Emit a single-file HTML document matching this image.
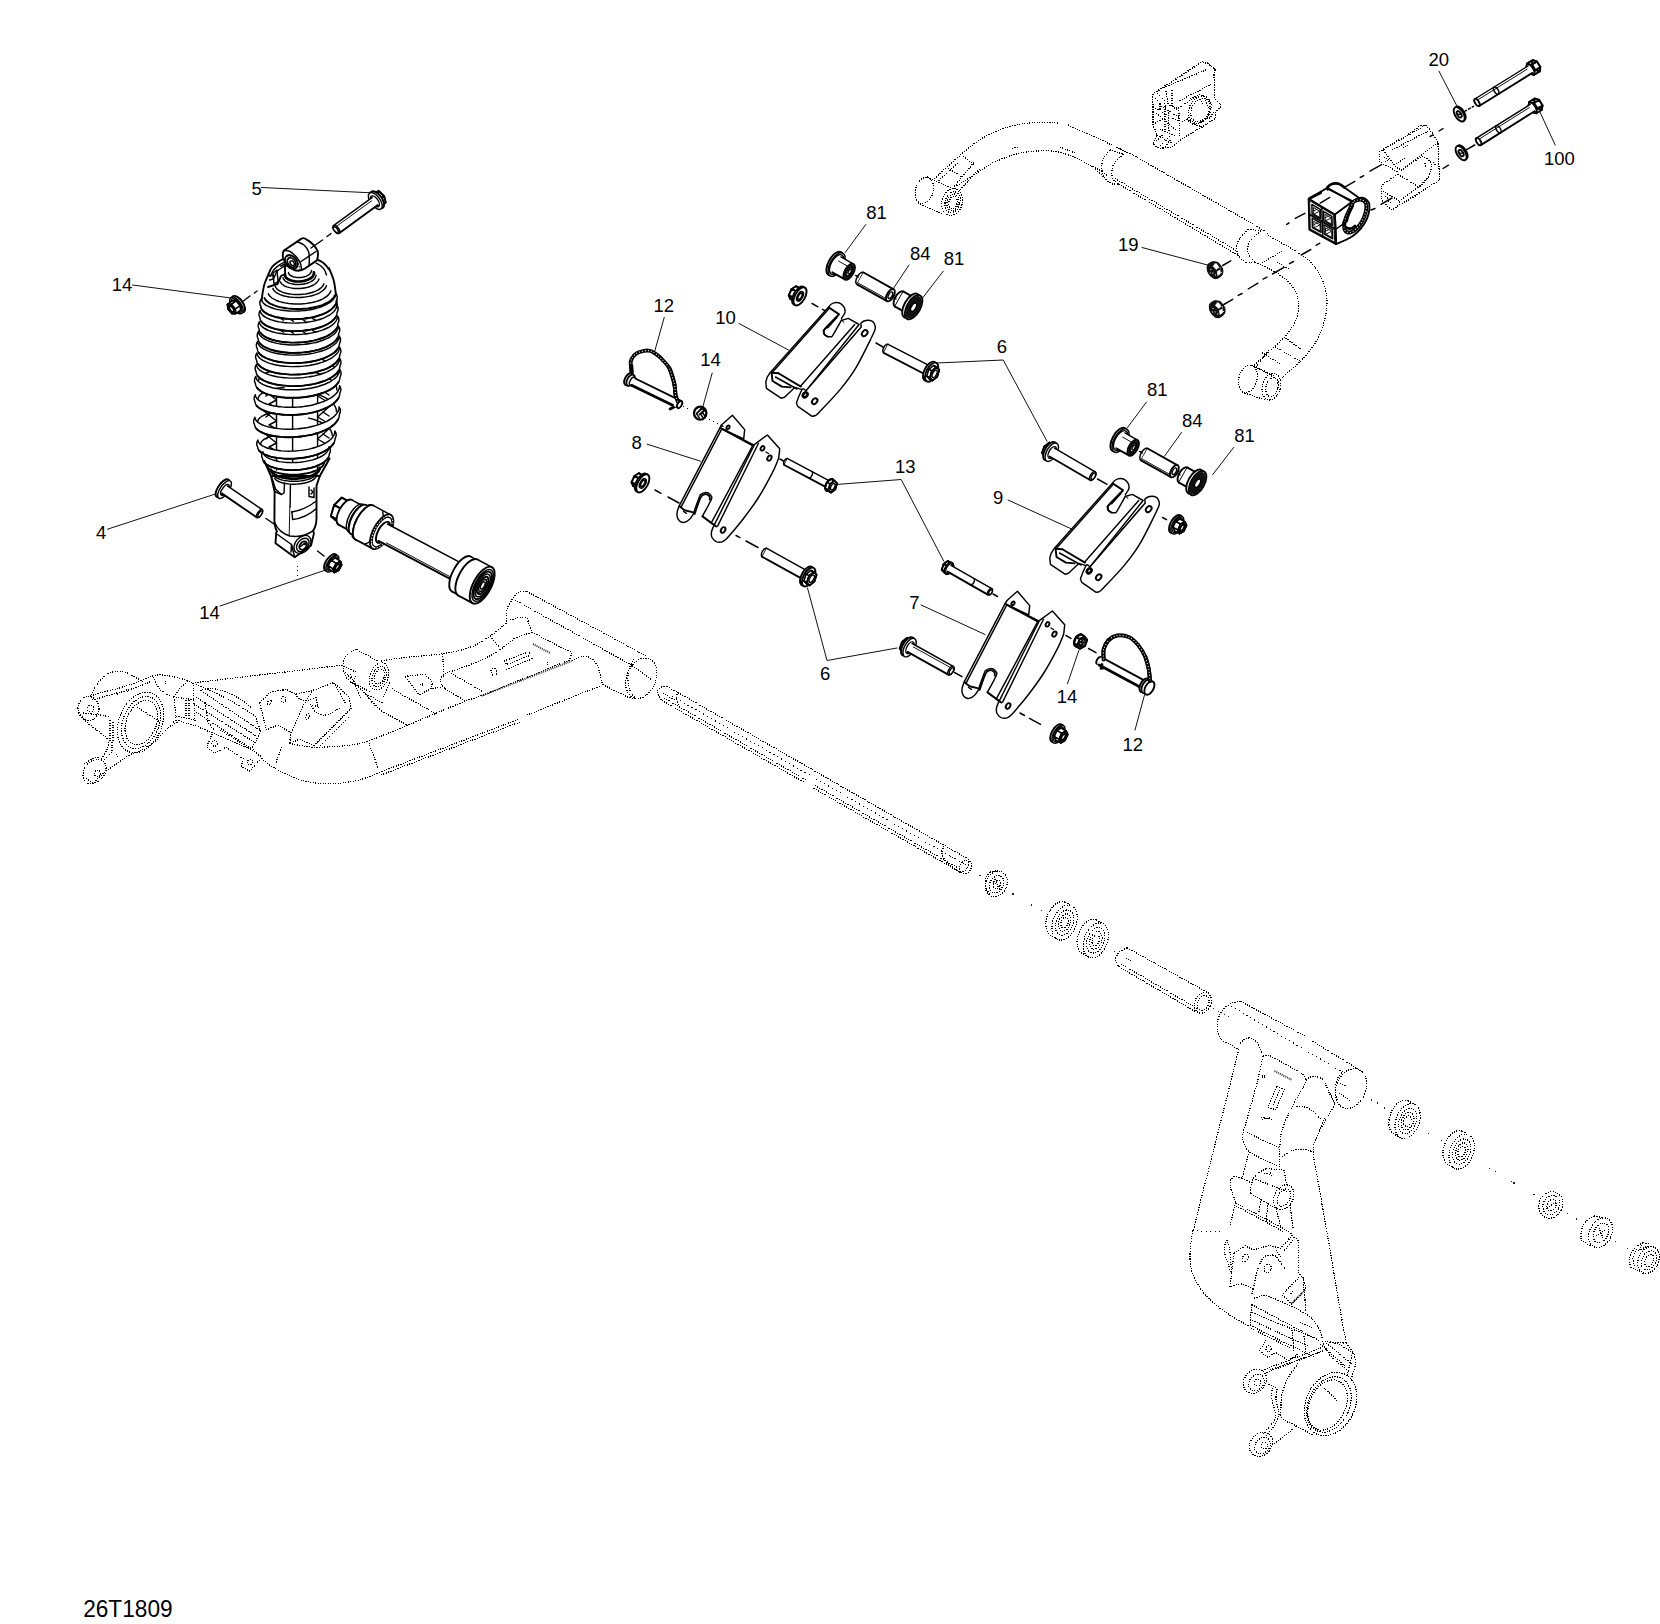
<!DOCTYPE html>
<html><head><meta charset="utf-8"><title>26T1809</title>
<style>
html,body{margin:0;padding:0;background:#fff;}
body{width:1660px;height:1624px;overflow:hidden;font-family:"Liberation Sans",sans-serif;}
svg{display:block}
svg text{font-family:"Liberation Sans",sans-serif;fill:#000;}
.k{fill:none;stroke:#000;stroke-width:1.45;stroke-linecap:round;stroke-linejoin:round}
.o{fill:none;stroke:#000;stroke-width:1.9;stroke-linecap:round;stroke-linejoin:round}
.h{fill:none;stroke:#000;stroke-width:2.7;stroke-linecap:round;stroke-linejoin:round}
.t{fill:none;stroke:#111;stroke-width:1.0;stroke-linecap:round}
.w{fill:#fff;stroke:#000;stroke-width:1.45;stroke-linejoin:round}
.wo{fill:#fff;stroke:#000;stroke-width:1.9;stroke-linejoin:round}
.wf{fill:#fff;stroke:none}
.wh{fill:#fff;stroke:#000;stroke-width:2.3}
.b{fill:#111;stroke:#111;stroke-width:1}
.d{shape-rendering:crispEdges;fill:none;stroke:#000;stroke-width:1.18;stroke-dasharray:1.2 1.3;stroke-linecap:butt}
.dw{fill:#fff;stroke:#000;stroke-width:1.05;stroke-dasharray:1.05 1.3;stroke-linecap:butt}
.d1{shape-rendering:crispEdges;fill:none;stroke:#222;stroke-width:1.2}
.d2{fill:none;stroke:#333;stroke-width:2;stroke-dasharray:1 1;stroke-linecap:butt}
.c{fill:none;stroke:#111;stroke-width:1;stroke-dasharray:11 5 2 5;stroke-linecap:butt}
.c2{fill:none;stroke:#111;stroke-width:1.6;stroke-dasharray:1.2 1.6;stroke-linecap:butt}
.ring{fill:none;stroke:#000;stroke-width:3.9;stroke-linecap:round}
.ringd{fill:none;stroke:#fff;stroke-width:1.1;stroke-dasharray:1 2;stroke-linecap:butt}
.cd{shape-rendering:crispEdges;fill:none;stroke:#000;stroke-width:1.1;stroke-dasharray:1.1 3.4;stroke-linecap:butt}
</style></head>
<body>
<svg width="1660" height="1624" viewBox="0 0 1660 1624">
<g id="p00_labels">
<text x="251.4" y="194.5" font-size="18.5" text-anchor="start">5</text>
<text x="111.7" y="290.5" font-size="18.5" text-anchor="start">14</text>
<text x="96" y="539" font-size="18.5" text-anchor="start">4</text>
<text x="199.2" y="618.5" font-size="18.5" text-anchor="start">14</text>
<text x="653.5" y="312.2" font-size="18.5" text-anchor="start">12</text>
<text x="715.2" y="323.5" font-size="18.5" text-anchor="start">10</text>
<text x="700.2" y="365.5" font-size="18.5" text-anchor="start">14</text>
<text x="631.5" y="449.2" font-size="18.5" text-anchor="start">8</text>
<text x="866.3" y="218.8" font-size="18.5" text-anchor="start">81</text>
<text x="910" y="260" font-size="18.5" text-anchor="start">84</text>
<text x="943.8" y="265" font-size="18.5" text-anchor="start">81</text>
<text x="996.8" y="353" font-size="18.5" text-anchor="start">6</text>
<text x="1118" y="250.5" font-size="18.5" text-anchor="start">19</text>
<text x="1147" y="396" font-size="18.5" text-anchor="start">81</text>
<text x="1182" y="427" font-size="18.5" text-anchor="start">84</text>
<text x="1234.3" y="442" font-size="18.5" text-anchor="start">81</text>
<text x="895" y="472.8" font-size="18.5" text-anchor="start">13</text>
<text x="992.9" y="504.4" font-size="18.5" text-anchor="start">9</text>
<text x="909.2" y="609.2" font-size="18.5" text-anchor="start">7</text>
<text x="820" y="680" font-size="18.5" text-anchor="start">6</text>
<text x="1056.7" y="703.2" font-size="18.5" text-anchor="start">14</text>
<text x="1122.5" y="750.5" font-size="18.5" text-anchor="start">12</text>
<text x="1428.4" y="65.5" font-size="18.5" text-anchor="start">20</text>
<text x="1544" y="164.5" font-size="18.5" text-anchor="start">100</text>
<text x="83.2" y="1616.8" font-size="23.5" text-anchor="start" textLength="89.4" lengthAdjust="spacingAndGlyphs">26T1809</text>
<path class="t" d="M261.5 187.5 L375 193"/>
<path class="t" d="M132.5 285 L231 298"/>
<path class="t" d="M107.5 529.2 L217 493.5"/>
<path class="t" d="M220 606 L326.2 569.8"/>
<path class="t" d="M664.2 317.5 L654.8 351"/>
<path class="t" d="M739 323.5 L788.5 350"/>
<path class="t" d="M712.2 373 L701.8 410.5"/>
<path class="t" d="M647.2 444.2 L700.5 461.2"/>
<path class="t" d="M865.8 224.5 L845.2 252.5"/>
<path class="t" d="M909 265 L893.2 288.8"/>
<path class="t" d="M943.2 271.2 L922 298.8"/>
<path class="t" d="M937 363 L1003.2 360 L1047 441.2"/>
<path class="t" d="M1142 247.5 L1212 266.2"/>
<path class="t" d="M1146.5 402 L1127.5 427.5"/>
<path class="t" d="M1181.5 432.5 L1164.5 456.2"/>
<path class="t" d="M1233.7 447.4 L1212.8 474.5"/>
<path class="t" d="M836.2 484.5 L901.2 479.5 L943.8 561.2"/>
<path class="t" d="M1008 500 L1071.2 528.8"/>
<path class="t" d="M921.2 605 L985 634.5"/>
<path class="t" d="M807.5 588 L827 660.5 L897 648"/>
<path class="t" d="M1067.5 683.8 L1078.8 650.5"/>
<path class="t" d="M1135 730 L1144.5 695"/>
<path class="t" d="M1439 71.2 L1459 110"/>
<path class="t" d="M1555.2 145 L1539 110"/>
</g>
<g id="p05_phantom_top">
<path class="d" d="M932.5 180.4 C937.3 176 953.3 161.1 961.4 154.2 C969.5 147.3 974.1 143.3 981.3 138.9 C988.5 134.5 996.7 130.7 1004.8 128 C1012.9 125.3 1021.1 123.8 1030.1 123 C1039.1 122.2 1054.2 123 1059 123"/>
<path class="d" d="M1068.1 124.9 C1073.2 127.2 1090.7 135.2 1098.8 138.9 C1106.9 142.7 1111.2 144.7 1116.9 147.4 C1122.6 150.1 1130.4 153.8 1133.1 155.1"/>
<path class="d" d="M1133.1 155.1 L1257.1 226.3"/>
<path class="d" d="M952.4 188.6 C956.9 185.7 972.6 175.8 979.5 171.4 C986.4 167 988 165.3 994 162.4 C1000 159.5 1008.5 156.1 1015.7 154.2 C1022.9 152.3 1030.8 151.4 1037.4 151 C1044 150.6 1049.4 150.5 1055.4 151.5 C1061.4 152.5 1067.5 154.5 1073.5 156.9 C1079.5 159.3 1086.8 163.6 1091.6 166 C1096.4 168.4 1100.6 170.5 1102.4 171.4"/>
<path class="d" d="M957.8 163.2 L937.9 181.3"/>
<path class="d" d="M974 162.4 L952.4 188.6"/>
<path class="d" d="M979.5 168.7 L957.8 192.2"/>
<path class="d" d="M963 156 L975 166"/>
<path class="d" d="M948 168 L962 177"/>
<path class="d" d="M1012 148.5 L1018 147"/>
<path class="d" d="M1060 147 L1075 153"/>
<ellipse class="d" cx="924.4" cy="190.4" rx="8.8" ry="13.4" transform="rotate(15 924.4 190.4)"/>
<path class="d" d="M927.1 176.8 L952.4 188.6"/>
<path class="d" d="M918.1 203 L943.4 214.5"/>
<ellipse class="d" cx="952.2" cy="202" rx="10.2" ry="13.8" transform="rotate(15 952.2 202)"/>
<ellipse class="d" cx="952.6" cy="202.2" rx="7.4" ry="10.6" transform="rotate(15 952.6 202.2)"/>
<ellipse class="d" cx="952.8" cy="202.4" rx="5.6" ry="8.6" transform="rotate(15 952.8 202.4)"/>
<ellipse class="d" cx="953" cy="202.4" rx="4" ry="6.4" transform="rotate(15 953 202.4)"/>
<path class="d" d="M1109.6 149.7 C1108.4 151.7 1103.5 157.1 1102.4 161.5 C1101.4 165.9 1101.8 172.2 1103.3 175.9 C1104.8 179.7 1110.1 182.7 1111.5 184"/>
<path class="d" d="M1123.2 154.2 C1121.5 156 1115.1 161.2 1113.3 165.1 C1111.5 169 1111.5 174.5 1112.4 177.7 C1113.3 180.8 1117.7 182.9 1118.7 184"/>
<path class="d" d="M1109.6 149.7 L1123.2 154.2"/>
<path class="d" d="M1111.5 184 L1118.7 184"/>
<path class="d" d="M1116.9 147.4 L1128 153"/>
<path class="d" d="M1118.7 184 L1240.5 256.8"/>
<path class="d" d="M1115 178.5 L1238 251.5"/>
<path class="d" d="M1102.4 171.4 L1108 176"/>
<path class="d" d="M1091.6 166 L1105 178"/>
<path class="d" d="M1247.9 229.1 C1246.2 231.2 1239.4 237.7 1237.7 242 C1236 246.3 1236.3 251.5 1237.7 254.9 C1239.1 258.3 1244.6 261.1 1246 262.3"/>
<path class="d" d="M1260.8 230.9 C1259 232.8 1251.8 238.3 1249.7 242 C1247.6 245.7 1247 249.7 1247.9 253.1 C1248.8 256.5 1254.1 260.8 1255.3 262.3"/>
<path class="d" d="M1247.9 229.1 L1260.8 230.9"/>
<path class="d" d="M1246 262.3 L1255.3 262.3"/>
<path class="d" d="M1257.1 226.3 L1268.2 233.5"/>
<path class="d" d="M1268.2 235.5 C1273.8 238.7 1293.2 248.9 1301.5 254.9 C1309.8 260.9 1313.9 265.1 1318.1 271.6 C1322.2 278.1 1325.2 286.4 1326.4 293.8 C1327.6 301.2 1326.9 308.5 1325.5 315.9 C1324.1 323.3 1321.8 331 1318.1 338.1 C1314.4 345.2 1308.8 352.3 1303.3 358.5 C1297.8 364.7 1289.2 370.9 1284.8 375.1 C1280.4 379.4 1278.3 382.5 1277 384"/>
<path class="d" d="M1255.3 262.3 C1259 264.1 1271.2 269.4 1277.4 273.4 C1283.6 277.4 1288.7 281.5 1292.2 286.4 C1295.8 291.3 1298.1 297.5 1298.7 303 C1299.3 308.5 1297.9 314.4 1295.9 319.6 C1293.9 324.8 1290.4 329.8 1286.7 334.4 C1283 339 1279.3 342.2 1273.8 347.4 C1268.2 352.6 1256.8 362.7 1253.4 365.8"/>
<path class="d" d="M1282 251 L1262 263"/>
<path class="d" d="M1277 262 L1290 270"/>
<path class="d" d="M1275 347 L1300 361"/>
<path class="d" d="M1285.5 338 L1302 350"/>
<path class="d" d="M1262 352.5 L1280 364"/>
<path class="d" d="M1254 365.8 L1275 378"/>
<path class="d" d="M1268.5 350.5 L1255.5 367.5"/>
<ellipse class="d" cx="1247.9" cy="378.8" rx="9" ry="14" transform="rotate(15 1247.9 378.8)"/>
<path class="d" d="M1250.5 365 L1273.8 375.1"/>
<path class="d" d="M1242.3 392.2 L1266.4 400.5"/>
<ellipse class="d" cx="1271.4" cy="386.6" rx="9" ry="13.6" transform="rotate(15 1271.4 386.6)"/>
<ellipse class="d" cx="1272" cy="387" rx="6" ry="9.6" transform="rotate(15 1272 387)"/>
<path class="d" d="M1152.4 94.7 L1201.8 62.2 L1207.9 63.6 L1215.4 69.6 L1214 74.4 L1214.7 98.8 L1221.5 105.6 L1215.7 112.3 L1215.7 118.4 L1180.1 140.1 L1171.3 147.6 L1159.1 148.2 L1153 144.2 L1157.1 135.4 L1153 124.5 L1153 106.2Z"/>
<path class="d" d="M1154 93 L1203 61"/>
<path class="d" d="M1207 62.5 L1216 70.5"/>
<path class="d" d="M1163.9 87.9 L1206.6 69.6"/>
<path class="d" d="M1179.5 100.8 L1210.6 84.6"/>
<path class="d" d="M1172 90 L1172 106.2 L1178.8 107.6 L1197.8 95.4"/>
<path class="d" d="M1178.8 107.6 L1179.5 138.1"/>
<path class="d" d="M1166 91 L1168 104 L1178 110"/>
<path class="d" d="M1157 93 L1164 100 L1166 108"/>
<path class="d" d="M1155 98 L1160 103 L1160 110"/>
<path class="d" d="M1153 107 L1178 121"/>
<path class="d" d="M1156 113 L1176 130"/>
<path class="d" d="M1161 106 L1180 118"/>
<path class="d" d="M1153 124.5 L1165 118"/>
<path class="d" d="M1165 106 L1165 130"/>
<path class="d" d="M1168.5 110 L1169 132"/>
<path class="d" d="M1157.1 135.4 L1172 143"/>
<path class="d" d="M1160 129 L1176 136"/>
<path class="d" d="M1156 141 L1165 133"/>
<path class="d" d="M1160 146 L1170 136"/>
<path class="d" d="M1165 147 L1171 139"/>
<path class="d" d="M1182 122 L1188 119"/>
<ellipse class="d" cx="1199.8" cy="109.6" rx="10.5" ry="14.4" transform="rotate(28 1199.8 109.6)"/>
<ellipse class="d" cx="1200.4" cy="110" rx="8.6" ry="12.4" transform="rotate(28 1200.4 110)"/>
<path class="d" d="M1190 99 L1200 94.5 L1207 98 L1211 104"/>
<path class="d" d="M1187 118 L1192 124 L1200 126"/>
<path class="d" d="M1197 95 L1201 101 L1203 104"/>
<path class="d" d="M1204 98 L1209 108 L1212 110"/>
<path class="d" d="M1188 121 L1204 128"/>
<path class="d" d="M1198 124 L1212 116"/>
<path class="d" d="M1209 119 L1214 112"/>
<path class="d" d="M1408.2 134.4 L1421.1 125.3 L1425.6 125.3 L1430.2 129.9 L1437.9 142.2 L1438.9 164.2 L1439.5 179.7 L1437.3 181.6 L1400.4 204.3"/>
<path class="d" d="M1399.1 139.3 L1379.4 152.2 L1379.4 161.6 L1397.8 171.9 L1399 173"/>
<path class="d" d="M1397.8 174.2 L1381.6 185.2 L1381.6 199.7 L1390.7 209.4 L1394.6 208.8 L1399.8 204.3 L1399.1 199.7"/>
<path class="d" d="M1397.8 174.2 L1418.5 186.8"/>
<path class="d" d="M1401 200 L1418.5 186.8 L1428.2 177.1"/>
<path class="d" d="M1401 170.6 C1404 168.6 1415.4 160.6 1419.2 158.3 C1423 156 1421.9 156.4 1423.7 157 C1425.5 157.6 1428.9 160 1430.2 161.6 C1431.5 163.2 1431.7 164.1 1431.4 166.7 C1431.1 169.3 1430.4 173.5 1428.2 177.1 C1426 180.7 1420.1 186.3 1418.5 188.1"/>
<path class="d" d="M1401 170.6 L1437.9 142.2"/>
<path class="d" d="M1382.9 191.3 L1399.8 201"/>
<path class="d" d="M1385 196 L1389 199"/>
<path class="d" d="M1388 201 L1391 203"/>
<path class="d" d="M1383.3 149.3 L1425.6 125.3"/>
<path class="d" d="M1392 150 L1430.2 129.9"/>
<path class="d" d="M1383 150 L1396 167 L1401 170"/>
<path class="d" d="M1384 157 L1389 160"/>
<path class="d" d="M1385 161.5 L1388 160.5"/>
<path class="d" d="M1396 164 L1405 158"/>
<path class="d" d="M1403 148 L1408 145"/>
<path class="d" d="M1404 203 L1420 193"/>
<path class="d" d="M1425 163 L1426 168"/>
<path class="d" d="M1433 162 L1436 166"/>
</g>
<g id="p06_phantom_left">
<ellipse class="d" cx="140.5" cy="722.5" rx="21.5" ry="31.5" transform="rotate(22 140.5 722.5)"/>
<ellipse class="d" cx="141" cy="722.5" rx="18" ry="27" transform="rotate(22 141 722.5)"/>
<ellipse class="d" cx="141.4" cy="722.5" rx="15" ry="23" transform="rotate(22 141.4 722.5)"/>
<path class="d" d="M137 707 L160 722"/>
<path class="d" d="M90.8 695.2 C91.7 693.7 94.1 688.9 96 686 C97.9 683.1 100.1 680 102.4 677.8 C104.7 675.6 107.4 674.1 110 673 C112.6 671.9 114.9 671.1 117.8 671.1 C120.7 671.1 124.6 672 127.5 673 C130.4 674 132.4 675.5 135 677 C137.6 678.5 141.6 680.9 142.9 681.7"/>
<ellipse class="d" cx="88.5" cy="708.5" rx="10.5" ry="12" transform="rotate(0 88.5 708.5)"/>
<ellipse class="d" cx="90.5" cy="708.5" rx="3.2" ry="3.2" transform="rotate(0 90.5 708.5)"/>
<path class="d" d="M79.3 712.5 C80.1 713.6 82.4 717.1 84 719 C85.6 720.9 86.6 722.1 88.9 724.1 C91.2 726.1 94.8 728.4 98 731 C101.2 733.6 106.5 738.1 108.2 739.5"/>
<path class="d" d="M83 713 L101 715 L110 717"/>
<path class="d" d="M88 697 C90 696.3 95 694.4 100 693 C105 691.6 112 690.1 117.8 688.4 C123.6 686.7 129.2 685.1 135 683 C140.8 680.9 147.8 677.2 152.5 675.9 C157.2 674.6 159.5 674.8 163 675 C166.5 675.2 170.2 676.1 173.7 676.9 C177.2 677.6 180.8 678.5 184 679.5 C187.2 680.5 191.5 682.2 193 682.7"/>
<path class="d" d="M92 700 C95 699.2 104.5 696.5 110 695 C115.5 693.5 120 692.5 125 691 C130 689.5 135.5 687.7 140 686 C144.5 684.3 150 681.8 152 681"/>
<path class="d" d="M116 692 L118 695"/>
<path class="d" d="M126 689 L128 692"/>
<path class="d" d="M173.7 697.1 C173.9 698.8 174.7 703.5 175 707 C175.3 710.5 176.2 715.5 175.7 718.3 C175.2 721.1 173.3 722.4 172 724 C170.7 725.6 168.7 727.3 168 728"/>
<path class="d" d="M173.7 697.1 L180 688 L188 681"/>
<path class="d" d="M153 677 L160 690 L170 696"/>
<path class="d" d="M165 681 L166 684"/>
<path class="d" d="M168 728 C166.7 729.3 162.6 733.4 160 736 C157.4 738.6 155.7 741.1 152.5 743.4 C149.3 745.7 144.8 748.1 141 750 C137.2 751.9 131.3 754.1 129.4 754.9"/>
<path class="d" d="M129.4 754.9 L104.3 772.3"/>
<path class="d" d="M108.2 739.5 C108.2 740.4 108.9 742.9 108.5 745 C108.1 747.1 107.2 749.7 106 752 C104.8 754.3 102.2 757.7 101.4 758.8"/>
<path class="d" d="M112 742 L112 752 L104 760"/>
<path class="d" d="M110 720 L110 741"/>
<path class="d" d="M113 722 L113 742"/>
<path class="d" d="M116 754 L118 757"/>
<path class="d" d="M104 754 L107 750"/>
<ellipse class="d" cx="94.5" cy="771.5" rx="10" ry="13.5" transform="rotate(40 94.5 771.5)"/>
<ellipse class="d" cx="97.5" cy="773.5" rx="3.4" ry="3.4" transform="rotate(0 97.5 773.5)"/>
<path class="d" d="M84 764 C85.3 763.2 89.3 760.2 92 759 C94.7 757.8 98.7 757.3 100 757"/>
<path class="d" d="M86 778 L93 783.5 L104.3 772.3"/>
<path class="d" d="M194.9 682.7 L341.4 665.3"/>
<path class="d" d="M193 682.7 L195 722"/>
<path class="d" d="M175.7 697 L194 700"/>
<path class="d" d="M176 716 L194 720"/>
<path class="d" d="M200.7 690.4 L260.5 730.8"/>
<path class="d" d="M196 684 L205 688 L230 700 L255 716 L260.5 730.8"/>
<path class="d" d="M200 690.5 C202 690.2 207.7 688.2 212 688.5 C216.3 688.8 221.3 690.2 226 692 C230.7 693.8 235.7 696.3 240 699 C244.3 701.7 250 706.5 252 708"/>
<path class="d" d="M196 697 L256 736"/>
<path class="d" d="M194 704 L254 742"/>
<path class="d" d="M196 712 L252 749"/>
<path class="d" d="M176 720 L196 726 L250.8 749.2"/>
<path class="d" d="M260.5 730.8 L256 741 L250.8 749.2"/>
<path class="d" d="M186 700 L186 718"/>
<path class="d" d="M189 700 L189 720"/>
<path class="d" d="M205 703 L208 722 L214 730"/>
<path class="d" d="M168 728 L178 722"/>
<path class="d" d="M212.3 733.7 L206.5 747.2 L214.2 753 L225.8 747.2 L243.1 758.8 L241.2 766.5 L249.9 771.3 L260.5 758.8"/>
<ellipse class="d" cx="214.5" cy="743.3" rx="2.8" ry="2.8" transform="rotate(0 214.5 743.3)"/>
<ellipse class="d" cx="250" cy="762.3" rx="2.8" ry="2.8" transform="rotate(0 250 762.3)"/>
<path class="d" d="M220 730 L250.8 749.2 L262 757"/>
<path class="d" d="M259.5 702.9 L270.1 692.3 L286.5 689.4 L295.2 694.2 L312.5 690.4 L333.7 682.7"/>
<path class="d" d="M259.5 702.9 L266.3 729.9 L277.8 725.1 L291.3 732.8 L289.4 743.4 L299 739.5 L314.5 745.3 L351.1 708.7 L349.2 697.1 L333.7 682.7"/>
<path class="d" d="M291.3 732.8 L301 710.6 L307 699 L312.5 690.4"/>
<ellipse class="d" cx="269.5" cy="702.5" rx="2.4" ry="1.6" transform="rotate(-30 269.5 702.5)"/>
<ellipse class="d" cx="283.5" cy="699.5" rx="2.2" ry="3" transform="rotate(20 283.5 699.5)"/>
<ellipse class="d" cx="307.5" cy="716.5" rx="1.6" ry="3" transform="rotate(30 307.5 716.5)"/>
<path class="d" d="M295.2 694.2 C296 695 297.9 698 300 699 C302.1 700 305.3 700.8 308 700.5 C310.7 700.2 314.7 697.6 316 697"/>
<path class="d" d="M310 704 C311 705.3 313.3 710.2 316 712 C318.7 713.8 322 715.7 326 715 C330 714.3 337.7 709.2 340 708"/>
<path class="d" d="M316 697 L318 707 L310 704"/>
<path class="d" d="M333.7 682.7 L346 704"/>
<path class="d" d="M316 744 L348 712"/>
<path class="d" d="M320 746 L350 716"/>
<path class="d" d="M252.8 749.2 C256 752.1 264 761.4 272 766.5 C280 771.6 291.4 777.1 301 780 C310.6 782.9 320.3 783.9 329.9 783.9 C339.5 783.9 350.6 781.9 358.8 780 C367 778.1 375.8 773.8 379.2 772.5"/>
<path class="d" d="M289.4 743.4 C293.6 744 304.5 746.9 314.5 747.2 C324.5 747.5 340.5 746.2 349.2 745.3 C357.9 744.4 363.9 742.4 366.9 741.8"/>
<path class="d" d="M281.7 747.2 L275.9 762.7"/>
<path class="d" d="M368.9 742.8 L378.1 768.4"/>
<path class="d" d="M379.2 772.5 L518.4 719.3"/>
<path class="d" d="M381 775 L520 722"/>
<path class="d" d="M526.6 715.2 L600 686"/>
<path class="d" d="M366.9 741.8 L407.8 725.4 L436.5 713.1 L465.2 700.9 L481.6 695.7"/>
<path class="d" d="M356.6 649.6 C355.2 650.2 350.6 651.8 348.5 653.5 C346.4 655.2 345.2 657.1 344.3 659.9 C343.4 662.7 343 667.2 343.3 670.1 C343.6 673 344.8 675 346 677 C347.2 679 349.8 681.5 350.5 682.4"/>
<path class="d" d="M356.6 649.6 L379.2 661.9"/>
<path class="d" d="M350.5 682.4 L371 692"/>
<ellipse class="d" cx="379" cy="676.3" rx="9" ry="14" transform="rotate(20 379 676.3)"/>
<ellipse class="d" cx="379.2" cy="676.5" rx="6.6" ry="10.6" transform="rotate(20 379.2 676.5)"/>
<ellipse class="d" cx="379.4" cy="676.6" rx="4.6" ry="7.6" transform="rotate(20 379.4 676.6)"/>
<path class="d" d="M343.3 670.1 L381.2 711"/>
<path class="d" d="M350.5 674 L360.7 698.8"/>
<path class="d" d="M389.4 682.4 L383.2 698.8"/>
<path class="d" d="M352 682 L362 690 L375 706"/>
<path class="d" d="M356 676 L352 684"/>
<path class="d" d="M366 694 L384 704"/>
<path class="d" d="M341.4 665.3 L356 672"/>
<path class="d" d="M506.2 623 C503.5 625.2 495.9 632.2 489.8 636.3 C483.7 640.4 477.2 644.7 469.3 647.6 C461.4 650.5 452.3 652.2 442.7 653.7 C433.1 655.2 421.1 655.8 411.9 656.8 C402.7 657.8 392.7 659.1 387.4 659.9 C382.1 660.7 381.2 661.2 380 661.5"/>
<path class="d" d="M514.4 638.4 C511 641 501.4 649.3 493.9 653.7 C486.4 658.1 477.5 661.6 469.3 665 C461.1 668.4 449.5 671.3 444.7 674.2 C439.9 677.1 440.6 680 440.6 682.4 C440.6 684.8 444 687.6 444.7 688.6"/>
<path class="d" d="M510 620 C511.5 619.6 516.2 617.9 519 617.5 C521.8 617.1 525 616.8 526.6 617.9 C528.2 619 527.8 621.6 528.7 624 C529.6 626.4 531.3 630.8 531.8 632.2"/>
<path class="d" d="M531.8 632.2 L514.4 638.4"/>
<path class="d" d="M442.7 653.7 L443.7 678.3"/>
<path class="d" d="M489.8 636.3 L500 647.6"/>
<path class="d" d="M450.8 673.2 L482.6 691.6"/>
<path class="d" d="M444.7 688.6 L465.2 700.9"/>
<path class="d" d="M391.5 688.6 L436.5 714.2"/>
<path class="d" d="M381.2 711 L407.8 725.4"/>
<path class="d" d="M404.8 676.3 L425.2 674.2 L432.4 682.4 L431.4 688.6 L419.1 694.7Z"/>
<path class="d" d="M420 684 L423 686"/>
<path class="d" d="M423 683.5 L420.5 686.5"/>
<path class="d" d="M432.4 688.6 L442 687"/>
<path class="d" d="M531.8 632.2 L571.7 652.7 L569.7 659.9 L481.6 695.7"/>
<path class="d2" d="M481.6 695.7 L571.7 660.9"/>
<path class="d" d="M504 661 L529 651.6 L531 655 L506.5 664.5Z"/>
<path class="d" d="M506 669.5 L533 658.5"/>
<ellipse class="d" cx="494" cy="672" rx="2.8" ry="4" transform="rotate(-20 494 672)"/>
<path class="d2" d="M533 644 L550 653"/>
<path class="d" d="M547 662 L548 664.5"/>
<path class="d" d="M571.7 660.9 C573.4 660.1 578.6 656.5 582 656.2 C585.4 655.9 589.5 656.9 592.2 658.9 C594.9 660.9 596.6 663.8 598.3 668.1 C600 672.4 601.7 681.8 602.4 684.5"/>
<path class="d" d="M526.6 591.3 L649.5 657.8"/>
<path class="d" d="M602.4 684.5 L627 696.8"/>
<path class="d" d="M526.6 591.3 C525.3 591.4 521 591.1 519 592 C517 592.9 516.4 593.6 514.4 596.4 C512.4 599.2 508.6 604.3 507.2 608.7 C505.8 613.1 506.4 620.6 506.2 623"/>
<ellipse class="d" cx="641.3" cy="678.3" rx="14.5" ry="21" transform="rotate(22 641.3 678.3)"/>
<path class="d" d="M630 664 L652 680"/>
<path class="d" d="M634 659 C633.2 660.7 630 665.2 629 669 C628 672.8 627.7 678 628 682 C628.3 686 629.7 690.3 631 693 C632.3 695.7 635.2 697.2 636 698"/>
<path class="d" d="M515 600 L633 666"/>
<path class="d" d="M627 696.8 L637 699.5"/>
</g>
<g id="p07_phantom_right">
<path class="d" d="M667.1 686.3 L952.3 850"/>
<path class="d" d="M661.7 700.4 L804.8 782.8"/>
<path class="d" d="M813.5 788.2 L961 872.8"/>
<path class="d" d="M664 698 L806 780"/>
<path class="d" d="M815 785.5 L958 868"/>
<path class="d" d="M667.1 686.3 C666 686.5 662.1 686.4 660.5 687.5 C658.9 688.6 657.1 690.6 657.3 692.8 C657.5 694.9 661 699.1 661.7 700.4"/>
<path class="d" d="M678 692 C677.8 693 676.2 695.3 676.5 698 C676.8 700.7 679.4 706.3 680 708"/>
<path class="d" d="M663 693 L676 701"/>
<path class="cd" d="M672 696 L950 856"/>
<path class="d" d="M944 846 C943.7 847.2 941.7 850.2 942 853 C942.3 855.8 945.3 860.9 946 862.5"/>
<path class="d" d="M952.3 850 L968 859"/>
<path class="d" d="M946 862.5 L961 872.8"/>
<path class="d" d="M968 859 C968.6 859.8 971.1 862.2 971.5 864 C971.9 865.8 971.4 868.4 970.5 870 C969.6 871.6 967.6 873 966 873.5 C964.4 874 961.8 872.9 961 872.8"/>
<ellipse class="d" cx="964" cy="866" rx="3.6" ry="6.4" transform="rotate(30 964 866)"/>
<path class="d" d="M950 856 L966 865"/>
<ellipse class="d" cx="996.3" cy="883.9" rx="10.5" ry="13.2" transform="rotate(25 996.3 883.9)"/>
<ellipse class="d" cx="996.6" cy="884.2" rx="6.8" ry="9" transform="rotate(25 996.6 884.2)"/>
<ellipse class="d" cx="997" cy="884.4" rx="3.2" ry="4.4" transform="rotate(25 997 884.4)"/>
<path class="d" d="M990 872 C989.2 873.2 986.2 876.2 985.5 879 C984.8 881.8 985.9 887.3 986 889"/>
<path class="d" d="M990 872 L998 870.6"/>
<path class="d" d="M986 889 L991 895"/>
<path class="d" d="M991 880 L1002 888"/>
<path class="d" d="M994 877 L1000 891"/>
<path class="d" d="M1053 936.4 C1052.6 936.2 1051.3 935.9 1050.6 935.4 C1049.9 934.9 1049.2 934.3 1048.6 933.6 C1048.1 932.9 1047.5 932 1047.1 931.1 C1046.7 930.2 1046.4 929.1 1046.2 928 C1046 926.9 1045.9 925.7 1045.9 924.5 C1045.8 923.3 1045.9 922 1046.1 920.7 C1046.3 919.4 1046.6 918.1 1047 916.8 C1047.4 915.6 1047.9 914.3 1048.4 913.1 C1049 911.9 1049.7 910.7 1050.4 909.6 C1051.1 908.6 1051.9 907.5 1052.7 906.6 C1053.5 905.7 1054.4 904.9 1055.3 904.3 C1056.2 903.6 1057.2 903 1058.1 902.6 C1059 902.2 1060 901.9 1060.9 901.7 C1061.8 901.6 1062.7 901.6 1063.5 901.7 C1064.4 901.9 1065.6 902.4 1066 902.6"/>
<path class="d" d="M1052 936.1 L1058.1 939.6"/>
<path class="d" d="M1065.1 902.1 L1071.1 905.6"/>
<ellipse class="d" cx="1064.6" cy="922.6" rx="18.2" ry="11.6" transform="rotate(111 1064.6 922.6)"/>
<ellipse class="d" cx="1064.6" cy="922.6" rx="13.1" ry="8.4" transform="rotate(111 1064.6 922.6)"/>
<ellipse class="d" cx="1064.6" cy="922.6" rx="9.1" ry="5.8" transform="rotate(111 1064.6 922.6)"/>
<ellipse class="d" cx="1064.6" cy="922.6" rx="5.5" ry="3.5" transform="rotate(111 1064.6 922.6)"/>
<path class="d" d="M1084.2 954.2 C1083.8 954 1082.5 953.7 1081.8 953.2 C1081.1 952.7 1080.4 952.1 1079.8 951.4 C1079.3 950.7 1078.7 949.8 1078.3 948.9 C1077.9 948 1077.6 946.9 1077.4 945.8 C1077.2 944.7 1077.1 943.5 1077.1 942.3 C1077 941.1 1077.1 939.8 1077.3 938.5 C1077.5 937.2 1077.8 935.9 1078.2 934.6 C1078.6 933.4 1079.1 932.1 1079.6 930.9 C1080.2 929.7 1080.9 928.5 1081.6 927.4 C1082.3 926.4 1083.1 925.3 1083.9 924.4 C1084.7 923.5 1085.6 922.7 1086.5 922.1 C1087.4 921.4 1088.4 920.8 1089.3 920.4 C1090.2 920 1091.2 919.7 1092.1 919.5 C1093 919.4 1093.9 919.4 1094.7 919.5 C1095.6 919.7 1096.8 920.2 1097.2 920.4"/>
<path class="d" d="M1083.2 953.9 L1089.3 957.4"/>
<path class="d" d="M1096.3 919.9 L1102.3 923.4"/>
<ellipse class="d" cx="1095.8" cy="940.4" rx="18.2" ry="11.6" transform="rotate(111 1095.8 940.4)"/>
<ellipse class="d" cx="1095.8" cy="940.4" rx="13.1" ry="8.4" transform="rotate(111 1095.8 940.4)"/>
<ellipse class="d" cx="1095.8" cy="940.4" rx="9.1" ry="5.8" transform="rotate(111 1095.8 940.4)"/>
<ellipse class="d" cx="1095.8" cy="940.4" rx="5.5" ry="3.5" transform="rotate(111 1095.8 940.4)"/>
<path class="d" d="M1127 947.9 L1209.6 993.5"/>
<path class="d" d="M1118.5 966.5 L1196.1 1012"/>
<path class="d" d="M1121 964 L1198 1009"/>
<path class="d" d="M1127 947.9 C1125.8 948.5 1121.8 950 1120 951.5 C1118.2 953 1117 955.4 1116.3 957 C1115.6 958.6 1115.6 959.8 1116 961.4 C1116.4 963 1118.1 965.6 1118.5 966.5"/>
<ellipse class="d" cx="1202.9" cy="1002.8" rx="8" ry="10.8" transform="rotate(25 1202.9 1002.8)"/>
<ellipse class="d" cx="1203.2" cy="1003" rx="5.4" ry="7.6" transform="rotate(25 1203.2 1003)"/>
<path class="d" d="M1126 958 L1132 961.5"/>
<path class="d1" d="M979.4 875.4 h1.2"/>
<path class="d1" d="M1012.3 894 h1.2"/>
<path class="d1" d="M1030.8 905 h1.2"/>
<path class="d1" d="M1041 910.8 h1.2"/>
<path class="d1" d="M1113.5 951.3 h1.2"/>
<path class="d1" d="M1213 1008.6 h1.2"/>
<path class="d1" d="M1218 1011.5 h1.2"/>
<path class="d" d="M1240.4 1001.2 C1238.5 1001.7 1232.7 1002.1 1229.2 1004.4 C1225.7 1006.7 1221.6 1010.7 1219.6 1014.8 C1217.6 1018.9 1216.9 1025.1 1217.2 1029.2 C1217.5 1033.3 1220.5 1037.9 1221.2 1039.6"/>
<path class="d" d="M1240.4 1001.2 L1304.5 1035.6"/>
<path class="d" d="M1312.5 1041.2 L1363.7 1072.5"/>
<ellipse class="d" cx="1350.9" cy="1088.5" rx="14.8" ry="20.6" transform="rotate(22 1350.9 1088.5)"/>
<path class="d" d="M1343 1071 C1342 1072.5 1338.2 1076.5 1337 1080 C1335.8 1083.5 1335.2 1088.2 1335.5 1092 C1335.8 1095.8 1337.2 1100.3 1338.5 1103 C1339.8 1105.7 1342.2 1107.2 1343 1108"/>
<path class="d" d="M1221.2 1039.6 L1238.8 1049.3"/>
<path class="d" d="M1330.1 1093.3 L1336.5 1106"/>
<path class="cd" d="M1231 1006 L1343 1072.5"/>
<path class="d" d="M1340 1083 L1347 1087"/>
<path class="d" d="M1339 1093 L1351 1101"/>
<path class="d" d="M1238.8 1049.3 L1194 1227.8 L1192.4 1230.8"/>
<path class="d" d="M1240.4 1043.6 C1241 1042.9 1242.7 1040.4 1244 1039.5 C1245.3 1038.6 1247.1 1038.1 1248.5 1038 C1249.9 1037.9 1251.2 1038.3 1252.5 1039 C1253.8 1039.7 1254.8 1039.5 1256.5 1042 C1258.2 1044.5 1261.8 1052 1262.9 1054"/>
<path class="d" d="M1262.9 1056.5 C1262 1060.8 1259.7 1072.4 1257.3 1082 C1254.9 1091.6 1250.9 1105.3 1248.5 1114.1 C1246.1 1122.9 1243.3 1129.6 1242.8 1134.9 C1242.2 1140.2 1244.1 1143.2 1245.2 1146.1 C1246.3 1149 1248.6 1151.4 1249.3 1152.5"/>
<path class="d" d="M1262.9 1056 L1269.3 1055.2 L1302.9 1074.1 L1306.1 1080.5"/>
<path class="d2" d="M1274.5 1071 L1292 1080"/>
<path class="d" d="M1262 1075.5 L1265 1077.5"/>
<path class="d" d="M1265 1075.5 L1262.5 1077.5"/>
<path class="d" d="M1277 1086 L1284.5 1089.5 L1276 1110 L1268 1107Z"/>
<path class="d" d="M1280 1090 L1273 1106"/>
<path class="d" d="M1261 1117 L1272 1119.5"/>
<path class="d" d="M1262 1119.5 L1272 1117"/>
<path class="d" d="M1306.1 1080.5 C1306.7 1080 1308.2 1078.2 1309.5 1077.5 C1310.8 1076.8 1312.5 1076.5 1314.1 1076.5 C1315.7 1076.5 1317.4 1076.8 1319 1077.5 C1320.6 1078.2 1321.9 1077.6 1323.7 1080.5 C1325.5 1083.4 1328.2 1090.9 1330.1 1094.9 C1332 1098.9 1334.1 1102.9 1334.9 1104.5"/>
<path class="d" d="M1334.9 1104.5 C1333 1107.7 1326.9 1117.8 1323.7 1123.7 C1320.5 1129.6 1317.4 1134.6 1315.7 1139.7 C1314 1144.8 1312.8 1146.4 1313.3 1154.1 C1313.8 1161.8 1316.8 1173.8 1318.9 1186.1 C1321 1198.4 1324.2 1217.1 1326.1 1227.8 C1328 1238.5 1328.1 1238.3 1330.1 1250 C1332.1 1261.7 1335.4 1282.6 1338.1 1298.1 C1340.8 1313.6 1344.8 1335.4 1346.1 1342.9"/>
<path class="d" d="M1306.1 1082 C1303.7 1086.3 1295.7 1099.7 1291.7 1107.7 C1287.7 1115.7 1284.1 1123.2 1282.1 1130.1 C1280.1 1137 1280.1 1143.2 1279.7 1149.3 C1279.3 1155.4 1279.7 1164 1279.7 1166.9"/>
<path class="d" d="M1296.5 1106.1 C1298.1 1106.3 1303.1 1106.5 1306 1107.5 C1308.9 1108.5 1311.6 1110.1 1314 1112 C1316.4 1113.9 1319.4 1117.8 1320.5 1118.9"/>
<path class="d" d="M1282.1 1156.5 C1283.4 1155.7 1287.3 1152.7 1290 1151.5 C1292.7 1150.3 1295.4 1149.6 1298.1 1149.3 C1300.8 1149 1303.6 1149.4 1306 1149.8 C1308.4 1150.2 1311.4 1151.4 1312.5 1151.7"/>
<path class="d" d="M1246.8 1132.5 L1278.9 1147.7"/>
<path class="d" d="M1249.3 1152.5 L1278.9 1166.9"/>
<path class="d" d="M1248.5 1154 L1242 1178.1"/>
<path class="d" d="M1325 1118 L1318.5 1132"/>
<ellipse class="d" cx="1283.7" cy="1197.3" rx="9.4" ry="13" transform="rotate(25 1283.7 1197.3)"/>
<ellipse class="d" cx="1284" cy="1197.6" rx="6" ry="9" transform="rotate(25 1284 1197.6)"/>
<path class="d" d="M1266.1 1168.5 C1264.4 1169.6 1258.4 1172.4 1256 1175 C1253.6 1177.6 1252.4 1180.9 1251.5 1184 C1250.6 1187.1 1250.7 1191.9 1250.5 1193.5"/>
<path class="d" d="M1266.1 1168.5 L1284 1170 L1287 1185"/>
<path class="d" d="M1253.3 1178.1 L1287 1192"/>
<path class="d" d="M1250.5 1193.5 L1276 1208.5"/>
<path class="d" d="M1264 1173 L1273.5 1176"/>
<path class="d" d="M1270 1172.5 L1272 1174.5"/>
<path class="d" d="M1261 1199 L1259 1212"/>
<path class="d" d="M1268 1203 L1266 1222"/>
<path class="d" d="M1276 1208.5 L1281 1228"/>
<path class="d" d="M1290 1205 L1293 1228"/>
<path class="d" d="M1242 1178.1 C1240.8 1177.8 1236.9 1176.2 1235 1176.5 C1233.1 1176.8 1231.6 1178.4 1230.8 1180 C1230 1181.6 1230.3 1184.2 1230.4 1186 C1230.5 1187.8 1230.7 1188.2 1231.6 1190.9 C1232.5 1193.6 1234.9 1200.3 1235.6 1202.2"/>
<path class="d" d="M1242 1178.1 L1251.5 1183"/>
<path class="d" d="M1235.6 1203 L1282.1 1227.8 L1292 1234"/>
<path class="d" d="M1236 1206 L1262 1220 L1284 1232"/>
<path class="d" d="M1235.6 1202.2 L1230 1226.2"/>
<path class="d" d="M1192.4 1230.8 C1192 1235.3 1189.7 1250.3 1190 1258 C1190.3 1265.7 1191.2 1270.8 1194 1277.2 C1196.8 1283.6 1201.5 1290.6 1206.8 1296.5 C1212.1 1302.4 1218.8 1307.4 1226 1312.5 C1233.2 1317.6 1246.1 1324.5 1250.1 1326.9"/>
<path class="cd" d="M1192.4 1230.8 L1219.6 1231.6"/>
<path class="d" d="M1251.7 1304.5 L1320.5 1341.3"/>
<path class="d" d="M1250.1 1325.3 L1314 1357"/>
<path class="d" d="M1251.7 1304.5 L1250.1 1325.3"/>
<path class="d" d="M1252 1312.5 L1314 1338"/>
<path class="d" d="M1252 1320.5 L1308 1346"/>
<path class="d" d="M1251 1328.5 L1290 1347.5"/>
<path class="d" d="M1251.7 1299 C1253 1298.6 1256.8 1296.9 1259.7 1296.5 C1262.6 1296.1 1261.6 1293.6 1269.3 1296.5 C1277 1299.4 1297.8 1308.8 1306.1 1314.1 C1314.4 1319.4 1316.2 1324.5 1318.9 1328.5 C1321.6 1332.5 1321.6 1336.5 1322.1 1338.1"/>
<path class="d" d="M1292 1330 L1294 1352"/>
<path class="d" d="M1304 1336 L1306 1354"/>
<path class="d" d="M1300 1322 L1316 1330"/>
<path class="d" d="M1234 1253.2 L1245.2 1246 L1253.3 1250 L1269.3 1245.2 L1280.5 1248.4 L1291.7 1235.6 L1298.1 1240.4 L1298.1 1272.4 L1302.9 1277.2 L1306.1 1288.5 L1291.7 1304.5 L1282.1 1294.9 L1299.7 1276.4"/>
<path class="d" d="M1234 1253.2 L1230 1286.8 L1240.4 1283.6 L1253.3 1288.5"/>
<path class="d" d="M1226.8 1239.6 C1226.4 1241.6 1223.6 1245.9 1224.4 1251.6 C1225.2 1257.3 1230.4 1270.3 1231.6 1274"/>
<path class="d" d="M1226.8 1239.6 C1227.3 1241.7 1229.2 1246.3 1230 1252 C1230.8 1257.7 1231.3 1270.3 1231.6 1274"/>
<path class="d" d="M1253.3 1288.5 L1251.5 1296"/>
<path class="d" d="M1253.3 1288.5 C1254 1285.5 1255.7 1275.9 1257.3 1270.8 C1258.9 1265.7 1261 1260.5 1262.9 1258 C1264.9 1255.5 1266.9 1255.8 1269 1255.5 C1271.1 1255.2 1273 1254.1 1275.7 1256.4 C1278.4 1258.7 1283.7 1267.1 1285.3 1269.2"/>
<ellipse class="d" cx="1245.2" cy="1258" rx="2.6" ry="4" transform="rotate(30 1245.2 1258)"/>
<ellipse class="d" cx="1267.7" cy="1268.4" rx="3.4" ry="4.4" transform="rotate(20 1267.7 1268.4)"/>
<path class="d" d="M1276 1250 L1281 1258"/>
<path class="d" d="M1281.5 1247 L1292 1236.5"/>
<path class="d" d="M1284 1250.5 L1294 1239.5"/>
<path class="d" d="M1290.5 1293 L1293.5 1294.5"/>
<path class="d" d="M1293 1291 L1291 1295.5"/>
<path class="d2" d="M1292 1303 L1305 1290"/>
<path class="d" d="M1303 1277 L1306 1312"/>
<path class="d" d="M1266.1 1339.7 L1259.7 1350.9 L1267.7 1357.3 L1275.7 1352.5 L1288.5 1360.5 L1298.1 1354.1"/>
<ellipse class="d" cx="1268.5" cy="1348.5" rx="2.6" ry="3.2" transform="rotate(0 1268.5 1348.5)"/>
<ellipse class="d" cx="1330.5" cy="1404" rx="24.5" ry="33" transform="rotate(25 1330.5 1404)"/>
<ellipse class="d" cx="1329" cy="1404.5" rx="20.5" ry="29" transform="rotate(25 1329 1404.5)"/>
<ellipse class="d" cx="1327.5" cy="1405" rx="18" ry="26.5" transform="rotate(25 1327.5 1405)"/>
<path class="d" d="M1323.7 1387.7 L1338.1 1401.3"/>
<ellipse class="d" cx="1254.9" cy="1381.3" rx="10.5" ry="13" transform="rotate(40 1254.9 1381.3)"/>
<ellipse class="d" cx="1256.5" cy="1382.5" rx="7" ry="9" transform="rotate(40 1256.5 1382.5)"/>
<ellipse class="d" cx="1257.5" cy="1382.5" rx="3" ry="3.4" transform="rotate(0 1257.5 1382.5)"/>
<ellipse class="d" cx="1261" cy="1444.5" rx="10.5" ry="13" transform="rotate(40 1261 1444.5)"/>
<ellipse class="d" cx="1262.5" cy="1445.5" rx="7" ry="9" transform="rotate(40 1262.5 1445.5)"/>
<ellipse class="d" cx="1264.3" cy="1445.5" rx="3" ry="3.4" transform="rotate(0 1264.3 1445.5)"/>
<path class="d" d="M1262 1370.5 L1322.1 1347.5"/>
<path class="d" d="M1264 1373.5 L1324 1350.5"/>
<path class="d" d="M1270 1370 L1320 1352"/>
<path class="d" d="M1322.1 1341.3 C1324.8 1341.8 1332.7 1341.9 1338 1344 C1343.3 1346.1 1351.4 1352.4 1354.1 1354.1"/>
<path class="d" d="M1354.1 1354.1 C1354.3 1355.4 1355.5 1359.3 1355.5 1362 C1355.5 1364.7 1354.8 1367.1 1354.1 1370.1 C1353.3 1373 1351.5 1378.1 1351 1379.7"/>
<path class="d" d="M1322 1341.3 L1330 1356 L1350 1372"/>
<path class="d" d="M1346.1 1342.9 L1354.1 1354.1"/>
<path class="d" d="M1330 1342 L1344.5 1343"/>
<path class="d" d="M1320 1344 L1345 1366"/>
<path class="d" d="M1326 1343 L1352 1364"/>
<path class="d" d="M1352 1355 L1347 1376"/>
<path class="d" d="M1298.1 1363.7 C1296.4 1366.1 1290.7 1372.9 1288 1378 C1285.3 1383.1 1283.3 1389.4 1282.1 1394.1 C1280.9 1398.8 1281 1402 1281 1406 C1281 1410 1279.5 1414.8 1282.1 1418.1 C1284.7 1421.4 1291.2 1423.2 1296.5 1426.1 C1301.8 1429 1311.2 1434.1 1314.1 1435.7"/>
<path class="d" d="M1296.5 1426.1 L1272.5 1445.3"/>
<path class="d" d="M1268.5 1384.5 L1276 1387.7"/>
<path class="d" d="M1272.5 1387.7 C1272.3 1388.9 1271.5 1392.6 1271.5 1395 C1271.5 1397.4 1271.8 1398.5 1272.5 1402.1 C1273.2 1405.7 1276.1 1412.5 1275.7 1416.5 C1275.3 1420.5 1272.1 1423.1 1270 1426 C1267.9 1428.9 1264.1 1432.8 1262.9 1434.1"/>
<path class="d" d="M1277 1389 C1276.8 1390.8 1275.7 1395.8 1276 1400 C1276.3 1404.2 1279.3 1409.7 1279 1414 C1278.7 1418.3 1276.2 1422.3 1274 1426 C1271.8 1429.7 1267.3 1434.3 1266 1436"/>
<path class="d" d="M1396 1134.9 C1395.6 1134.7 1394.3 1134.4 1393.6 1133.9 C1392.9 1133.4 1392.2 1132.8 1391.6 1132.1 C1391.1 1131.4 1390.5 1130.5 1390.1 1129.6 C1389.7 1128.7 1389.4 1127.6 1389.2 1126.5 C1389 1125.4 1388.9 1124.2 1388.9 1123 C1388.8 1121.8 1388.9 1120.5 1389.1 1119.2 C1389.3 1117.9 1389.6 1116.6 1390 1115.3 C1390.4 1114.1 1390.9 1112.8 1391.4 1111.6 C1392 1110.4 1392.7 1109.2 1393.4 1108.1 C1394.1 1107.1 1394.9 1106 1395.7 1105.1 C1396.5 1104.2 1397.4 1103.4 1398.3 1102.8 C1399.2 1102.1 1400.2 1101.5 1401.1 1101.1 C1402 1100.7 1403 1100.4 1403.9 1100.2 C1404.8 1100.1 1405.7 1100.1 1406.5 1100.2 C1407.4 1100.4 1408.6 1100.9 1409 1101.1"/>
<path class="d" d="M1395 1134.6 L1401.1 1138.1"/>
<path class="d" d="M1408.1 1100.6 L1414.1 1104.1"/>
<ellipse class="d" cx="1407.6" cy="1121.1" rx="18.2" ry="11.6" transform="rotate(111 1407.6 1121.1)"/>
<ellipse class="d" cx="1407.6" cy="1121.1" rx="13.1" ry="8.4" transform="rotate(111 1407.6 1121.1)"/>
<ellipse class="d" cx="1407.6" cy="1121.1" rx="9.1" ry="5.8" transform="rotate(111 1407.6 1121.1)"/>
<ellipse class="d" cx="1407.6" cy="1121.1" rx="5.5" ry="3.5" transform="rotate(111 1407.6 1121.1)"/>
<path class="d" d="M1450.1 1165.4 C1449.7 1165.2 1448.4 1164.9 1447.7 1164.4 C1447 1163.9 1446.3 1163.3 1445.7 1162.6 C1445.2 1161.9 1444.6 1161 1444.2 1160.1 C1443.8 1159.2 1443.5 1158.1 1443.3 1157 C1443.1 1155.9 1443 1154.7 1443 1153.5 C1442.9 1152.3 1443 1151 1443.2 1149.7 C1443.4 1148.4 1443.7 1147.1 1444.1 1145.8 C1444.5 1144.6 1445 1143.3 1445.5 1142.1 C1446.1 1140.9 1446.8 1139.7 1447.5 1138.6 C1448.2 1137.6 1449 1136.5 1449.8 1135.6 C1450.6 1134.7 1451.5 1133.9 1452.4 1133.3 C1453.3 1132.6 1454.3 1132 1455.2 1131.6 C1456.1 1131.2 1457.1 1130.9 1458 1130.7 C1458.9 1130.6 1459.8 1130.6 1460.6 1130.7 C1461.5 1130.9 1462.7 1131.4 1463.1 1131.6"/>
<path class="d" d="M1449.1 1165.1 L1455.2 1168.6"/>
<path class="d" d="M1462.2 1131.1 L1468.2 1134.6"/>
<ellipse class="d" cx="1461.7" cy="1151.6" rx="18.2" ry="11.6" transform="rotate(111 1461.7 1151.6)"/>
<ellipse class="d" cx="1461.7" cy="1151.6" rx="13.1" ry="8.4" transform="rotate(111 1461.7 1151.6)"/>
<ellipse class="d" cx="1461.7" cy="1151.6" rx="9.1" ry="5.8" transform="rotate(111 1461.7 1151.6)"/>
<ellipse class="d" cx="1461.7" cy="1151.6" rx="5.5" ry="3.5" transform="rotate(111 1461.7 1151.6)"/>
<ellipse class="d" cx="1550.8" cy="1204.9" rx="11.6" ry="13.6" transform="rotate(25 1550.8 1204.9)"/>
<ellipse class="d" cx="1551.2" cy="1205.1" rx="8" ry="10" transform="rotate(25 1551.2 1205.1)"/>
<ellipse class="d" cx="1551.4" cy="1205.3" rx="4.4" ry="6" transform="rotate(25 1551.4 1205.3)"/>
<path class="d" d="M1547 1208 L1556 1202"/>
<ellipse class="d" cx="1600.6" cy="1232.8" rx="11" ry="15.6" transform="rotate(25 1600.6 1232.8)"/>
<ellipse class="d" cx="1601" cy="1233" rx="7" ry="10.4" transform="rotate(25 1601 1233)"/>
<path class="d" d="M1596 1236 L1605 1230"/>
<path class="d" d="M1599 1228 L1603 1238"/>
<path class="d" d="M1594 1216 C1592.7 1216.9 1588.1 1219.2 1586 1221.5 C1583.9 1223.8 1582.3 1226.9 1581.5 1230 C1580.7 1233.1 1581.1 1238.3 1581 1240"/>
<path class="d" d="M1594 1216 L1603 1217.5"/>
<path class="d" d="M1581 1240 L1592 1246.5"/>
<ellipse class="d" cx="1648.5" cy="1260" rx="10" ry="14" transform="rotate(25 1648.5 1260)"/>
<ellipse class="d" cx="1649" cy="1260.3" rx="7" ry="10" transform="rotate(25 1649 1260.3)"/>
<ellipse class="d" cx="1649.3" cy="1260.6" rx="4" ry="6.4" transform="rotate(25 1649.3 1260.6)"/>
<path class="d" d="M1643 1242.5 C1641.5 1243.6 1636.2 1246.4 1634 1249 C1631.8 1251.6 1630.1 1255 1629.5 1258 C1628.9 1261 1630.3 1265.5 1630.5 1267"/>
<path class="d" d="M1643 1242.5 L1649 1244"/>
<path class="d" d="M1630.5 1267 L1643 1273.5"/>
<path class="d" d="M1637 1249 C1636.3 1250.3 1633.5 1254.2 1633 1257 C1632.5 1259.8 1633.8 1264.5 1634 1266"/>
<path class="d" d="M1643 1242.5 L1639 1250 L1648 1246"/>
<path class="d1" d="M1370.5 1100 h1.2"/>
<path class="d1" d="M1376.5 1103 h1.2"/>
<path class="d1" d="M1384 1108 h1.2"/>
<path class="d1" d="M1427.5 1133.3 h1.2"/>
<path class="d1" d="M1440.8 1140.3 h1.2"/>
<path class="d1" d="M1488.8 1168.2 h1.2"/>
<path class="d1" d="M1495 1171.7 h1.2"/>
<path class="d1" d="M1510.6 1181.3 h1.2"/>
<path class="d1" d="M1513.3 1183 h1.2"/>
<path class="d1" d="M1533.4 1194.4 h1.2"/>
<path class="d1" d="M1566.5 1213.6 h1.2"/>
<path class="d1" d="M1576.2 1218.9 h1.2"/>
<path class="d1" d="M1614.6 1241.6 h1.2"/>
<path class="d1" d="M1626.8 1248.6 h1.2"/>
<path class="d1" d="M1224 1014.5 h1.2"/>
<path class="d1" d="M1228 1016.5 h1.2"/>
</g>
<g id="p10_shock">
<path class="k" d="M276.5 392 L276.5 470"/>
<path class="k" d="M317.6 388 L317.6 470"/>
<path class="k" d="M292.6 396 L292.6 470"/>
<path class="k" d="M264 390 L276.5 400 L269 404 L276.5 408"/>
<path class="k" d="M331 384 L317.6 396 L326 401 L317.6 405"/>
<path class="k" d="M266 396 L271 392"/>
<path class="k" d="M323 391 L329 395"/>
<path class="k" d="M264 411 L276.5 421 L269 425 L276.5 429"/>
<path class="k" d="M331 405 L317.6 417 L326 422 L317.6 426"/>
<path class="k" d="M266 417 L271 413"/>
<path class="k" d="M323 412 L329 416"/>
<path class="k" d="M264 433 L276.5 443 L269 447 L276.5 451"/>
<path class="k" d="M331 427 L317.6 439 L326 444 L317.6 448"/>
<path class="k" d="M266 439 L271 435"/>
<path class="k" d="M323 434 L329 438"/>
<path class="k" d="M337.1 374.1 C337 374 337 373.5 337 373.2 C337 372.9 336.9 372.6 336.9 372.2 C336.8 371.9 336.7 371.6 336.6 371.3 C336.5 371 336.4 370.7 336.2 370.4 C336.1 370.1 336 369.8 335.8 369.5 C335.6 369.2 335.4 368.9 335.2 368.6 C335 368.3 334.8 368 334.6 367.7 C334.4 367.4 334.1 367.1 333.8 366.8 C333.6 366.5 333.3 366.3 333 366 C332.7 365.7 332.4 365.4 332.1 365.1 C331.8 364.9 331.4 364.6 331.1 364.3 C330.7 364 330.3 363.8 330 363.5 C329.6 363.3 329.2 363 328.8 362.7 C328.4 362.5 327.9 362.2 327.5 362 C327.1 361.8 326.6 361.5 326.2 361.3 C325.7 361 325.2 360.8 324.7 360.6 C324.3 360.4 323.8 360.1 323.3 359.9 C322.7 359.7 322.2 359.5 321.7 359.3 C321.2 359.1 320.6 358.9 320.1 358.7 C319.5 358.5 319 358.3 318.4 358.1 C317.8 358 317.3 357.8 316.7 357.6 C316.1 357.4 315.5 357.3 314.9 357.1 C314.3 357 313.7 356.8 313.1 356.7 C312.5 356.5 311.5 356.3 311.2 356.3"/>
<path class="k" d="M284.4 368.7 C284.1 368.7 283.1 368.8 282.5 368.9 C281.9 369 281.3 369 280.7 369.1 C280.1 369.2 279.5 369.3 278.9 369.4 C278.3 369.5 277.8 369.6 277.2 369.7 C276.6 369.8 276.1 369.9 275.5 370 C275 370.1 274.4 370.3 273.9 370.4 C273.4 370.5 272.9 370.6 272.4 370.8 C271.8 370.9 271.3 371.1 270.9 371.2 C270.4 371.4 269.9 371.5 269.4 371.7 C269 371.8 268.5 372 268.1 372.2 C267.7 372.3 267.2 372.5 266.8 372.7 C266.4 372.9 266 373.1 265.6 373.2 C265.3 373.4 264.9 373.6 264.5 373.8 C264.2 374 263.9 374.2 263.5 374.4 C263.2 374.6 262.9 374.8 262.6 375 C262.3 375.2 262 375.4 261.8 375.6 C261.5 375.9 261.2 376.1 261 376.3 C260.8 376.5 260.6 376.7 260.4 376.9 C260.2 377.2 260 377.4 259.8 377.6 C259.6 377.8 259.5 378.1 259.4 378.3 C259.2 378.5 259.1 378.8 259 379 C258.9 379.2 258.8 379.5 258.8 379.7 C258.7 379.9 258.6 380.2 258.6 380.4 C258.6 380.6 258.6 381 258.5 381.1"/>
<path class="k" d="M336.9 390 C336.9 389.9 336.9 389.4 336.8 389.1 C336.8 388.8 336.7 388.4 336.7 388.1 C336.6 387.8 336.5 387.5 336.4 387.2 C336.3 386.8 336.2 386.5 336.1 386.2 C335.9 385.9 335.8 385.6 335.6 385.2 C335.4 384.9 335.2 384.6 335 384.3 C334.8 384 334.6 383.7 334.4 383.4 C334.2 383.1 333.9 382.8 333.6 382.5 C333.4 382.2 333.1 381.9 332.8 381.6 C332.5 381.3 332.2 381 331.9 380.7 C331.5 380.4 331.2 380.1 330.9 379.9 C330.5 379.6 330.1 379.3 329.7 379 C329.4 378.8 329 378.5 328.6 378.2 C328.1 378 327.7 377.7 327.3 377.4 C326.8 377.2 326.4 376.9 325.9 376.7 C325.5 376.4 325 376.2 324.5 376 C324 375.7 323.5 375.5 323 375.3 C322.5 375 322 374.8 321.5 374.6 C320.9 374.4 320.4 374.2 319.8 374 C319.3 373.8 318.7 373.6 318.2 373.4 C317.6 373.2 317 373 316.4 372.8 C315.8 372.6 315.2 372.5 314.6 372.3 C314 372.1 313.4 372 312.8 371.8 C312.2 371.7 311.3 371.4 310.9 371.4"/>
<path class="k" d="M284 387.4 C283.7 387.4 282.7 387.5 282.1 387.5 C281.5 387.6 280.9 387.6 280.3 387.7 C279.7 387.8 279.1 387.9 278.5 387.9 C277.9 388 277.4 388.1 276.8 388.2 C276.2 388.3 275.7 388.4 275.1 388.5 C274.6 388.6 274 388.7 273.5 388.9 C273 389 272.4 389.1 271.9 389.2 C271.4 389.4 270.9 389.5 270.4 389.6 C269.9 389.8 269.5 389.9 269 390.1 C268.5 390.2 268.1 390.4 267.7 390.5 C267.2 390.7 266.8 390.8 266.4 391 C266 391.2 265.6 391.4 265.2 391.5 C264.8 391.7 264.4 391.9 264.1 392.1 C263.7 392.3 263.4 392.4 263.1 392.6 C262.7 392.8 262.4 393 262.1 393.2 C261.8 393.4 261.6 393.6 261.3 393.8 C261 394 260.8 394.2 260.5 394.4 C260.3 394.6 260.1 394.9 259.9 395.1 C259.7 395.3 259.5 395.5 259.3 395.7 C259.2 395.9 259 396.1 258.9 396.4 C258.7 396.6 258.6 396.8 258.5 397 C258.4 397.2 258.3 397.5 258.3 397.7 C258.2 397.9 258.2 398.1 258.1 398.4 C258.1 398.6 258.1 398.9 258.1 399"/>
<path class="k" d="M336.4 411.5 C336.4 411.3 336.4 410.8 336.4 410.5 C336.4 410.2 336.3 409.8 336.2 409.5 C336.2 409.2 336.1 408.9 336 408.5 C335.9 408.2 335.8 407.9 335.6 407.5 C335.5 407.2 335.3 406.9 335.2 406.6 C335 406.3 334.8 405.9 334.6 405.6 C334.4 405.3 334.2 405 334 404.7 C333.7 404.4 333.5 404 333.2 403.7 C333 403.4 332.7 403.1 332.4 402.8 C332.1 402.5 331.8 402.2 331.4 401.9 C331.1 401.6 330.8 401.3 330.4 401 C330.1 400.8 329.7 400.5 329.3 400.2 C328.9 399.9 328.5 399.6 328.1 399.4 C327.7 399.1 327.3 398.8 326.8 398.6 C326.4 398.3 326 398 325.5 397.8 C325 397.5 324.6 397.3 324.1 397 C323.6 396.8 323.1 396.5 322.6 396.3 C322.1 396.1 321.6 395.8 321 395.6 C320.5 395.4 320 395.2 319.4 395 C318.9 394.8 318.3 394.5 317.7 394.3 C317.2 394.1 316.6 393.9 316 393.8 C315.4 393.6 314.8 393.4 314.2 393.2 C313.6 393 313 392.9 312.4 392.7 C311.8 392.5 310.8 392.3 310.5 392.2"/>
<path class="k" d="M283.6 410.9 C283.3 410.9 282.3 411 281.7 411 C281.1 411.1 280.5 411.1 279.9 411.2 C279.3 411.3 278.7 411.3 278.1 411.4 C277.5 411.5 276.9 411.6 276.4 411.6 C275.8 411.7 275.2 411.8 274.7 411.9 C274.1 412 273.6 412.1 273.1 412.2 C272.5 412.4 272 412.5 271.5 412.6 C271 412.7 270.5 412.8 270 413 C269.5 413.1 269 413.2 268.6 413.4 C268.1 413.5 267.7 413.7 267.2 413.8 C266.8 414 266.4 414.1 266 414.3 C265.5 414.4 265.1 414.6 264.8 414.8 C264.4 414.9 264 415.1 263.7 415.3 C263.3 415.5 263 415.6 262.6 415.8 C262.3 416 262 416.2 261.7 416.4 C261.4 416.6 261.1 416.8 260.9 417 C260.6 417.2 260.3 417.4 260.1 417.6 C259.9 417.8 259.7 418 259.5 418.2 C259.3 418.4 259.1 418.6 258.9 418.8 C258.7 419 258.6 419.2 258.5 419.4 C258.3 419.6 258.2 419.8 258.1 420 C258 420.3 257.9 420.5 257.8 420.7 C257.8 420.9 257.7 421.1 257.7 421.3 C257.7 421.6 257.6 421.9 257.6 422"/>
<path class="k" d="M332.2 435.3 C332.2 435.2 332.2 434.7 332.1 434.4 C332.1 434.1 332.1 433.9 332 433.6 C331.9 433.3 331.9 433 331.8 432.7 C331.7 432.4 331.6 432.1 331.4 431.8 C331.3 431.5 331.2 431.2 331 430.9 C330.9 430.6 330.7 430.3 330.5 430.1 C330.3 429.8 330.1 429.5 329.9 429.2 C329.7 428.9 329.5 428.6 329.3 428.4 C329 428.1 328.8 427.8 328.5 427.5 C328.2 427.3 327.9 427 327.6 426.7 C327.4 426.5 327 426.2 326.7 425.9 C326.4 425.7 326.1 425.4 325.7 425.2 C325.4 424.9 325 424.7 324.6 424.4 C324.3 424.2 323.9 423.9 323.5 423.7 C323.1 423.5 322.7 423.2 322.3 423 C321.8 422.8 321.4 422.6 321 422.3 C320.5 422.1 320.1 421.9 319.6 421.7 C319.1 421.5 318.7 421.3 318.2 421.1 C317.7 420.9 317.2 420.7 316.7 420.5 C316.2 420.3 315.7 420.1 315.2 419.9 C314.7 419.8 314.2 419.6 313.6 419.4 C313.1 419.3 312.5 419.1 312 418.9 C311.5 418.8 310.9 418.6 310.3 418.5 C309.8 418.3 308.9 418.1 308.6 418.1"/>
<path class="k" d="M284.2 434.1 C283.9 434.1 283 434.1 282.5 434.2 C281.9 434.2 281.4 434.3 280.8 434.3 C280.3 434.4 279.7 434.5 279.2 434.5 C278.7 434.6 278.2 434.7 277.6 434.8 C277.1 434.9 276.6 434.9 276.1 435 C275.6 435.1 275.1 435.2 274.6 435.3 C274.2 435.4 273.7 435.5 273.2 435.7 C272.8 435.8 272.3 435.9 271.9 436 C271.4 436.1 271 436.3 270.6 436.4 C270.2 436.5 269.8 436.7 269.4 436.8 C269 436.9 268.6 437.1 268.2 437.2 C267.8 437.4 267.5 437.5 267.1 437.7 C266.8 437.8 266.4 438 266.1 438.2 C265.8 438.3 265.5 438.5 265.2 438.6 C264.9 438.8 264.6 439 264.3 439.2 C264.1 439.3 263.8 439.5 263.6 439.7 C263.3 439.9 263.1 440.1 262.9 440.2 C262.7 440.4 262.5 440.6 262.3 440.8 C262.1 441 262 441.2 261.8 441.4 C261.7 441.6 261.5 441.8 261.4 442 C261.3 442.2 261.2 442.3 261.1 442.5 C261 442.7 260.9 442.9 260.8 443.1 C260.8 443.3 260.7 443.5 260.7 443.7 C260.7 443.9 260.7 444.2 260.7 444.3"/>
<path class="o" d="M268.6 274 C267.9 275.7 265.6 280.5 264.5 284 C263.4 287.5 262.9 291 262.3 295 C261.7 299 261.2 305.8 261 308"/>
<path class="o" d="M329 268 C329.8 270 332.5 276 333.6 280 C334.7 284 335 287.8 335.6 292 C336.2 296.2 336.8 302.8 337 305"/>
<path class="k" d="M280.3 281.7 C280.4 281.9 280.6 282.4 280.7 282.7 C280.9 283 281.2 283.3 281.5 283.6 C281.8 284 282.1 284.3 282.5 284.6 C282.8 284.9 283.2 285.1 283.7 285.4 C284.1 285.7 284.6 285.9 285.1 286.2 C285.7 286.4 286.2 286.6 286.8 286.9 C287.4 287.1 288 287.3 288.6 287.4 C289.3 287.6 290 287.8 290.6 287.9 C291.3 288 292 288.1 292.8 288.2 C293.5 288.3 294.2 288.4 295 288.5 C295.7 288.5 296.5 288.5 297.3 288.5 C298 288.6 298.8 288.5 299.6 288.5 C300.4 288.5 301.2 288.4 301.9 288.3 C302.7 288.2 303.5 288.1 304.2 288 C305 287.9 305.7 287.7 306.4 287.6 C307.2 287.4 307.9 287.2 308.6 287 C309.2 286.8 309.9 286.5 310.6 286.3 C311.2 286 311.8 285.8 312.4 285.5 C313 285.2 313.5 284.9 314.1 284.6 C314.6 284.3 315.1 283.9 315.5 283.6 C316 283.2 316.4 282.9 316.7 282.5 C317.1 282.1 317.4 281.8 317.7 281.4 C318 281 318.3 280.6 318.5 280.2 C318.6 279.8 318.8 279.2 318.9 279"/>
<path class="k" d="M275.3 286.4 C275.4 286.6 275.7 287.2 275.9 287.6 C276.2 288 276.5 288.3 276.8 288.7 C277.2 289.1 277.6 289.4 278.1 289.8 C278.5 290.1 279.1 290.5 279.6 290.8 C280.2 291.1 280.8 291.4 281.4 291.7 C282.1 292 282.8 292.2 283.5 292.5 C284.3 292.7 285 293 285.8 293.2 C286.6 293.4 287.5 293.6 288.4 293.7 C289.2 293.9 290.1 294 291 294.1 C291.9 294.3 292.9 294.4 293.8 294.4 C294.8 294.5 295.7 294.5 296.7 294.5 C297.6 294.5 298.6 294.5 299.6 294.5 C300.6 294.5 301.6 294.4 302.5 294.3 C303.5 294.2 304.4 294.1 305.4 294 C306.3 293.8 307.3 293.7 308.2 293.5 C309.1 293.3 310 293.1 310.8 292.8 C311.7 292.6 312.6 292.3 313.4 292 C314.2 291.7 314.9 291.4 315.7 291.1 C316.4 290.8 317.1 290.4 317.8 290.1 C318.4 289.7 319 289.3 319.6 289 C320.1 288.6 320.7 288.1 321.1 287.7 C321.6 287.3 322 286.9 322.4 286.4 C322.7 286 323 285.5 323.3 285.1 C323.5 284.6 323.8 283.9 323.9 283.7"/>
<path class="k" d="M272.9 288.5 C273 288.8 273.2 289.4 273.5 289.8 C273.8 290.2 274.1 290.7 274.5 291.1 C274.9 291.5 275.4 291.9 275.9 292.3 C276.4 292.6 277 293 277.6 293.4 C278.2 293.7 278.9 294 279.6 294.4 C280.3 294.7 281.1 295 281.9 295.2 C282.7 295.5 283.6 295.8 284.4 296 C285.3 296.2 286.3 296.4 287.2 296.6 C288.2 296.8 289.1 297 290.1 297.1 C291.1 297.2 292.2 297.3 293.2 297.4 C294.3 297.5 295.3 297.5 296.4 297.5 C297.5 297.5 298.5 297.5 299.6 297.5 C300.7 297.5 301.7 297.4 302.8 297.3 C303.9 297.2 304.9 297.1 306 296.9 C307 296.8 308.1 296.6 309.1 296.4 C310.1 296.2 311 296 312 295.7 C312.9 295.4 313.9 295.2 314.8 294.9 C315.6 294.6 316.5 294.2 317.3 293.9 C318.1 293.5 318.9 293.1 319.6 292.8 C320.3 292.4 321 292 321.6 291.5 C322.2 291.1 322.8 290.7 323.3 290.2 C323.8 289.7 324.3 289.3 324.7 288.8 C325.1 288.3 325.4 287.8 325.7 287.3 C326 286.8 326.2 286.1 326.3 285.8"/>
<path class="k" d="M268.4 293.7 C268.5 294 268.8 294.7 269.1 295.2 C269.5 295.7 269.9 296.2 270.3 296.6 C270.8 297.1 271.3 297.5 271.9 298 C272.5 298.4 273.2 298.8 273.9 299.2 C274.6 299.6 275.4 300 276.3 300.4 C277.1 300.7 278 301.1 278.9 301.4 C279.9 301.7 280.9 302 281.9 302.2 C282.9 302.5 284 302.7 285.1 302.9 C286.2 303.2 287.4 303.3 288.6 303.5 C289.7 303.6 290.9 303.8 292.2 303.8 C293.4 303.9 294.6 304 295.9 304 C297.1 304 298.4 304 299.6 304 C300.8 304 302.1 303.9 303.3 303.8 C304.6 303.7 305.8 303.6 307 303.4 C308.3 303.2 309.5 303 310.6 302.8 C311.8 302.6 313 302.3 314.1 302 C315.2 301.8 316.3 301.4 317.3 301.1 C318.3 300.8 319.3 300.4 320.3 300 C321.2 299.6 322.1 299.2 322.9 298.8 C323.8 298.3 324.6 297.9 325.3 297.4 C326 296.9 326.7 296.4 327.3 295.9 C327.9 295.4 328.4 294.9 328.9 294.3 C329.3 293.8 329.7 293.3 330.1 292.7 C330.4 292.1 330.7 291.3 330.8 291"/>
<path class="o" d="M264.4 297.9 C264.6 298.1 264.9 298.9 265.3 299.5 C265.6 300 266.1 300.5 266.6 301 C267.1 301.5 267.7 302 268.4 302.4 C269.1 302.9 269.8 303.4 270.6 303.8 C271.5 304.2 272.3 304.6 273.3 305 C274.2 305.4 275.2 305.8 276.3 306.1 C277.4 306.5 278.5 306.8 279.7 307.1 C280.8 307.4 282 307.6 283.3 307.8 C284.6 308.1 285.8 308.3 287.2 308.4 C288.5 308.6 289.8 308.7 291.2 308.8 C292.6 308.9 294 309 295.4 309 C296.8 309 298.2 309 299.6 309 C301 309 302.4 308.9 303.8 308.8 C305.2 308.7 306.6 308.5 308 308.4 C309.4 308.2 310.7 308 312 307.7 C313.4 307.5 314.6 307.2 315.9 306.9 C317.2 306.6 318.4 306.3 319.5 305.9 C320.7 305.6 321.8 305.2 322.9 304.8 C324 304.3 325 303.9 325.9 303.4 C326.9 303 327.7 302.5 328.6 302 C329.4 301.5 330.1 300.9 330.8 300.4 C331.5 299.9 332.1 299.3 332.6 298.7 C333.1 298.1 333.6 297.6 333.9 297 C334.3 296.4 334.6 295.5 334.8 295.2"/>
<path class="o" d="M268.6 274 C269.2 272.8 270.4 269 272 267 C273.6 265 276 263.4 278 262 C280 260.6 283 259.1 284 258.5"/>
<path class="k" d="M270.5 276 C271.1 274.9 272.4 271.4 274 269.5 C275.6 267.6 278.2 265.8 280 264.5 C281.8 263.2 284.2 262.4 285 262"/>
<path class="o" d="M317 259.5 C317.8 259.9 320.5 261 322 262 C323.5 263 324.8 264.2 326 265.5 C327.2 266.8 328.5 268.8 329 269.5"/>
<path class="k" d="M316 263 C316.8 263.5 319.6 264.8 321 266 C322.4 267.2 323.6 268.5 324.5 270 C325.4 271.5 326.2 274.2 326.5 275"/>
<path class="k" d="M274 278 C274.5 276.9 275.5 273.3 277 271.5 C278.5 269.7 281.3 268 283 267 C284.7 266 286.3 265.8 287 265.5"/>
<path class="h" d="M285.1 274.4 C285 274.6 285 275 285 275.3 C285.1 275.7 285.1 276 285.3 276.3 C285.4 276.6 285.6 276.9 285.8 277.2 C286 277.5 286.2 277.8 286.5 278.1 C286.8 278.3 287.2 278.6 287.6 278.9 C287.9 279.1 288.4 279.4 288.8 279.6 C289.3 279.8 289.7 280 290.3 280.2 C290.8 280.4 291.3 280.6 291.9 280.7 C292.5 280.9 293.1 281 293.7 281.1 C294.3 281.2 294.9 281.3 295.5 281.4 C296.2 281.5 296.8 281.5 297.5 281.5 C298.2 281.5 298.8 281.5 299.5 281.5 C300.2 281.5 300.8 281.4 301.5 281.3 C302.2 281.3 302.8 281.2 303.5 281 C304.1 280.9 304.7 280.8 305.3 280.6 C305.9 280.4 306.5 280.2 307.1 280 C307.7 279.8 308.2 279.6 308.7 279.3 C309.3 279.1 309.7 278.8 310.2 278.5 C310.6 278.3 311.1 278 311.4 277.6 C311.8 277.3 312.2 277 312.5 276.7 C312.8 276.3 313 276 313.2 275.6 C313.4 275.3 313.6 274.9 313.7 274.5 C313.9 274.2 313.9 273.8 314 273.4 C314 273 314 272.5 313.9 272.3"/>
<path class="k" d="M288.5 272.5 C288.5 272.6 288.5 273 288.6 273.2 C288.7 273.4 288.8 273.7 288.9 273.9 C289 274.1 289.2 274.3 289.4 274.5 C289.6 274.8 289.8 275 290 275.2 C290.3 275.4 290.6 275.6 290.9 275.7 C291.2 275.9 291.5 276.1 291.9 276.2 C292.2 276.4 292.6 276.5 293 276.7 C293.4 276.8 293.8 276.9 294.2 277 C294.7 277.1 295.1 277.2 295.6 277.3 C296.1 277.4 296.5 277.4 297 277.5 C297.5 277.5 298 277.5 298.5 277.5 C299 277.5 299.5 277.5 300 277.5 C300.5 277.5 301 277.4 301.5 277.4 C302 277.3 302.5 277.2 303 277.1 C303.5 277 303.9 276.9 304.4 276.8 C304.9 276.7 305.3 276.5 305.8 276.4 C306.2 276.2 306.6 276 307 275.8 C307.4 275.7 307.8 275.5 308.1 275.2 C308.5 275 308.8 274.8 309.1 274.6 C309.4 274.3 309.7 274.1 310 273.8 C310.2 273.6 310.4 273.3 310.6 273 C310.8 272.8 311 272.5 311.1 272.2 C311.2 271.9 311.3 271.7 311.4 271.4 C311.5 271.1 311.5 270.6 311.5 270.5"/>
<path class="k" d="M283.1 277.7 C283.1 277.8 283.2 278.3 283.4 278.7 C283.5 279 283.7 279.3 283.9 279.6 C284.2 279.9 284.4 280.2 284.7 280.5 C285.1 280.8 285.4 281.1 285.8 281.4 C286.2 281.6 286.6 281.9 287.1 282.1 C287.5 282.4 288 282.6 288.5 282.8 C289 283 289.6 283.2 290.1 283.4 C290.7 283.6 291.3 283.7 291.9 283.9 C292.5 284 293.2 284.1 293.8 284.2 C294.5 284.3 295.1 284.4 295.8 284.4 C296.5 284.5 297.2 284.5 297.9 284.5 C298.5 284.5 299.2 284.5 299.9 284.5 C300.6 284.4 301.3 284.4 302 284.3 C302.7 284.2 303.4 284.1 304 284 C304.7 283.9 305.3 283.7 306 283.6 C306.6 283.4 307.2 283.2 307.8 283 C308.4 282.8 309 282.6 309.6 282.3 C310.1 282.1 310.6 281.8 311.1 281.5 C311.6 281.3 312.1 281 312.5 280.7 C312.9 280.4 313.3 280 313.7 279.7 C314 279.4 314.3 279 314.6 278.7 C314.9 278.3 315.1 278 315.3 277.6 C315.5 277.2 315.7 276.8 315.8 276.5 C315.9 276.1 316 275.5 316 275.3"/>
<path class="k" d="M277 270 L273 273 L274 284 L278 281.5 L277 270"/>
<path class="k" d="M269 276 L273 275 L273.5 279 L269.5 280"/>
<path class="o" d="M281 266 L285 264 L285 274 L281 276 L277.5 284 L268 287"/>
<path class="w" d="M260.9 306.3 C261 306.6 261 307.5 261.3 308.1 C261.5 308.7 261.8 309.3 262.2 309.9 C262.6 310.4 263.2 311 263.8 311.5 C264.4 312.1 265.2 312.6 266 313.1 C266.8 313.6 267.7 314.1 268.7 314.6 C269.7 315 270.8 315.5 272 315.9 C273.1 316.3 274.4 316.6 275.7 317 C277 317.3 278.3 317.6 279.8 317.8 C281.2 318.1 282.7 318.3 284.2 318.5 C285.7 318.7 287.2 318.8 288.8 318.9 C290.4 319 292 319.1 293.7 319.1 C295.3 319.1 296.9 319.1 298.6 319 C300.2 318.9 301.9 318.8 303.5 318.6 C305.1 318.5 306.7 318.3 308.3 318 C309.9 317.8 311.5 317.5 313 317.1 C314.5 316.8 316 316.4 317.4 316 C318.8 315.6 320.2 315.2 321.5 314.7 C322.8 314.2 324 313.7 325.2 313.1 C326.3 312.6 327.4 312 328.4 311.4 C329.4 310.8 330.3 310.1 331.2 309.5 C332 308.8 332.7 308.1 333.3 307.4 C334 306.7 334.5 306 334.9 305.3 C335.3 304.5 335.7 303.8 335.9 303.1 C336.1 302.3 336.2 301.2 336.2 300.8 Q338.4 297.1 335.9 293.3 L335.9 293.3 C335.9 293.6 335.8 294.7 335.6 295.5 C335.4 296.2 335.1 296.9 334.6 297.6 C334.2 298.3 333.7 299 333.1 299.7 C332.4 300.4 331.7 301 330.9 301.7 C330.1 302.3 329.2 302.9 328.2 303.5 C327.2 304.1 326.1 304.7 325 305.2 C323.8 305.8 322.6 306.3 321.3 306.8 C320 307.2 318.6 307.7 317.2 308.1 C315.8 308.5 314.4 308.8 312.9 309.2 C311.4 309.5 309.8 309.8 308.2 310 C306.7 310.3 305.1 310.5 303.4 310.6 C301.8 310.8 300.2 310.9 298.6 311 C296.9 311.1 295.3 311.1 293.7 311.1 C292.1 311.1 290.5 311 288.9 310.9 C287.3 310.9 285.8 310.7 284.3 310.5 C282.8 310.4 281.3 310.2 279.9 309.9 C278.5 309.7 277.1 309.4 275.8 309.1 C274.6 308.7 273.3 308.4 272.2 308 C271 307.6 269.9 307.2 269 306.7 C268 306.3 267.1 305.8 266.2 305.4 C265.4 304.9 264.7 304.3 264.1 303.8 C263.5 303.3 262.9 302.8 262.5 302.2 C262.1 301.6 261.8 301.1 261.6 300.5 C261.3 299.9 261.3 299.1 261.2 298.8 Q258.7 302.6 260.9 306.3Z"/>
<path class="o" d="M262.2 309.9 C262.5 310.1 263.2 311 263.8 311.5 C264.4 312.1 265.2 312.6 266 313.1 C266.8 313.6 267.7 314.1 268.7 314.6 C269.7 315 270.8 315.5 272 315.9 C273.1 316.3 274.4 316.6 275.7 317 C277 317.3 278.3 317.6 279.8 317.8 C281.2 318.1 282.7 318.3 284.2 318.5 C285.7 318.7 287.2 318.8 288.8 318.9 C290.4 319 292 319.1 293.7 319.1 C295.3 319.1 296.9 319.1 298.6 319 C300.2 318.9 301.9 318.8 303.5 318.6 C305.1 318.5 306.7 318.3 308.3 318 C309.9 317.8 311.5 317.5 313 317.1 C314.5 316.8 316 316.4 317.4 316 C318.8 315.6 320.2 315.2 321.5 314.7 C322.8 314.2 324 313.7 325.2 313.1 C326.3 312.6 327.4 312 328.4 311.4 C329.4 310.8 330.3 310.1 331.2 309.5 C332 308.8 332.7 308.1 333.3 307.4 C334 306.7 334.7 305.6 334.9 305.3"/>
<path class="w" d="M260 317.9 C260 318.3 260.1 319.2 260.3 319.8 C260.5 320.4 260.9 321 261.3 321.6 C261.7 322.2 262.3 322.7 262.9 323.3 C263.6 323.9 264.3 324.4 265.2 324.9 C266 325.5 266.9 326 268 326.4 C269 326.9 270.1 327.3 271.3 327.7 C272.5 328.2 273.7 328.5 275.1 328.9 C276.4 329.2 277.8 329.5 279.3 329.8 C280.7 330.1 282.2 330.3 283.8 330.5 C285.3 330.7 286.9 330.8 288.6 330.9 C290.2 331 291.8 331.1 293.5 331.1 C295.2 331.1 296.9 331.1 298.5 331 C300.2 330.9 301.9 330.8 303.6 330.6 C305.2 330.5 306.9 330.3 308.5 330 C310.1 329.7 311.7 329.4 313.3 329.1 C314.8 328.8 316.3 328.4 317.8 328 C319.3 327.5 320.7 327.1 322 326.6 C323.3 326.1 324.6 325.6 325.8 325 C327 324.4 328.1 323.8 329.1 323.2 C330.1 322.6 331.1 321.9 331.9 321.3 C332.7 320.6 333.5 319.9 334.1 319.2 C334.8 318.5 335.3 317.7 335.8 317 C336.2 316.3 336.5 315.5 336.7 314.7 C337 314 337 312.8 337.1 312.4 Q339.3 308.7 336.8 304.9 L336.8 304.9 C336.7 305.3 336.7 306.4 336.4 307.2 C336.2 307.9 335.9 308.6 335.5 309.3 C335 310.1 334.5 310.8 333.9 311.5 C333.2 312.2 332.5 312.8 331.6 313.5 C330.8 314.2 329.9 314.8 328.9 315.4 C327.9 316 326.7 316.6 325.6 317.1 C324.4 317.7 323.1 318.2 321.8 318.7 C320.5 319.2 319.1 319.6 317.6 320 C316.2 320.4 314.7 320.8 313.2 321.1 C311.6 321.5 310 321.8 308.4 322 C306.8 322.3 305.2 322.5 303.5 322.6 C301.9 322.8 300.2 322.9 298.5 323 C296.9 323.1 295.2 323.1 293.5 323.1 C291.9 323.1 290.2 323 288.6 322.9 C287 322.8 285.4 322.7 283.9 322.5 C282.4 322.3 280.8 322.1 279.4 321.9 C278 321.6 276.6 321.3 275.2 321 C273.9 320.6 272.7 320.3 271.5 319.9 C270.3 319.5 269.2 319.1 268.2 318.6 C267.2 318.2 266.2 317.7 265.4 317.2 C264.6 316.7 263.8 316.1 263.2 315.6 C262.6 315.1 262 314.5 261.6 313.9 C261.2 313.4 260.8 312.8 260.6 312.2 C260.4 311.6 260.3 310.7 260.3 310.4 Q257.8 314.2 260 317.9Z"/>
<path class="o" d="M261.3 321.6 C261.6 321.9 262.3 322.7 262.9 323.3 C263.6 323.9 264.3 324.4 265.2 324.9 C266 325.5 266.9 326 268 326.4 C269 326.9 270.1 327.3 271.3 327.7 C272.5 328.2 273.7 328.5 275.1 328.9 C276.4 329.2 277.8 329.5 279.3 329.8 C280.7 330.1 282.2 330.3 283.8 330.5 C285.3 330.7 286.9 330.8 288.6 330.9 C290.2 331 291.8 331.1 293.5 331.1 C295.2 331.1 296.9 331.1 298.5 331 C300.2 330.9 301.9 330.8 303.6 330.6 C305.2 330.5 306.9 330.3 308.5 330 C310.1 329.7 311.7 329.4 313.3 329.1 C314.8 328.8 316.3 328.4 317.8 328 C319.3 327.5 320.7 327.1 322 326.6 C323.3 326.1 324.6 325.6 325.8 325 C327 324.4 328.1 323.8 329.1 323.2 C330.1 322.6 331.1 321.9 331.9 321.3 C332.7 320.6 333.5 319.9 334.1 319.2 C334.8 318.5 335.5 317.4 335.8 317"/>
<path class="w" d="M259.1 329.1 C259.1 329.4 259.2 330.4 259.4 331 C259.6 331.6 260 332.2 260.4 332.8 C260.9 333.4 261.4 334 262.1 334.6 C262.7 335.2 263.5 335.7 264.4 336.3 C265.2 336.8 266.2 337.3 267.2 337.8 C268.3 338.3 269.4 338.7 270.6 339.1 C271.8 339.6 273.1 340 274.5 340.3 C275.9 340.7 277.3 341 278.8 341.3 C280.3 341.5 281.8 341.8 283.4 342 C285 342.2 286.6 342.3 288.3 342.4 C289.9 342.5 291.6 342.6 293.3 342.6 C295 342.6 296.8 342.6 298.5 342.5 C300.2 342.4 301.9 342.3 303.6 342.1 C305.3 342 307 341.7 308.7 341.5 C310.3 341.2 312 340.9 313.6 340.6 C315.2 340.2 316.7 339.8 318.2 339.4 C319.7 339 321.1 338.5 322.5 338 C323.8 337.5 325.1 337 326.4 336.4 C327.6 335.8 328.7 335.2 329.8 334.6 C330.8 333.9 331.8 333.3 332.6 332.6 C333.5 331.9 334.2 331.2 334.9 330.5 C335.6 329.7 336.1 329 336.6 328.2 C337 327.5 337.3 326.7 337.6 325.9 C337.8 325.2 337.8 324 337.9 323.6 Q340.1 319.8 337.6 316.1 L337.6 316.1 C337.5 316.5 337.5 317.6 337.3 318.4 C337 319.1 336.7 319.9 336.3 320.6 C335.8 321.3 335.3 322.1 334.6 322.8 C334 323.5 333.2 324.2 332.4 324.8 C331.5 325.5 330.6 326.1 329.5 326.8 C328.5 327.4 327.3 328 326.1 328.5 C324.9 329.1 323.6 329.6 322.3 330.1 C320.9 330.6 319.5 331.1 318 331.5 C316.6 331.9 315 332.3 313.5 332.6 C311.9 333 310.3 333.3 308.6 333.5 C307 333.8 305.3 334 303.6 334.1 C301.9 334.3 300.2 334.4 298.5 334.5 C296.8 334.6 295.1 334.6 293.4 334.6 C291.7 334.6 290 334.5 288.4 334.4 C286.7 334.3 285.1 334.2 283.5 334 C281.9 333.8 280.4 333.6 278.9 333.3 C277.5 333.1 276 332.7 274.7 332.4 C273.3 332.1 272 331.7 270.8 331.3 C269.6 330.9 268.5 330.4 267.5 330 C266.4 329.5 265.5 329 264.6 328.5 C263.8 328 263 327.4 262.4 326.9 C261.7 326.3 261.1 325.8 260.7 325.2 C260.3 324.6 259.9 324 259.7 323.4 C259.5 322.8 259.4 321.9 259.4 321.6 Q256.9 325.3 259.1 329.1Z"/>
<path class="o" d="M260.4 332.8 C260.7 333.1 261.4 334 262.1 334.6 C262.7 335.2 263.5 335.7 264.4 336.3 C265.2 336.8 266.2 337.3 267.2 337.8 C268.3 338.3 269.4 338.7 270.6 339.1 C271.8 339.6 273.1 340 274.5 340.3 C275.9 340.7 277.3 341 278.8 341.3 C280.3 341.5 281.8 341.8 283.4 342 C285 342.2 286.6 342.3 288.3 342.4 C289.9 342.5 291.6 342.6 293.3 342.6 C295 342.6 296.8 342.6 298.5 342.5 C300.2 342.4 301.9 342.3 303.6 342.1 C305.3 342 307 341.7 308.7 341.5 C310.3 341.2 312 340.9 313.6 340.6 C315.2 340.2 316.7 339.8 318.2 339.4 C319.7 339 321.1 338.5 322.5 338 C323.8 337.5 325.1 337 326.4 336.4 C327.6 335.8 328.7 335.2 329.8 334.6 C330.8 333.9 331.8 333.3 332.6 332.6 C333.5 331.9 334.2 331.2 334.9 330.5 C335.6 329.7 336.3 328.6 336.6 328.2"/>
<path class="w" d="M258.2 339.1 C258.3 339.4 258.3 340.3 258.6 341 C258.8 341.6 259.1 342.2 259.6 342.9 C260 343.5 260.6 344.1 261.3 344.7 C261.9 345.3 262.7 345.8 263.6 346.4 C264.5 346.9 265.5 347.5 266.5 347.9 C267.6 348.4 268.8 348.9 270 349.3 C271.2 349.8 272.6 350.2 274 350.5 C275.3 350.9 276.8 351.2 278.3 351.5 C279.8 351.8 281.4 352 283.1 352.2 C284.7 352.4 286.3 352.6 288 352.7 C289.7 352.8 291.5 352.9 293.2 352.9 C294.9 352.9 296.7 352.9 298.5 352.8 C300.2 352.7 302 352.6 303.7 352.4 C305.4 352.3 307.2 352 308.9 351.8 C310.6 351.5 312.2 351.2 313.8 350.9 C315.5 350.5 317.1 350.1 318.6 349.7 C320.1 349.2 321.6 348.8 322.9 348.2 C324.3 347.7 325.7 347.2 326.9 346.6 C328.1 346 329.3 345.4 330.4 344.7 C331.4 344.1 332.4 343.4 333.3 342.7 C334.2 342 335 341.3 335.6 340.6 C336.3 339.8 336.9 339.1 337.3 338.3 C337.8 337.5 338.1 336.7 338.3 335.9 C338.6 335.1 338.6 333.9 338.7 333.6 Q340.9 329.8 338.4 326 L338.4 326 C338.3 326.4 338.3 327.6 338 328.4 C337.8 329.1 337.5 329.9 337 330.6 C336.6 331.4 336 332.1 335.3 332.9 C334.7 333.6 333.9 334.3 333 335 C332.2 335.6 331.2 336.3 330.1 336.9 C329.1 337.6 327.9 338.2 326.7 338.7 C325.5 339.3 324.1 339.8 322.8 340.3 C321.4 340.8 319.9 341.3 318.4 341.7 C316.9 342.2 315.3 342.6 313.7 342.9 C312.1 343.2 310.5 343.5 308.8 343.8 C307.1 344.1 305.4 344.3 303.7 344.4 C301.9 344.6 300.2 344.7 298.5 344.8 C296.7 344.9 295 344.9 293.2 344.9 C291.5 344.9 289.8 344.8 288.1 344.7 C286.4 344.6 284.8 344.5 283.2 344.3 C281.6 344.1 280 343.8 278.5 343.6 C277 343.3 275.5 343 274.1 342.6 C272.8 342.3 271.4 341.9 270.2 341.5 C269 341.1 267.8 340.6 266.8 340.1 C265.7 339.7 264.7 339.2 263.9 338.6 C263 338.1 262.2 337.6 261.6 337 C260.9 336.4 260.3 335.8 259.9 335.2 C259.4 334.6 259.1 334 258.9 333.4 C258.6 332.8 258.6 331.9 258.5 331.5 Q256 335.3 258.2 339.1Z"/>
<path class="o" d="M259.6 342.9 C259.9 343.2 260.6 344.1 261.3 344.7 C261.9 345.3 262.7 345.8 263.6 346.4 C264.5 346.9 265.5 347.5 266.5 347.9 C267.6 348.4 268.8 348.9 270 349.3 C271.2 349.8 272.6 350.2 274 350.5 C275.3 350.9 276.8 351.2 278.3 351.5 C279.8 351.8 281.4 352 283.1 352.2 C284.7 352.4 286.3 352.6 288 352.7 C289.7 352.8 291.5 352.9 293.2 352.9 C294.9 352.9 296.7 352.9 298.5 352.8 C300.2 352.7 302 352.6 303.7 352.4 C305.4 352.3 307.2 352 308.9 351.8 C310.6 351.5 312.2 351.2 313.8 350.9 C315.5 350.5 317.1 350.1 318.6 349.7 C320.1 349.2 321.6 348.8 322.9 348.2 C324.3 347.7 325.7 347.2 326.9 346.6 C328.1 346 329.3 345.4 330.4 344.7 C331.4 344.1 332.4 343.4 333.3 342.7 C334.2 342 335 341.3 335.6 340.6 C336.3 339.8 337 338.7 337.3 338.3"/>
<path class="w" d="M257.3 348.9 C257.4 349.2 257.5 350.2 257.7 350.9 C257.9 351.5 258.3 352.2 258.7 352.8 C259.2 353.4 259.8 354.1 260.5 354.7 C261.2 355.3 262 355.9 262.8 356.4 C263.7 357 264.7 357.5 265.8 358 C266.9 358.5 268.1 359 269.4 359.4 C270.6 359.9 272 360.3 273.4 360.7 C274.8 361 276.3 361.4 277.9 361.7 C279.4 362 281 362.2 282.7 362.4 C284.3 362.6 286.1 362.8 287.8 362.9 C289.5 363 291.3 363.1 293.1 363.1 C294.8 363.1 296.6 363.1 298.4 363 C300.2 362.9 302 362.8 303.8 362.6 C305.5 362.5 307.3 362.2 309 362 C310.8 361.7 312.5 361.4 314.1 361 C315.8 360.7 317.4 360.3 319 359.8 C320.5 359.4 322 358.9 323.4 358.4 C324.8 357.9 326.2 357.3 327.5 356.7 C328.7 356.1 329.9 355.5 331 354.8 C332.1 354.1 333.1 353.5 334 352.7 C334.9 352 335.7 351.3 336.4 350.5 C337 349.8 337.6 349 338.1 348.2 C338.6 347.4 338.9 346.6 339.1 345.8 C339.4 345 339.4 343.8 339.5 343.4 Q341.7 339.7 339.2 335.9 L339.2 335.9 C339.1 336.3 339.1 337.5 338.8 338.3 C338.6 339.1 338.3 339.8 337.8 340.6 C337.3 341.4 336.8 342.1 336.1 342.9 C335.4 343.6 334.6 344.3 333.7 345 C332.8 345.7 331.8 346.4 330.8 347 C329.7 347.6 328.5 348.3 327.2 348.8 C326 349.4 324.6 350 323.2 350.5 C321.8 351 320.3 351.5 318.8 351.9 C317.3 352.3 315.7 352.7 314 353.1 C312.4 353.4 310.7 353.7 309 354 C307.3 354.2 305.5 354.5 303.7 354.6 C302 354.8 300.2 354.9 298.4 355 C296.6 355.1 294.9 355.1 293.1 355.1 C291.3 355.1 289.6 355 287.9 354.9 C286.1 354.8 284.5 354.6 282.8 354.4 C281.2 354.2 279.6 354 278 353.7 C276.5 353.4 275 353.1 273.6 352.8 C272.2 352.4 270.8 352 269.6 351.6 C268.3 351.2 267.1 350.7 266.1 350.2 C265 349.7 264 349.2 263.1 348.7 C262.2 348.1 261.4 347.6 260.7 347 C260.1 346.4 259.5 345.8 259 345.2 C258.6 344.6 258.2 343.9 258 343.3 C257.8 342.7 257.7 341.7 257.6 341.4 Q255.1 345.2 257.3 348.9Z"/>
<path class="o" d="M258.7 352.8 C259 353.1 259.8 354.1 260.5 354.7 C261.2 355.3 262 355.9 262.8 356.4 C263.7 357 264.7 357.5 265.8 358 C266.9 358.5 268.1 359 269.4 359.4 C270.6 359.9 272 360.3 273.4 360.7 C274.8 361 276.3 361.4 277.9 361.7 C279.4 362 281 362.2 282.7 362.4 C284.3 362.6 286.1 362.8 287.8 362.9 C289.5 363 291.3 363.1 293.1 363.1 C294.8 363.1 296.6 363.1 298.4 363 C300.2 362.9 302 362.8 303.8 362.6 C305.5 362.5 307.3 362.2 309 362 C310.8 361.7 312.5 361.4 314.1 361 C315.8 360.7 317.4 360.3 319 359.8 C320.5 359.4 322 358.9 323.4 358.4 C324.8 357.9 326.2 357.3 327.5 356.7 C328.7 356.1 329.9 355.5 331 354.8 C332.1 354.1 333.1 353.5 334 352.7 C334.9 352 335.7 351.3 336.4 350.5 C337 349.8 337.8 348.6 338.1 348.2"/>
<path class="w" d="M256.6 360.3 C256.7 360.7 256.8 361.7 257 362.3 C257.2 363 257.6 363.6 258.1 364.3 C258.5 364.9 259.1 365.5 259.8 366.1 C260.5 366.7 261.3 367.3 262.2 367.9 C263.1 368.5 264.1 369 265.2 369.5 C266.3 370 267.6 370.5 268.8 371 C270.1 371.4 271.5 371.8 272.9 372.2 C274.4 372.6 275.9 372.9 277.4 373.2 C279 373.5 280.7 373.7 282.3 373.9 C284 374.1 285.7 374.3 287.5 374.4 C289.2 374.5 291 374.6 292.8 374.6 C294.6 374.6 296.4 374.6 298.3 374.5 C300.1 374.4 301.9 374.3 303.7 374.1 C305.5 373.9 307.3 373.7 309 373.4 C310.8 373.2 312.5 372.8 314.2 372.5 C315.8 372.1 317.5 371.7 319.1 371.2 C320.6 370.8 322.1 370.3 323.6 369.8 C325 369.2 326.4 368.7 327.7 368.1 C329 367.4 330.2 366.8 331.3 366.1 C332.4 365.5 333.4 364.8 334.3 364 C335.2 363.3 336 362.6 336.7 361.8 C337.4 361 338 360.2 338.4 359.4 C338.9 358.6 339.3 357.8 339.5 357 C339.7 356.2 339.8 355 339.9 354.5 Q342.1 350.8 339.6 347.1 L339.6 347.1 C339.5 347.5 339.4 348.7 339.2 349.5 C339 350.2 338.6 351 338.2 351.8 C337.7 352.6 337.1 353.4 336.4 354.1 C335.7 354.9 334.9 355.6 334 356.3 C333.1 357 332.1 357.7 331 358.3 C329.9 359 328.7 359.6 327.5 360.2 C326.2 360.8 324.8 361.4 323.4 361.9 C322 362.4 320.5 362.9 318.9 363.3 C317.4 363.8 315.7 364.2 314.1 364.5 C312.4 364.9 310.7 365.2 308.9 365.5 C307.2 365.7 305.4 365.9 303.6 366.1 C301.9 366.3 300.1 366.4 298.3 366.5 C296.5 366.6 294.6 366.6 292.9 366.6 C291.1 366.6 289.3 366.5 287.6 366.4 C285.8 366.3 284.1 366.2 282.4 366 C280.8 365.8 279.2 365.5 277.6 365.2 C276 365 274.5 364.6 273.1 364.3 C271.7 363.9 270.3 363.5 269 363.1 C267.8 362.7 266.6 362.2 265.5 361.7 C264.4 361.2 263.4 360.7 262.5 360.2 C261.6 359.6 260.8 359 260.1 358.5 C259.4 357.9 258.8 357.3 258.4 356.7 C257.9 356 257.5 355.4 257.3 354.8 C257.1 354.1 257 353.2 256.9 352.9 Q254.4 356.6 256.6 360.3Z"/>
<path class="o" d="M258.1 364.3 C258.4 364.6 259.1 365.5 259.8 366.1 C260.5 366.7 261.3 367.3 262.2 367.9 C263.1 368.5 264.1 369 265.2 369.5 C266.3 370 267.6 370.5 268.8 371 C270.1 371.4 271.5 371.8 272.9 372.2 C274.4 372.6 275.9 372.9 277.4 373.2 C279 373.5 280.7 373.7 282.3 373.9 C284 374.1 285.7 374.3 287.5 374.4 C289.2 374.5 291 374.6 292.8 374.6 C294.6 374.6 296.4 374.6 298.3 374.5 C300.1 374.4 301.9 374.3 303.7 374.1 C305.5 373.9 307.3 373.7 309 373.4 C310.8 373.2 312.5 372.8 314.2 372.5 C315.8 372.1 317.5 371.7 319.1 371.2 C320.6 370.8 322.1 370.3 323.6 369.8 C325 369.2 326.4 368.7 327.7 368.1 C329 367.4 330.2 366.8 331.3 366.1 C332.4 365.5 333.4 364.8 334.3 364 C335.2 363.3 336 362.6 336.7 361.8 C337.4 361 338.2 359.8 338.4 359.4"/>
<path class="w" d="M256.1 371.8 C256.2 372.1 256.2 373.1 256.5 373.8 C256.7 374.5 257.1 375.1 257.5 375.8 C258 376.4 258.6 377 259.3 377.6 C260 378.2 260.8 378.8 261.7 379.4 C262.6 380 263.7 380.5 264.8 381 C265.9 381.5 267.1 382 268.4 382.5 C269.7 382.9 271.1 383.3 272.5 383.7 C274 384.1 275.5 384.4 277.1 384.7 C278.6 385 280.3 385.2 282 385.4 C283.7 385.6 285.4 385.8 287.2 385.9 C288.9 386 290.7 386.1 292.6 386.1 C294.4 386.1 296.2 386.1 298 386 C299.9 385.9 301.7 385.8 303.5 385.6 C305.3 385.4 307.1 385.2 308.9 384.9 C310.6 384.6 312.4 384.3 314.1 383.9 C315.8 383.6 317.4 383.2 319 382.7 C320.6 382.2 322.1 381.7 323.6 381.2 C325 380.7 326.4 380.1 327.7 379.5 C329 378.9 330.2 378.2 331.3 377.5 C332.4 376.8 333.4 376.1 334.3 375.4 C335.3 374.7 336.1 373.9 336.8 373.1 C337.5 372.4 338.1 371.6 338.5 370.8 C339 370 339.4 369.1 339.6 368.3 C339.8 367.5 339.9 366.2 340 365.8 Q342.2 362.1 339.7 358.3 L339.7 358.3 C339.6 358.7 339.5 359.9 339.3 360.8 C339.1 361.6 338.7 362.4 338.2 363.1 C337.8 363.9 337.2 364.7 336.5 365.5 C335.8 366.2 335 367 334.1 367.7 C333.2 368.4 332.2 369.1 331.1 369.7 C330 370.4 328.7 371 327.5 371.6 C326.2 372.2 324.8 372.8 323.4 373.3 C321.9 373.8 320.4 374.3 318.8 374.8 C317.3 375.2 315.6 375.6 314 376 C312.3 376.3 310.6 376.7 308.8 376.9 C307.1 377.2 305.3 377.4 303.5 377.6 C301.7 377.8 299.8 377.9 298 378 C296.2 378.1 294.4 378.1 292.6 378.1 C290.8 378.1 289 378 287.3 377.9 C285.5 377.8 283.8 377.7 282.1 377.5 C280.4 377.3 278.8 377 277.2 376.8 C275.6 376.5 274.1 376.2 272.7 375.8 C271.3 375.4 269.9 375 268.6 374.6 C267.3 374.2 266.1 373.7 265 373.2 C263.9 372.7 262.9 372.2 262 371.7 C261.1 371.1 260.3 370.5 259.6 370 C258.9 369.4 258.3 368.8 257.8 368.1 C257.4 367.5 257 366.9 256.8 366.3 C256.5 365.6 256.5 364.6 256.4 364.3 Q253.9 368.1 256.1 371.8Z"/>
<path class="o" d="M257.5 375.8 C257.8 376.1 258.6 377 259.3 377.6 C260 378.2 260.8 378.8 261.7 379.4 C262.6 380 263.7 380.5 264.8 381 C265.9 381.5 267.1 382 268.4 382.5 C269.7 382.9 271.1 383.3 272.5 383.7 C274 384.1 275.5 384.4 277.1 384.7 C278.6 385 280.3 385.2 282 385.4 C283.7 385.6 285.4 385.8 287.2 385.9 C288.9 386 290.7 386.1 292.6 386.1 C294.4 386.1 296.2 386.1 298 386 C299.9 385.9 301.7 385.8 303.5 385.6 C305.3 385.4 307.1 385.2 308.9 384.9 C310.6 384.6 312.4 384.3 314.1 383.9 C315.8 383.6 317.4 383.2 319 382.7 C320.6 382.2 322.1 381.7 323.6 381.2 C325 380.7 326.4 380.1 327.7 379.5 C329 378.9 330.2 378.2 331.3 377.5 C332.4 376.8 333.4 376.1 334.3 375.4 C335.3 374.7 336.1 373.9 336.8 373.1 C337.5 372.4 338.2 371.2 338.5 370.8"/>
<path class="w" d="M255.5 383.9 C255.6 384.2 255.7 385.2 255.9 385.8 C256.2 386.5 256.5 387.1 257 387.8 C257.5 388.4 258.1 389 258.8 389.6 C259.5 390.2 260.3 390.8 261.2 391.4 C262.1 391.9 263.2 392.5 264.3 393 C265.4 393.5 266.6 393.9 267.9 394.4 C269.2 394.8 270.6 395.2 272.1 395.6 C273.5 395.9 275.1 396.3 276.7 396.5 C278.3 396.8 279.9 397.1 281.6 397.3 C283.3 397.4 285.1 397.6 286.9 397.7 C288.6 397.8 290.5 397.8 292.3 397.8 C294.1 397.8 296 397.8 297.8 397.7 C299.6 397.6 301.5 397.5 303.3 397.3 C305.1 397.1 307 396.8 308.7 396.5 C310.5 396.2 312.3 395.9 314 395.5 C315.7 395.1 317.3 394.7 318.9 394.2 C320.5 393.7 322.1 393.2 323.5 392.7 C325 392.1 326.4 391.5 327.7 390.9 C329 390.2 330.2 389.6 331.3 388.9 C332.4 388.2 333.5 387.5 334.4 386.7 C335.3 386 336.1 385.2 336.8 384.4 C337.5 383.6 338.1 382.8 338.6 381.9 C339.1 381.1 339.5 380.3 339.7 379.4 C339.9 378.6 340 377.3 340.1 376.9 Q342.3 373.1 339.8 369.4 L339.8 369.4 C339.7 369.8 339.6 371.1 339.4 371.9 C339.2 372.7 338.8 373.5 338.3 374.3 C337.9 375.1 337.3 375.9 336.6 376.7 C335.9 377.5 335 378.2 334.1 379 C333.2 379.7 332.2 380.4 331.1 381.1 C330 381.8 328.8 382.4 327.5 383 C326.2 383.6 324.8 384.2 323.3 384.8 C321.9 385.3 320.4 385.8 318.8 386.3 C317.2 386.7 315.5 387.2 313.9 387.5 C312.2 387.9 310.4 388.3 308.7 388.5 C306.9 388.8 305.1 389.1 303.3 389.3 C301.5 389.5 299.6 389.6 297.8 389.7 C296 389.8 294.1 389.8 292.3 389.8 C290.5 389.8 288.7 389.8 286.9 389.7 C285.2 389.6 283.4 389.5 281.7 389.3 C280.1 389.1 278.4 388.9 276.8 388.6 C275.2 388.3 273.7 388 272.3 387.7 C270.8 387.3 269.4 386.9 268.1 386.5 C266.8 386.1 265.6 385.7 264.5 385.2 C263.4 384.7 262.4 384.2 261.5 383.6 C260.6 383.1 259.7 382.5 259 382 C258.3 381.4 257.8 380.8 257.3 380.2 C256.8 379.6 256.4 378.9 256.2 378.3 C256 377.7 255.9 376.7 255.8 376.4 Q253.3 380.1 255.5 383.9Z"/>
<path class="o" d="M257 387.8 C257.3 388.1 258.1 389 258.8 389.6 C259.5 390.2 260.3 390.8 261.2 391.4 C262.1 391.9 263.2 392.5 264.3 393 C265.4 393.5 266.6 393.9 267.9 394.4 C269.2 394.8 270.6 395.2 272.1 395.6 C273.5 395.9 275.1 396.3 276.7 396.5 C278.3 396.8 279.9 397.1 281.6 397.3 C283.3 397.4 285.1 397.6 286.9 397.7 C288.6 397.8 290.5 397.8 292.3 397.8 C294.1 397.8 296 397.8 297.8 397.7 C299.6 397.6 301.5 397.5 303.3 397.3 C305.1 397.1 307 396.8 308.7 396.5 C310.5 396.2 312.3 395.9 314 395.5 C315.7 395.1 317.3 394.7 318.9 394.2 C320.5 393.7 322.1 393.2 323.5 392.7 C325 392.1 326.4 391.5 327.7 390.9 C329 390.2 330.2 389.6 331.3 388.9 C332.4 388.2 333.5 387.5 334.4 386.7 C335.3 386 336.1 385.2 336.8 384.4 C337.5 383.6 338.3 382.3 338.6 381.9"/>
<path class="w" d="M255.1 401.8 C255.1 402.1 255.2 403.1 255.4 403.7 C255.7 404.3 256 405 256.5 405.6 C257 406.2 257.6 406.8 258.3 407.3 C259 407.9 259.8 408.5 260.8 409 C261.7 409.5 262.7 410 263.8 410.5 C265 411 266.2 411.4 267.5 411.9 C268.8 412.3 270.2 412.6 271.7 413 C273.1 413.3 274.7 413.6 276.3 413.9 C277.9 414.1 279.5 414.3 281.2 414.5 C282.9 414.7 284.7 414.8 286.5 414.9 C288.3 414.9 290.1 415 291.9 414.9 C293.8 414.9 295.6 414.8 297.5 414.7 C299.3 414.6 301.2 414.4 303 414.2 C304.8 414 306.7 413.7 308.4 413.4 C310.2 413 312 412.7 313.7 412.3 C315.4 411.8 317.1 411.4 318.7 410.9 C320.3 410.4 321.8 409.8 323.3 409.2 C324.7 408.6 326.1 408 327.5 407.4 C328.8 406.7 330 406 331.1 405.3 C332.2 404.5 333.3 403.8 334.2 403 C335.1 402.2 335.9 401.4 336.6 400.6 C337.3 399.8 337.9 398.9 338.4 398.1 C338.9 397.2 339.3 396.3 339.5 395.5 C339.7 394.6 339.8 393.3 339.9 392.8 Q342.1 389.3 339.6 385.7 L339.6 385.7 C339.5 386.2 339.4 387.5 339.2 388.3 C339 389.2 338.6 390 338.1 390.9 C337.7 391.7 337.1 392.5 336.4 393.3 C335.7 394.1 334.8 394.9 333.9 395.7 C333 396.4 332 397.2 330.9 397.9 C329.8 398.6 328.5 399.3 327.2 399.9 C325.9 400.6 324.6 401.2 323.1 401.7 C321.6 402.3 320.1 402.8 318.5 403.3 C316.9 403.8 315.3 404.3 313.6 404.7 C311.9 405.1 310.1 405.5 308.4 405.8 C306.6 406.1 304.8 406.4 303 406.6 C301.1 406.8 299.3 407 297.5 407.1 C295.6 407.2 293.8 407.3 292 407.3 C290.2 407.4 288.3 407.3 286.6 407.3 C284.8 407.2 283.1 407.1 281.4 406.9 C279.7 406.8 278 406.6 276.4 406.3 C274.8 406.1 273.3 405.8 271.8 405.5 C270.4 405.2 269 404.8 267.7 404.4 C266.4 404 265.2 403.6 264.1 403.1 C263 402.7 261.9 402.2 261 401.7 C260.1 401.2 259.3 400.6 258.6 400.1 C257.9 399.5 257.3 398.9 256.8 398.4 C256.3 397.8 256 397.2 255.7 396.6 C255.5 396 255.4 395 255.4 394.7 Q252.9 398.3 255.1 401.8Z"/>
<path class="o" d="M256.5 405.6 C256.8 405.9 257.6 406.8 258.3 407.3 C259 407.9 259.8 408.5 260.8 409 C261.7 409.5 262.7 410 263.8 410.5 C265 411 266.2 411.4 267.5 411.9 C268.8 412.3 270.2 412.6 271.7 413 C273.1 413.3 274.7 413.6 276.3 413.9 C277.9 414.1 279.5 414.3 281.2 414.5 C282.9 414.7 284.7 414.8 286.5 414.9 C288.3 414.9 290.1 415 291.9 414.9 C293.8 414.9 295.6 414.8 297.5 414.7 C299.3 414.6 301.2 414.4 303 414.2 C304.8 414 306.7 413.7 308.4 413.4 C310.2 413 312 412.7 313.7 412.3 C315.4 411.8 317.1 411.4 318.7 410.9 C320.3 410.4 321.8 409.8 323.3 409.2 C324.7 408.6 326.1 408 327.5 407.4 C328.8 406.7 330 406 331.1 405.3 C332.2 404.5 333.3 403.8 334.2 403 C335.1 402.2 335.9 401.4 336.6 400.6 C337.3 399.8 338.1 398.5 338.4 398.1"/>
<path class="w" d="M254.6 424.8 C254.7 425.1 254.8 426 255 426.6 C255.2 427.2 255.6 427.8 256.1 428.4 C256.6 429 257.2 429.6 257.9 430.1 C258.6 430.7 259.4 431.2 260.3 431.7 C261.2 432.2 262.3 432.7 263.4 433.2 C264.5 433.6 265.8 434 267.1 434.4 C268.4 434.8 269.8 435.2 271.2 435.5 C272.7 435.8 274.2 436.1 275.8 436.3 C277.4 436.6 279.1 436.7 280.8 436.9 C282.5 437 284.3 437.1 286.1 437.2 C287.8 437.2 289.7 437.2 291.5 437.2 C293.3 437.1 295.2 437 297 436.9 C298.9 436.8 300.7 436.6 302.6 436.3 C304.4 436.1 306.2 435.8 308 435.4 C309.8 435.1 311.6 434.7 313.3 434.3 C315 433.8 316.6 433.3 318.2 432.8 C319.8 432.3 321.4 431.7 322.8 431.1 C324.3 430.5 325.7 429.9 327 429.2 C328.3 428.5 329.6 427.8 330.7 427 C331.8 426.3 332.8 425.5 333.8 424.7 C334.7 423.9 335.5 423.1 336.2 422.2 C336.9 421.4 337.5 420.5 338 419.6 C338.5 418.8 338.8 417.9 339.1 417 C339.3 416.1 339.4 414.7 339.4 414.3 Q341.6 410.5 339.1 406.8 L339.1 406.8 C339.1 407.2 339 408.6 338.8 409.4 C338.5 410.3 338.2 411.2 337.7 412 C337.2 412.9 336.6 413.7 335.9 414.6 C335.2 415.4 334.4 416.2 333.5 417 C332.6 417.7 331.6 418.5 330.4 419.2 C329.3 420 328.1 420.7 326.8 421.3 C325.5 422 324.1 422.6 322.7 423.2 C321.2 423.8 319.7 424.4 318.1 424.9 C316.5 425.4 314.8 425.9 313.1 426.3 C311.5 426.7 309.7 427.1 307.9 427.5 C306.2 427.8 304.3 428.1 302.5 428.3 C300.7 428.6 298.9 428.8 297 428.9 C295.2 429 293.4 429.1 291.5 429.2 C289.7 429.2 287.9 429.2 286.1 429.2 C284.4 429.2 282.6 429.1 280.9 428.9 C279.2 428.8 277.6 428.6 276 428.4 C274.4 428.2 272.9 427.9 271.4 427.6 C270 427.3 268.6 427 267.3 426.6 C266 426.2 264.8 425.8 263.6 425.4 C262.5 424.9 261.5 424.5 260.6 424 C259.7 423.5 258.8 423 258.1 422.4 C257.4 421.9 256.8 421.3 256.4 420.8 C255.9 420.2 255.5 419.6 255.3 419.1 C255.1 418.5 255 417.6 254.9 417.3 Q252.4 421 254.6 424.8Z"/>
<path class="o" d="M256.1 428.4 C256.4 428.7 257.2 429.6 257.9 430.1 C258.6 430.7 259.4 431.2 260.3 431.7 C261.2 432.2 262.3 432.7 263.4 433.2 C264.5 433.6 265.8 434 267.1 434.4 C268.4 434.8 269.8 435.2 271.2 435.5 C272.7 435.8 274.2 436.1 275.8 436.3 C277.4 436.6 279.1 436.7 280.8 436.9 C282.5 437 284.3 437.1 286.1 437.2 C287.8 437.2 289.7 437.2 291.5 437.2 C293.3 437.1 295.2 437 297 436.9 C298.9 436.8 300.7 436.6 302.6 436.3 C304.4 436.1 306.2 435.8 308 435.4 C309.8 435.1 311.6 434.7 313.3 434.3 C315 433.8 316.6 433.3 318.2 432.8 C319.8 432.3 321.4 431.7 322.8 431.1 C324.3 430.5 325.7 429.9 327 429.2 C328.3 428.5 329.6 427.8 330.7 427 C331.8 426.3 332.8 425.5 333.8 424.7 C334.7 423.9 335.5 423.1 336.2 422.2 C336.9 421.4 337.7 420.1 338 419.6"/>
<path class="w" d="M257.7 447.1 C257.7 447.4 257.8 448.2 258 448.8 C258.2 449.4 258.5 449.9 259 450.5 C259.4 451 260 451.6 260.6 452.1 C261.2 452.6 262 453.1 262.8 453.6 C263.7 454 264.6 454.5 265.7 454.9 C266.7 455.3 267.8 455.7 269 456.1 C270.2 456.5 271.5 456.8 272.8 457.1 C274.2 457.4 275.6 457.6 277 457.9 C278.5 458.1 280 458.3 281.6 458.4 C283.1 458.6 284.8 458.7 286.4 458.7 C288 458.8 289.7 458.8 291.4 458.7 C293 458.7 294.7 458.6 296.4 458.5 C298.1 458.4 299.8 458.2 301.5 458 C303.1 457.8 304.8 457.5 306.4 457.2 C308.1 456.9 309.7 456.6 311.3 456.2 C312.8 455.8 314.3 455.3 315.8 454.9 C317.3 454.4 318.7 453.9 320 453.3 C321.4 452.8 322.6 452.2 323.8 451.6 C325 451 326.1 450.3 327.2 449.7 C328.2 449 329.1 448.3 330 447.6 C330.8 446.8 331.6 446.1 332.2 445.3 C332.9 444.6 333.4 443.8 333.9 443 C334.3 442.2 334.6 441.4 334.8 440.6 C335.1 439.7 335.1 438.5 335.2 438.1 Q337.4 434.5 334.9 431 L334.9 431 C334.8 431.4 334.8 432.6 334.6 433.4 C334.3 434.2 334 435 333.6 435.7 C333.1 436.5 332.6 437.3 332 438 C331.3 438.8 330.6 439.5 329.7 440.2 C328.9 440.9 328 441.6 326.9 442.2 C325.9 442.9 324.8 443.5 323.6 444.1 C322.4 444.7 321.2 445.3 319.8 445.8 C318.5 446.4 317.1 446.9 315.6 447.3 C314.2 447.8 312.7 448.2 311.1 448.6 C309.6 449 308 449.3 306.4 449.6 C304.8 449.9 303.1 450.2 301.4 450.4 C299.8 450.6 298.1 450.8 296.4 450.9 C294.7 451 293.1 451.1 291.4 451.1 C289.7 451.2 288.1 451.2 286.5 451.1 C284.8 451.1 283.2 451 281.7 450.9 C280.2 450.7 278.6 450.5 277.2 450.3 C275.7 450.1 274.3 449.9 273 449.6 C271.7 449.3 270.4 449 269.2 448.6 C268 448.3 266.9 447.9 265.9 447.5 C264.9 447.1 263.9 446.6 263.1 446.2 C262.3 445.7 261.5 445.3 260.9 444.8 C260.2 444.3 259.7 443.7 259.3 443.2 C258.8 442.7 258.5 442.2 258.3 441.6 C258.1 441.1 258 440.3 258 440 Q255.5 443.5 257.7 447.1Z"/>
<path class="o" d="M259 450.5 C259.2 450.7 260 451.6 260.6 452.1 C261.2 452.6 262 453.1 262.8 453.6 C263.7 454 264.6 454.5 265.7 454.9 C266.7 455.3 267.8 455.7 269 456.1 C270.2 456.5 271.5 456.8 272.8 457.1 C274.2 457.4 275.6 457.6 277 457.9 C278.5 458.1 280 458.3 281.6 458.4 C283.1 458.6 284.8 458.7 286.4 458.7 C288 458.8 289.7 458.8 291.4 458.7 C293 458.7 294.7 458.6 296.4 458.5 C298.1 458.4 299.8 458.2 301.5 458 C303.1 457.8 304.8 457.5 306.4 457.2 C308.1 456.9 309.7 456.6 311.3 456.2 C312.8 455.8 314.3 455.3 315.8 454.9 C317.3 454.4 318.7 453.9 320 453.3 C321.4 452.8 322.6 452.2 323.8 451.6 C325 451 326.1 450.3 327.2 449.7 C328.2 449 329.1 448.3 330 447.6 C330.8 446.8 331.6 446.1 332.2 445.3 C332.9 444.6 333.6 443.4 333.9 443"/>
<path class="w" d="M262.7 458.8 C262.7 459.1 262.8 459.9 263 460.4 C263.2 460.9 263.5 461.4 263.8 462 C264.2 462.5 264.7 463 265.2 463.4 C265.8 463.9 266.4 464.4 267.2 464.8 C267.9 465.3 268.7 465.7 269.6 466.1 C270.5 466.5 271.4 466.9 272.5 467.2 C273.5 467.6 274.6 467.9 275.7 468.2 C276.9 468.5 278.1 468.8 279.4 469 C280.6 469.2 281.9 469.4 283.3 469.6 C284.6 469.7 286 469.9 287.4 470 C288.8 470 290.2 470.1 291.7 470.1 C293.1 470.1 294.6 470.1 296 470 C297.5 469.9 298.9 469.8 300.4 469.7 C301.8 469.5 303.3 469.3 304.7 469.1 C306.1 468.9 307.5 468.6 308.8 468.3 C310.1 468 311.4 467.7 312.7 467.3 C314 467 315.2 466.6 316.3 466.1 C317.5 465.7 318.6 465.2 319.6 464.7 C320.6 464.3 321.6 463.7 322.5 463.2 C323.4 462.7 324.2 462.1 324.9 461.5 C325.6 460.9 326.3 460.3 326.8 459.7 C327.4 459.1 327.9 458.4 328.2 457.8 C328.6 457.1 328.9 456.5 329.1 455.8 C329.3 455.2 329.3 454.2 329.4 453.8 Q331.6 450.3 329.1 446.7 L329.1 446.7 C329 447.1 329 448 328.8 448.7 C328.6 449.3 328.3 450 327.9 450.6 C327.6 451.2 327.1 451.8 326.6 452.4 C326 453 325.4 453.6 324.6 454.2 C323.9 454.8 323.1 455.3 322.2 455.9 C321.4 456.4 320.4 456.9 319.4 457.4 C318.4 457.8 317.3 458.3 316.1 458.7 C315 459.1 313.8 459.5 312.6 459.9 C311.3 460.2 310 460.6 308.7 460.9 C307.3 461.2 306 461.4 304.6 461.6 C303.2 461.9 301.8 462 300.3 462.2 C298.9 462.3 297.5 462.4 296 462.5 C294.6 462.6 293.1 462.6 291.7 462.6 C290.3 462.6 288.9 462.5 287.5 462.5 C286.1 462.4 284.7 462.3 283.4 462.1 C282.1 462 280.8 461.8 279.5 461.6 C278.3 461.3 277.1 461.1 275.9 460.8 C274.8 460.5 273.7 460.2 272.7 459.9 C271.7 459.5 270.7 459.2 269.8 458.8 C268.9 458.4 268.1 458 267.4 457.5 C266.7 457.1 266.1 456.7 265.5 456.2 C265 455.7 264.5 455.2 264.1 454.8 C263.7 454.3 263.5 453.8 263.3 453.3 C263.1 452.8 263 452 263 451.7 Q260.5 455.3 262.7 458.8Z"/>
<path class="o" d="M263.8 462 C264.1 462.2 264.7 463 265.2 463.4 C265.8 463.9 266.4 464.4 267.2 464.8 C267.9 465.3 268.7 465.7 269.6 466.1 C270.5 466.5 271.4 466.9 272.5 467.2 C273.5 467.6 274.6 467.9 275.7 468.2 C276.9 468.5 278.1 468.8 279.4 469 C280.6 469.2 281.9 469.4 283.3 469.6 C284.6 469.7 286 469.9 287.4 470 C288.8 470 290.2 470.1 291.7 470.1 C293.1 470.1 294.6 470.1 296 470 C297.5 469.9 298.9 469.8 300.4 469.7 C301.8 469.5 303.3 469.3 304.7 469.1 C306.1 468.9 307.5 468.6 308.8 468.3 C310.1 468 311.4 467.7 312.7 467.3 C314 467 315.2 466.6 316.3 466.1 C317.5 465.7 318.6 465.2 319.6 464.7 C320.6 464.3 321.6 463.7 322.5 463.2 C323.4 462.7 324.2 462.1 324.9 461.5 C325.6 460.9 326.3 460.3 326.8 459.7 C327.4 459.1 328 458.1 328.2 457.8"/>
<path class="k" d="M280.5 318.3 L283.5 320.1"/>
<path class="k" d="M290.5 319.5 L293.5 321.3"/>
<path class="k" d="M302.5 319.5 L305.5 321.3"/>
<path class="k" d="M312.5 318.3 L315.5 320.1"/>
<path class="k" d="M280.5 330.3 L283.5 332.1"/>
<path class="k" d="M290.5 331.5 L293.5 333.3"/>
<path class="k" d="M302.5 331.5 L305.5 333.3"/>
<path class="k" d="M312.5 330.3 L315.5 332.1"/>
<path class="o" d="M264.3 461 L271 476"/>
<path class="o" d="M329.6 458.5 L319.8 476"/>
<path class="o" d="M267.2 465.8 C267.2 466 267.4 466.6 267.6 467 C267.9 467.5 268.2 467.9 268.5 468.3 C268.9 468.6 269.4 469 269.9 469.4 C270.4 469.8 271 470.1 271.6 470.5 C272.2 470.8 273 471.2 273.7 471.5 C274.5 471.8 275.3 472.1 276.2 472.4 C277 472.6 278 472.9 278.9 473.1 C279.9 473.3 280.9 473.5 281.9 473.7 C283 473.9 284.1 474.1 285.2 474.2 C286.3 474.3 287.4 474.4 288.5 474.5 C289.7 474.6 290.9 474.6 292 474.6 C293.2 474.7 294.4 474.6 295.6 474.6 C296.8 474.6 298 474.5 299.2 474.4 C300.3 474.3 301.5 474.2 302.7 474 C303.8 473.9 304.9 473.7 306 473.5 C307.1 473.3 308.2 473 309.3 472.8 C310.3 472.5 311.3 472.2 312.3 471.9 C313.2 471.6 314.2 471.3 315 470.9 C315.9 470.6 316.7 470.2 317.5 469.8 C318.2 469.4 319 469 319.6 468.6 C320.2 468.2 320.8 467.7 321.3 467.3 C321.8 466.8 322.3 466.3 322.7 465.9 C323 465.4 323.3 464.9 323.6 464.4 C323.8 463.9 324 463.2 324 462.9"/>
<path class="wo" d="M271 476 L274.6 491.5 L274.4 522 Q275 528 277 531.5 L276.2 532.5 L275.5 543.2 L294.7 557.3 L311 545.6 L313.9 533.6 L313.2 530.6 Q316.3 526 316.5 518.8 L316.5 485.6 L319.8 476 Z"/>
<path class="h" d="M271.1 469.8 C271.1 470 271.2 470.6 271.3 471 C271.4 471.4 271.7 471.8 271.9 472.2 C272.2 472.6 272.5 472.9 272.9 473.3 C273.4 473.7 273.8 474 274.4 474.4 C274.9 474.7 275.5 475 276.1 475.3 C276.8 475.7 277.5 476 278.2 476.2 C279 476.5 279.8 476.8 280.6 477 C281.4 477.2 282.3 477.4 283.2 477.6 C284.2 477.8 285.1 478 286.1 478.1 C287.1 478.2 288.1 478.4 289.1 478.4 C290.1 478.5 291.2 478.6 292.2 478.6 C293.3 478.6 294.3 478.6 295.4 478.6 C296.5 478.6 297.5 478.5 298.6 478.4 C299.6 478.3 300.7 478.2 301.7 478.1 C302.7 478 303.7 477.8 304.7 477.6 C305.7 477.4 306.6 477.2 307.5 477 C308.5 476.7 309.4 476.4 310.2 476.2 C311 475.9 311.8 475.6 312.6 475.2 C313.3 474.9 314 474.5 314.7 474.2 C315.3 473.8 315.9 473.4 316.4 473 C317 472.6 317.4 472.2 317.9 471.8 C318.3 471.4 318.6 470.9 318.9 470.5 C319.1 470.1 319.4 469.6 319.5 469.2 C319.6 468.7 319.7 468 319.7 467.8"/>
<path class="k" d="M273 474.2 C273.1 474.3 273.3 474.8 273.5 475.2 C273.7 475.5 273.9 475.8 274.3 476.2 C274.6 476.5 274.9 476.8 275.4 477.1 C275.8 477.4 276.2 477.7 276.7 478 C277.3 478.2 277.8 478.5 278.4 478.7 C279 479 279.7 479.2 280.3 479.5 C281 479.7 281.7 479.9 282.5 480.1 C283.2 480.2 284 480.4 284.8 480.6 C285.6 480.7 286.5 480.8 287.3 480.9 C288.2 481 289.1 481.1 290 481.2 C290.8 481.3 291.8 481.3 292.7 481.3 C293.6 481.3 294.5 481.3 295.4 481.3 C296.3 481.3 297.2 481.2 298.1 481.2 C299 481.1 300 481 300.8 480.9 C301.7 480.8 302.6 480.6 303.5 480.5 C304.3 480.3 305.2 480.1 306 479.9 C306.8 479.7 307.6 479.5 308.3 479.3 C309.1 479 309.8 478.8 310.5 478.5 C311.1 478.3 311.8 478 312.4 477.7 C313 477.4 313.5 477 314.1 476.7 C314.6 476.4 315 476 315.4 475.7 C315.9 475.3 316.2 475 316.5 474.6 C316.9 474.2 317.1 473.9 317.3 473.5 C317.5 473.1 317.7 472.5 317.8 472.3"/>
<path class="k" d="M274.7 478.3 C274.8 478.5 275 478.9 275.3 479.2 C275.5 479.4 275.8 479.7 276.1 480 C276.4 480.3 276.8 480.5 277.2 480.8 C277.6 481 278.1 481.3 278.6 481.5 C279 481.7 279.6 481.9 280.1 482.1 C280.7 482.4 281.3 482.5 281.9 482.7 C282.5 482.9 283.2 483.1 283.9 483.2 C284.5 483.4 285.2 483.5 286 483.6 C286.7 483.7 287.5 483.8 288.2 483.9 C289 484 289.8 484.1 290.6 484.1 C291.3 484.2 292.2 484.2 293 484.2 C293.8 484.2 294.6 484.2 295.4 484.2 C296.2 484.2 297 484.1 297.8 484.1 C298.6 484 299.5 483.9 300.2 483.8 C301 483.7 301.8 483.6 302.6 483.5 C303.3 483.4 304.1 483.2 304.8 483 C305.6 482.9 306.3 482.7 306.9 482.5 C307.6 482.3 308.3 482.1 308.9 481.8 C309.5 481.6 310.1 481.4 310.7 481.1 C311.2 480.9 311.8 480.6 312.2 480.3 C312.7 480 313.2 479.7 313.6 479.4 C314 479.1 314.4 478.8 314.7 478.5 C315 478.2 315.3 477.9 315.5 477.5 C315.8 477.2 316 476.7 316.1 476.5"/>
<path class="k" d="M272 478 L275.5 489 L281.5 494.5 L284 493 L284.5 483"/>
<path class="k" d="M274.6 491.5 L281.5 494.5"/>
<path class="k" d="M309 487 L309 496.5 L314 497.5 L314 488"/>
<path class="k" d="M311 490 L313 492 L311 494"/>
<path class="k" d="M290.4 485 L290.1 507"/>
<path class="t" d="M289.8 507 L289.2 536"/>
<path class="k" d="M291.5 512 Q305 510 316.3 501"/>
<path class="k" d="M292 512 L292.6 519.5 Q306 518 316.4 508.5"/>
<path class="k" d="M274.4 522 Q279 533 290 536 Q303 538 313.2 530.6"/>
<path class="k" d="M277.5 534.5 L291.5 544.5 L294.7 557.3"/>
<path class="k" d="M291.5 544.5 L291 552"/>
<ellipse class="k" cx="302.5" cy="544.5" rx="10.2" ry="7.2" transform="rotate(-50 302.5 544.5)"/>
<ellipse class="k" cx="302.8" cy="545" rx="7.6" ry="5.2" transform="rotate(-50 302.8 545)"/>
<ellipse class="o" cx="303.2" cy="545.6" rx="4.6" ry="3.2" transform="rotate(-50 303.2 545.6)"/>
<path class="k" d="M300.5 546.5 L305 543 L306.5 546"/>
<path class="wo" d="M283.6 250.8 L301.5 238.6 Q303.5 237.6 305.5 238.8 Q314 243.5 317.6 250.8 Q318.6 256 316.9 260.4 L305 268.5 Q300 272 294 270 Q286 266 283 258 Q282.4 253.5 283.6 250.8Z"/>
<path class="k" d="M283.6 250.8 C284.5 250.8 286.9 250.1 289 251 C291.1 251.9 294.1 254.4 296 256.5 C297.9 258.6 299.6 261.2 300.5 263.5 C301.4 265.8 301.3 268.9 301.5 270"/>
<path class="k" d="M297 241.6 C298.2 242.2 302.1 243.3 304 245 C305.9 246.7 307.6 249.2 308.5 251.5 C309.4 253.8 309.2 256.7 309.3 259 C309.4 261.3 309.1 264.4 309 265.5"/>
<path class="k" d="M301 261.5 L316 251.5"/>
<ellipse class="o" cx="291.3" cy="262" rx="7.6" ry="5.6" transform="rotate(52 291.3 262)"/>
<ellipse class="o" cx="291.6" cy="262.5" rx="5.2" ry="3.6" transform="rotate(52 291.6 262.5)"/>
<ellipse class="k" cx="292.2" cy="263.2" rx="2.6" ry="1.8" transform="rotate(52 292.2 263.2)"/>
<path class="c2" d="M287 256 Q293 256.5 297.5 262 Q300 266 299.5 270.5"/>
</g>
<g id="p20_shockhw">
<path class="wo" d="M385.6 202.4 L384.1 196.2 L378.9 191.2 L375.1 192.3 L376.5 198.5 L381.8 203.5Z"/>
<path class="wo" d="M385.6 202.4 L384.1 196.2 L380.9 198.6 L382.3 204.7Z"/>
<path class="wo" d="M384.1 196.2 L378.9 191.2 L375.6 193.6 L380.9 198.6Z"/>
<path class="wo" d="M378.9 191.2 L375.1 192.3 L371.8 194.7 L375.6 193.6Z"/>
<path class="wo" d="M375.1 192.3 L376.5 198.5 L373.3 200.8 L371.8 194.7Z"/>
<path class="wo" d="M376.5 198.5 L381.8 203.5 L378.5 205.8 L373.3 200.8Z"/>
<path class="wo" d="M381.8 203.5 L385.6 202.4 L382.3 204.7 L378.5 205.8Z"/>
<path class="wo" d="M382.3 204.7 L380.9 198.6 L375.6 193.6 L371.8 194.7 L373.3 200.8 L378.5 205.8Z"/>
<ellipse class="wo" cx="377.1" cy="199.7" rx="9.8" ry="4.9" transform="rotate(53.9 377.1 199.7)"/>
<ellipse class="w" cx="375.3" cy="201" rx="9.8" ry="4.9" transform="rotate(53.9 375.3 201)"/>
<ellipse class="w" cx="374.9" cy="201.3" rx="6.3" ry="3.2" transform="rotate(53.9 374.9 201.3)"/>
<path class="wf" d="M339.1 233.2 L377.8 205 L372.3 197.4 L333.5 225.6Z"/>
<path class="o" d="M339.1 233.2 L377.8 205"/>
<path class="k" d="M333.5 225.6 L372.3 197.4"/>
<ellipse class="w" cx="336.3" cy="229.4" rx="4.7" ry="2.4" transform="rotate(53.9 336.3 229.4)"/>
<ellipse class="w" cx="335.8" cy="229.8" rx="3.4" ry="1.7" transform="rotate(53.9 335.8 229.8)"/>
<path class="t" d="M336.5 226.3 L371.5 200.9"/>
<ellipse class="wo" cx="238.2" cy="304.2" rx="9.6" ry="4.8" transform="rotate(-126.1 238.2 304.2)"/>
<ellipse class="w" cx="236.4" cy="305.5" rx="9.6" ry="4.8" transform="rotate(-126.1 236.4 305.5)"/>
<ellipse class="w" cx="236.4" cy="305.5" rx="7.9" ry="3.9" transform="rotate(-126.1 236.4 305.5)"/>
<path class="w" d="M232.4 300.9 L232.8 305.5 L236.8 310.1 L240.5 310.1 L240 305.5 L236 300.9Z"/>
<path class="w" d="M232.4 300.9 L232.8 305.5 L228 309 L227.5 304.4Z"/>
<path class="w" d="M232.8 305.5 L236.8 310.1 L232 313.6 L228 309Z"/>
<path class="w" d="M236.8 310.1 L240.5 310.1 L235.6 313.6 L232 313.6Z"/>
<path class="w" d="M240.5 310.1 L240 305.5 L235.2 309 L235.6 313.6Z"/>
<path class="w" d="M240 305.5 L236 300.9 L231.1 304.4 L235.2 309Z"/>
<path class="w" d="M236 300.9 L232.4 300.9 L227.5 304.4 L231.1 304.4Z"/>
<path class="w" d="M227.5 304.4 L228 309 L232 313.6 L235.6 313.6 L235.2 309 L231.1 304.4Z"/>
<path class="wo" d="M227.5 304.4 L228 309 L232 313.6 L235.6 313.6 L235.2 309 L231.1 304.4Z"/>
<ellipse class="w" cx="231.6" cy="309" rx="4.5" ry="2.2" transform="rotate(-126.1 231.6 309)"/>
<ellipse class="wo" cx="231.6" cy="309" rx="3.2" ry="1.6" transform="rotate(-126.1 231.6 309)"/>
<ellipse class="wo" cx="222.5" cy="488.2" rx="10.4" ry="4.4" transform="rotate(-55.6 222.5 488.2)"/>
<ellipse class="w" cx="224.5" cy="489.6" rx="10.4" ry="4.4" transform="rotate(-55.6 224.5 489.6)"/>
<ellipse class="w" cx="224.9" cy="489.9" rx="6.3" ry="2.6" transform="rotate(-55.6 224.9 489.9)"/>
<path class="wf" d="M262.3 509.7 L227.4 485.9 L222.1 493.6 L256.9 517.5Z"/>
<path class="k" d="M262.3 509.7 L227.4 485.9"/>
<path class="o" d="M256.9 517.5 L222.1 493.6"/>
<ellipse class="w" cx="259.6" cy="513.6" rx="4.7" ry="2" transform="rotate(-55.6 259.6 513.6)"/>
<ellipse class="w" cx="260.1" cy="513.9" rx="3.4" ry="1.4" transform="rotate(-55.6 260.1 513.9)"/>
<path class="k" d="M331 233.5 L327 236.5"/>
<path class="k" d="M322.5 240 L311 248"/>
<path class="k" d="M250 296 L242 302"/>
<path class="k" d="M257 291 L254.5 293"/>
<path class="k" d="M266 518.5 L274 524"/>
<path class="k" d="M317.5 551 L324 556"/>
<path class="cd" d="M297.6 565.5 L297.6 577"/>
</g>
<g id="p21_bushing">
<path class="wo" d="M335.2 519.7 L342.7 512.2 L346 501.2 L341.7 497.7 L334.1 505.2 L330.9 516.2Z"/>
<path class="wo" d="M335.2 519.7 L342.7 512.2 L349.4 515.8 L341.8 523.3Z"/>
<path class="wo" d="M342.7 512.2 L346 501.2 L352.6 504.8 L349.4 515.8Z"/>
<path class="wo" d="M346 501.2 L341.7 497.7 L348.3 501.3 L352.6 504.8Z"/>
<path class="wo" d="M341.7 497.7 L334.1 505.2 L340.8 508.7 L348.3 501.3Z"/>
<path class="wo" d="M334.1 505.2 L330.9 516.2 L337.5 519.8 L340.8 508.7Z"/>
<path class="wo" d="M330.9 516.2 L335.2 519.7 L341.8 523.3 L337.5 519.8Z"/>
<path class="wo" d="M341.8 523.3 L349.4 515.8 L352.6 504.8 L348.3 501.3 L340.8 508.7 L337.5 519.8Z"/>
<ellipse class="wo" cx="345.1" cy="512.3" rx="14" ry="6.2" transform="rotate(118 345.1 512.3)"/>
<path class="wf" d="M338.5 524.6 L349.1 530.3 L362.2 505.5 L351.6 499.9Z"/>
<path class="o" d="M338.5 524.6 L349.1 530.3"/>
<path class="k" d="M351.6 499.9 L362.2 505.5"/>
<ellipse class="w" cx="355.7" cy="517.9" rx="14" ry="6.2" transform="rotate(118 355.7 517.9)"/>
<ellipse class="w" cx="355.7" cy="517.9" rx="15.4" ry="6.8" transform="rotate(118 355.7 517.9)"/>
<path class="wf" d="M348.4 531.5 L350.6 532.7 L365.1 505.5 L362.9 504.3Z"/>
<path class="o" d="M348.4 531.5 L350.6 532.7"/>
<path class="k" d="M362.9 504.3 L365.1 505.5"/>
<ellipse class="w" cx="357.9" cy="519.1" rx="15.4" ry="6.8" transform="rotate(118 357.9 519.1)"/>
<ellipse class="wo" cx="358.7" cy="519.5" rx="16.4" ry="7.2" transform="rotate(118 358.7 519.5)"/>
<path class="wf" d="M351 534 L355.5 536.4 L370.9 507.4 L366.4 505.1Z"/>
<path class="o" d="M351 534 L355.5 536.4"/>
<path class="k" d="M366.4 505.1 L370.9 507.4"/>
<ellipse class="w" cx="363.2" cy="521.9" rx="16.4" ry="7.2" transform="rotate(118 363.2 521.9)"/>
<path class="h" d="M352.9 536.2 C353.1 536.4 353.4 537.2 353.7 537.5 C354 537.9 354.3 538.2 354.7 538.4 C355 538.6 355.5 538.8 355.9 538.9 C356.3 539 356.8 539 357.3 538.9 C357.8 538.9 358.3 538.8 358.9 538.6 C359.4 538.4 360 538.1 360.6 537.8 C361.2 537.4 361.8 537 362.4 536.6 C363 536.1 363.6 535.6 364.2 535 C364.8 534.4 365.4 533.8 366 533.1 C366.6 532.4 367.2 531.7 367.7 530.9 C368.3 530.2 368.8 529.4 369.3 528.5 C369.9 527.7 370.4 526.8 370.8 526 C371.3 525.1 371.7 524.2 372.1 523.3 C372.5 522.4 372.9 521.5 373.2 520.6 C373.5 519.7 373.8 518.8 374 517.9 C374.3 517.1 374.5 516.2 374.6 515.4 C374.8 514.6 374.9 513.8 374.9 513 C375 512.3 375 511.5 374.9 510.9 C374.9 510.2 374.8 509.6 374.6 509 C374.5 508.4 374.3 507.9 374 507.5 C373.8 507 373.5 506.6 373.2 506.3 C372.9 506 372.5 505.8 372.1 505.6 C371.7 505.4 371.3 505.3 370.8 505.3 C370.4 505.2 369.6 505.4 369.3 505.4"/>
<ellipse class="wo" cx="364.5" cy="522.6" rx="19.2" ry="8.4" transform="rotate(118 364.5 522.6)"/>
<path class="wf" d="M355.5 539.5 L372.7 548.7 L390.7 514.8 L373.5 505.6Z"/>
<path class="o" d="M355.5 539.5 L372.7 548.7"/>
<path class="k" d="M373.5 505.6 L390.7 514.8"/>
<ellipse class="wo" cx="381.7" cy="531.7" rx="19.2" ry="8.4" transform="rotate(118 381.7 531.7)"/>
<path class="k" d="M365.6 543.6 C365.9 543.5 366.7 543.3 367.2 543.1 C367.8 542.9 368.4 542.6 368.9 542.2 C369.5 541.8 370.1 541.4 370.7 540.9 C371.3 540.4 371.9 539.9 372.5 539.3 C373.1 538.7 373.7 538.1 374.3 537.4 C374.8 536.7 375.4 536 376 535.2 C376.5 534.5 377 533.7 377.6 532.8 C378.1 532 378.6 531.2 379 530.3 C379.5 529.4 379.9 528.6 380.3 527.7 C380.7 526.8 381.1 525.9 381.4 525 C381.7 524.1 382 523.3 382.2 522.4 C382.5 521.5 382.7 520.7 382.8 519.9 C383 519 383.1 518.2 383.2 517.5 C383.2 516.7 383.3 516 383.2 515.3 C383.2 514.6 383.2 514 383 513.4 C382.9 512.8 382.7 512 382.6 511.8"/>
<ellipse class="w" cx="382.1" cy="532" rx="16.4" ry="7.2" transform="rotate(118 382.1 532)"/>
<path class="ringd" d="M373.9 547.5 C374.1 547.6 374.7 547.9 375.2 547.9 C375.7 548 376.2 547.9 376.7 547.8 C377.3 547.7 377.8 547.5 378.4 547.2 C379 547 379.6 546.6 380.2 546.2 C380.8 545.8 381.5 545.3 382.1 544.7 C382.7 544.2 383.3 543.6 383.9 542.9 C384.5 542.2 385.2 541.5 385.7 540.7 C386.3 539.9 386.9 539.1 387.4 538.3 C388 537.4 388.5 536.5 389 535.6 C389.5 534.7 389.9 533.8 390.3 532.9 C390.7 531.9 391.1 531 391.4 530.1 C391.7 529.2 392 528.2 392.2 527.4 C392.4 526.5 392.6 525.6 392.7 524.8 C392.8 523.9 392.9 523.1 392.9 522.4 C392.9 521.7 392.8 521 392.7 520.3 C392.6 519.7 392.5 519.1 392.3 518.6 C392 518.1 391.8 517.7 391.5 517.3 C391.2 516.9 390.8 516.6 390.4 516.4 C390 516.2 389.6 516.1 389.1 516 C388.6 516 388.1 516 387.6 516.1 C387 516.2 386.5 516.4 385.9 516.7 C385.3 517 384.7 517.3 384.1 517.7 C383.5 518.1 382.8 518.6 382.2 519.2 C381.6 519.8 381 520.4 380.4 521.1 C379.7 521.7 379.1 522.5 378.5 523.2 C378 524 377.4 524.8 376.8 525.7 C376.3 526.5 375.8 527.4 375.3 528.3 C374.8 529.2 374.4 530.2 374 531.1 C373.6 532 373.2 533 372.9 533.9 C372.6 534.8 372.3 535.7 372.1 536.6 C371.9 537.5 371.7 538.4 371.6 539.2 C371.5 540 371.4 540.8 371.4 541.5 C371.4 542.3 371.5 543 371.6 543.6 C371.7 544.2 371.8 544.8 372 545.3 C372.3 545.8 372.5 546.3 372.8 546.6 C373.1 547 373.7 547.4 373.9 547.5Z"/>
<ellipse class="wo" cx="383" cy="532.4" rx="11.6" ry="5.1" transform="rotate(118 383 532.4)"/>
<path class="wf" d="M378.5 540.9 L457.1 582.7 L466.1 565.7 L387.5 524Z"/>
<path class="o" d="M378.5 540.9 L457.1 582.7"/>
<path class="k" d="M387.5 524 L466.1 565.7"/>
<ellipse class="w" cx="461.6" cy="574.2" rx="9.6" ry="4.2" transform="rotate(118 461.6 574.2)"/>
<path class="t" d="M386.5 542.9 L456.3 580"/>
<ellipse class="wo" cx="461.3" cy="574" rx="19.8" ry="8.7" transform="rotate(118 461.3 574)"/>
<path class="wf" d="M452 591.5 L458.5 595 L477.1 560 L470.6 556.6Z"/>
<path class="o" d="M452 591.5 L458.5 595"/>
<path class="k" d="M470.6 556.6 L477.1 560"/>
<ellipse class="w" cx="467.8" cy="577.5" rx="19.8" ry="8.7" transform="rotate(118 467.8 577.5)"/>
<ellipse class="wo" cx="467.8" cy="577.5" rx="20.4" ry="9" transform="rotate(118 467.8 577.5)"/>
<path class="wf" d="M458.2 595.5 L472.6 603.2 L491.8 567.2 L477.4 559.5Z"/>
<path class="o" d="M458.2 595.5 L472.6 603.2"/>
<path class="k" d="M477.4 559.5 L491.8 567.2"/>
<ellipse class="wo" cx="482.2" cy="585.2" rx="20.4" ry="9" transform="rotate(118 482.2 585.2)"/>
<ellipse class="w" cx="482.7" cy="585.4" rx="17.6" ry="7.7" transform="rotate(118 482.7 585.4)"/>
<ellipse class="wo" cx="482.7" cy="585.4" rx="15.2" ry="6.7" transform="rotate(118 482.7 585.4)"/>
<ellipse class="w" cx="482.7" cy="585.4" rx="12.6" ry="5.5" transform="rotate(118 482.7 585.4)"/>
<ellipse class="wo" cx="482.7" cy="585.4" rx="9.6" ry="4.2" transform="rotate(118 482.7 585.4)"/>
<ellipse class="w" cx="482.7" cy="585.4" rx="6.4" ry="2.8" transform="rotate(118 482.7 585.4)"/>
<ellipse class="w" cx="482.7" cy="585.4" rx="4" ry="1.8" transform="rotate(118 482.7 585.4)"/>
<path class="c2" d="M478.7 592.4 C478.8 592.4 479.1 592.5 479.3 592.5 C479.5 592.6 479.7 592.6 480 592.5 C480.2 592.5 480.5 592.4 480.8 592.2 C481 592.1 481.3 592 481.6 591.8 C481.8 591.6 482.1 591.4 482.4 591.1 C482.7 590.9 483 590.6 483.3 590.3 C483.5 590 483.8 589.6 484.1 589.3 C484.4 588.9 484.6 588.5 484.9 588.2 C485.1 587.8 485.3 587.4 485.6 587 C485.8 586.5 486 586.1 486.2 585.7 C486.3 585.3 486.5 584.9 486.7 584.4 C486.8 584 486.9 583.6 487 583.2 C487.1 582.8 487.2 582.4 487.2 582 C487.3 581.7 487.3 581.3 487.3 581 C487.3 580.6 487.3 580.3 487.3 580 C487.2 579.7 487.1 579.5 487 579.2 C486.9 579 486.8 578.8 486.7 578.6 C486.5 578.5 486.4 578.3 486.2 578.2 C486 578.1 485.8 578.1 485.6 578.1 C485.4 578 485.2 578.1 484.9 578.1 C484.7 578.2 484.4 578.2 484.1 578.4 C483.9 578.5 483.6 578.6 483.3 578.8 C483.1 579 482.8 579.2 482.5 579.5 C482.2 579.8 481.9 580 481.6 580.3 C481.4 580.6 481.1 581 480.8 581.3 C480.5 581.7 480.3 582.1 480 582.5 C479.8 582.8 479.6 583.2 479.3 583.7 C479.1 584.1 478.9 584.5 478.7 584.9 C478.6 585.3 478.4 585.8 478.2 586.2 C478.1 586.6 478 587 477.9 587.4 C477.8 587.8 477.7 588.2 477.7 588.6 C477.6 589 477.6 589.3 477.6 589.7 C477.6 590 477.6 590.3 477.6 590.6 C477.7 590.9 477.8 591.1 477.9 591.4 C478 591.6 478.1 591.8 478.2 592 C478.4 592.1 478.6 592.3 478.7 592.4Z"/>
<ellipse class="wo" cx="330.6" cy="562.4" rx="9.6" ry="4.6" transform="rotate(124 330.6 562.4)"/>
<ellipse class="w" cx="332.4" cy="563.6" rx="9.6" ry="4.6" transform="rotate(124 332.4 563.6)"/>
<ellipse class="w" cx="332.4" cy="563.6" rx="7.9" ry="3.8" transform="rotate(124 332.4 563.6)"/>
<path class="w" d="M329.3 569.2 L333.6 567.1 L336.7 561.5 L335.5 558.1 L331.3 560.2 L328.2 565.7Z"/>
<path class="w" d="M329.3 569.2 L333.6 567.1 L338.6 570.4 L334.3 572.5Z"/>
<path class="w" d="M333.6 567.1 L336.7 561.5 L341.6 564.9 L338.6 570.4Z"/>
<path class="w" d="M336.7 561.5 L335.5 558.1 L340.5 561.5 L341.6 564.9Z"/>
<path class="w" d="M335.5 558.1 L331.3 560.2 L336.2 563.6 L340.5 561.5Z"/>
<path class="w" d="M331.3 560.2 L328.2 565.7 L333.1 569.1 L336.2 563.6Z"/>
<path class="w" d="M328.2 565.7 L329.3 569.2 L334.3 572.5 L333.1 569.1Z"/>
<path class="w" d="M334.3 572.5 L338.6 570.4 L341.6 564.9 L340.5 561.5 L336.2 563.6 L333.1 569.1Z"/>
<path class="wo" d="M334.3 572.5 L338.6 570.4 L341.6 564.9 L340.5 561.5 L336.2 563.6 L333.1 569.1Z"/>
<ellipse class="w" cx="337.4" cy="567" rx="4.5" ry="2.2" transform="rotate(124 337.4 567)"/>
<ellipse class="wo" cx="337.4" cy="567" rx="3.2" ry="1.5" transform="rotate(124 337.4 567)"/>
</g>
<g id="p30_brackets">
<path class="w" d="M828.4 307.2 C828.9 306.7 830.2 304.8 831.5 304 C832.8 303.2 834.6 302.5 836.2 302.5 C837.8 302.5 839.7 303 841 303.8 C842.3 304.6 843.3 306.1 844 307.2 C844.7 308.3 844.9 309.4 845 310.5 C845.1 311.6 845.3 312.1 844.4 313.8 C843.5 315.6 840.5 319.8 839.7 321 L848.3 318.4 L859.1 324.5 L806 390.9 L794.8 387.4 L784.5 397.3 L781 398.2 L766.4 388.3 L765.8 382 L767.2 377.1 L770.7 371.9Z"/>
<path class="k" d="M829.5 308 L772 372.8"/>
<path class="w" d="M838.8 314.6 C836.5 317 827.5 326 825 328.8 C822.5 331.6 823.9 330.6 823.8 331.5 C823.7 332.4 823.7 333.3 824.3 334.2 C824.9 335.1 826.6 336.2 827.6 336.6 C828.6 337 829.6 336.8 830.5 336.6 C831.4 336.4 831 338 832.8 335.3 C834.6 332.6 840 322.7 841.4 320.2"/>
<path class="o" d="M838.8 314.6 C836.5 317 827.5 326 825 328.8 C822.5 331.6 823.9 330.6 823.8 331.5 C823.7 332.4 823.7 333.3 824.3 334.2 C824.9 335.1 827 336.2 827.6 336.6"/>
<path class="o" d="M829.3 307.7 L838.8 314.1"/>
<path class="o" d="M836.5 317.5 L827.5 327.5"/>
<path class="t" d="M841.4 320.2 L844 322.5"/>
<path class="o" d="M771.6 372.8 L772.5 381 L781.9 386.6 L790.5 387.4"/>
<path class="o" d="M778.4 373.2 L800.9 386.6"/>
<path class="o" d="M771.6 372.8 L778.4 373.2"/>
<path class="k" d="M775.5 377 L797 389"/>
<path class="k" d="M854.7 324.5 L800.9 385.7"/>
<path class="k" d="M861.2 327.1 L806 390.9"/>
<path class="w" d="M860.8 323.2 C861.3 322.8 862.8 321.5 864 321 C865.2 320.5 866.8 320.2 868.1 320.2 C869.4 320.2 871 320.6 872 321.2 C873 321.8 873.9 322.7 874.4 324 C874.9 325.3 875.8 326.3 875.2 328.8 C874.6 331.3 873.9 332.6 870.7 339.1 C867.5 345.6 861 359.3 856 367.6 C851 375.9 846.7 381.6 840.5 389.1 C834.3 396.6 823.2 408 819 412.4 C814.8 416.8 816.6 414.9 815.5 415.5 C814.4 416.1 812.7 416.2 812.1 416.3 L797.8 406.4 L797.8 406.4 C797.6 405.9 796.7 404.4 796.6 403.5 C796.5 402.6 796.3 403.2 797 401.2 C797.7 399.2 799.9 393.8 800.9 391.7 C801.9 389.6 802.1 388.9 803 388.8 C803.9 388.7 805.5 390.5 806 390.9 L861.2 327.1Z"/>
<ellipse class="o" cx="864.7" cy="333.1" rx="3.4" ry="2.4" transform="rotate(-50 864.7 333.1)"/>
<ellipse class="o" cx="814.7" cy="401.2" rx="3.2" ry="2.3" transform="rotate(-50 814.7 401.2)"/>
<ellipse class="h" cx="805.2" cy="394.9" rx="2.6" ry="2" transform="rotate(-50 805.2 394.9)"/>
<path class="w" d="M720.1 427.6 L722 424.5 L732.4 415.3 L744.7 429.6 L743.7 438.8 L721.6 428.6Z"/>
<ellipse class="o" cx="728" cy="427.4" rx="2" ry="1.4" transform="rotate(-60 728 427.4)"/>
<path class="w" d="M720.1 427.6 L679.2 505.9 L679.2 505.9 C678.9 506.9 677.5 510.1 677.2 512 C676.9 513.9 676.9 516 677.4 517.5 C677.9 519 678.8 520.5 680 521.3 C681.2 522.1 682.9 522.6 684.5 522.3 C686.1 521.9 688.1 520.6 689.6 519.2 C691.1 517.9 692.6 515 693.2 514.2 L693.2 514.2 C694.2 511.3 698 500.2 699.4 496.8 C700.8 493.4 700.6 494.7 701.5 494 C702.4 493.3 703.6 492.7 704.8 492.6 C706 492.5 707.5 492.7 708.5 493.2 C709.5 493.7 710.4 494.6 710.9 495.6 C711.4 496.7 712.7 496.1 711.3 499.5 C709.9 502.9 703.9 513.5 702.4 516.3 L716.2 526.6 L754.6 445.3 L721.6 428.6Z"/>
<path class="k" d="M721.8 428.9 L681.2 506.8"/>
<path class="o" d="M694.6 513.8 C695.6 511.1 698.9 500.9 700.6 497.6 C702.3 494.3 703.5 494.5 704.9 494.2 C706.3 493.9 708.5 495.1 709.3 496 C710.1 496.9 709.7 499 709.8 499.6"/>
<path class="o" d="M679.5 506.2 L684.5 510.3 L692.4 512.1"/>
<path class="k" d="M683.5 511.5 L686.5 513.3"/>
<path class="o" d="M721.6 428.6 L752.6 445.5"/>
<path class="w" d="M754.6 444.3 L767.4 435 L779.7 448.8 L778.7 458.1 L778.7 458.1 C777.6 460.6 775.7 466.3 772.3 472.9 C768.9 479.5 763.3 489.9 758.5 497.5 C753.7 505.1 748.6 511.8 743.7 518.2 C738.8 524.6 732.4 532.1 729 536 C725.6 539.9 725.1 540.4 723.1 541.4 C721.1 542.4 718.6 542.5 716.7 541.9 C714.9 541.2 712.9 539.1 712 537.5 C711.1 535.9 711.3 533.7 711.5 532 C711.7 530.3 712.9 527.9 713.2 527.1 L754.6 444.3Z"/>
<path class="k" d="M752.6 445.8 L711.7 522.2"/>
<path class="k" d="M758.5 443.3 L717.6 526.1"/>
<path class="o" d="M702.4 516.3 L716.2 526.6"/>
<ellipse class="o" cx="762.5" cy="448.3" rx="2.4" ry="1.7" transform="rotate(-60 762.5 448.3)"/>
<ellipse class="o" cx="769.4" cy="458.1" rx="2.8" ry="1.9" transform="rotate(-60 769.4 458.1)"/>
<ellipse class="o" cx="723.1" cy="530" rx="3" ry="2" transform="rotate(-60 723.1 530)"/>
<path class="k" d="M766 452 L768.5 453.5"/>
<path class="w" d="M1112.4 483.2 C1112.9 482.7 1114.2 480.8 1115.5 480 C1116.8 479.2 1118.6 478.5 1120.2 478.5 C1121.8 478.5 1123.7 479 1125 479.8 C1126.3 480.6 1127.3 482.1 1128 483.2 C1128.7 484.3 1128.9 485.4 1129 486.5 C1129.1 487.6 1129.3 488.1 1128.4 489.8 C1127.5 491.6 1124.5 495.8 1123.7 497 L1132.3 494.4 L1143.1 500.5 L1090 566.9 L1078.8 563.4 L1068.5 573.3 L1065 574.2 L1050.4 564.3 L1049.8 558 L1051.2 553.1 L1054.7 547.9Z"/>
<path class="k" d="M1113.5 484 L1056 548.8"/>
<path class="w" d="M1122.8 490.6 C1120.5 493 1111.5 502 1109 504.8 C1106.5 507.6 1107.9 506.6 1107.8 507.5 C1107.7 508.4 1107.7 509.3 1108.3 510.2 C1108.9 511.1 1110.6 512.2 1111.6 512.6 C1112.6 513 1113.6 512.8 1114.5 512.6 C1115.4 512.4 1115 514 1116.8 511.3 C1118.6 508.6 1124 498.7 1125.4 496.2"/>
<path class="o" d="M1122.8 490.6 C1120.5 493 1111.5 502 1109 504.8 C1106.5 507.6 1107.9 506.6 1107.8 507.5 C1107.7 508.4 1107.7 509.3 1108.3 510.2 C1108.9 511.1 1111 512.2 1111.6 512.6"/>
<path class="o" d="M1113.3 483.7 L1122.8 490.1"/>
<path class="o" d="M1120.5 493.5 L1111.5 503.5"/>
<path class="t" d="M1125.4 496.2 L1128 498.5"/>
<path class="o" d="M1055.6 548.8 L1056.5 557 L1065.9 562.6 L1074.5 563.4"/>
<path class="o" d="M1062.4 549.2 L1084.9 562.6"/>
<path class="o" d="M1055.6 548.8 L1062.4 549.2"/>
<path class="k" d="M1059.5 553 L1081 565"/>
<path class="k" d="M1138.7 500.5 L1084.9 561.7"/>
<path class="k" d="M1145.2 503.1 L1090 566.9"/>
<path class="w" d="M1144.8 499.2 C1145.3 498.8 1146.8 497.5 1148 497 C1149.2 496.5 1150.8 496.2 1152.1 496.2 C1153.4 496.2 1155 496.6 1156 497.2 C1157 497.8 1157.9 498.7 1158.4 500 C1158.9 501.3 1159.8 502.3 1159.2 504.8 C1158.6 507.3 1157.9 508.6 1154.7 515.1 C1151.5 521.6 1145 535.3 1140 543.6 C1135 551.9 1130.7 557.6 1124.5 565.1 C1118.3 572.6 1107.2 584 1103 588.4 C1098.8 592.8 1100.7 590.9 1099.5 591.5 C1098.3 592.1 1096.7 592.2 1096.1 592.3 L1081.8 582.4 L1081.8 582.4 C1081.6 581.9 1080.7 580.4 1080.6 579.5 C1080.5 578.6 1080.3 579.2 1081 577.2 C1081.7 575.2 1083.9 569.8 1084.9 567.7 C1085.9 565.6 1086.2 564.9 1087 564.8 C1087.8 564.7 1089.5 566.5 1090 566.9 L1145.2 503.1Z"/>
<ellipse class="o" cx="1148.7" cy="509.1" rx="3.4" ry="2.4" transform="rotate(-50 1148.7 509.1)"/>
<ellipse class="o" cx="1098.7" cy="577.2" rx="3.2" ry="2.3" transform="rotate(-50 1098.7 577.2)"/>
<ellipse class="h" cx="1089.2" cy="570.9" rx="2.6" ry="2" transform="rotate(-50 1089.2 570.9)"/>
<path class="w" d="M1005.1 603.6 L1007 600.5 L1017.4 591.3 L1029.7 605.6 L1028.7 614.8 L1006.6 604.6Z"/>
<ellipse class="o" cx="1013" cy="603.4" rx="2" ry="1.4" transform="rotate(-60 1013 603.4)"/>
<path class="w" d="M1005.1 603.6 L964.2 681.9 L964.2 681.9 C963.9 682.9 962.5 686.1 962.2 688 C961.9 689.9 961.9 692 962.4 693.5 C962.9 695 963.8 696.5 965 697.3 C966.2 698.1 967.9 698.6 969.5 698.3 C971.1 697.9 973.1 696.6 974.6 695.2 C976.1 693.9 977.6 691 978.2 690.2 L978.2 690.2 C979.2 687.3 983 676.2 984.4 672.8 C985.8 669.4 985.6 670.7 986.5 670 C987.4 669.3 988.6 668.7 989.8 668.6 C991 668.5 992.5 668.7 993.5 669.2 C994.5 669.7 995.4 670.6 995.9 671.6 C996.4 672.6 997.7 672 996.3 675.5 C994.9 679 988.9 689.5 987.4 692.3 L1001.2 702.6 L1039.6 621.3 L1006.6 604.6Z"/>
<path class="k" d="M1006.8 604.9 L966.2 682.8"/>
<path class="o" d="M979.6 689.8 C980.6 687.1 983.9 676.9 985.6 673.6 C987.3 670.3 988.5 670.5 989.9 670.2 C991.3 669.9 993.5 671.1 994.3 672 C995.1 672.9 994.7 675 994.8 675.6"/>
<path class="o" d="M964.5 682.2 L969.5 686.3 L977.4 688.1"/>
<path class="k" d="M968.5 687.5 L971.5 689.3"/>
<path class="o" d="M1006.6 604.6 L1037.6 621.5"/>
<path class="w" d="M1039.6 620.3 L1052.4 611 L1064.7 624.8 L1063.7 634.1 L1063.7 634.1 C1062.6 636.6 1060.7 642.3 1057.3 648.9 C1053.9 655.5 1048.3 666 1043.5 673.5 C1038.7 681 1033.6 687.8 1028.7 694.2 C1023.8 700.6 1017.4 708.1 1014 712 C1010.6 715.9 1010.1 716.4 1008.1 717.4 C1006.1 718.4 1003.6 718.5 1001.7 717.9 C999.9 717.2 997.9 715.1 997 713.5 C996.1 711.9 996.3 709.7 996.5 708 C996.7 706.3 997.9 703.9 998.2 703.1 L1039.6 620.3Z"/>
<path class="k" d="M1037.6 621.8 L996.7 698.2"/>
<path class="k" d="M1043.5 619.3 L1002.6 702.1"/>
<path class="o" d="M987.4 692.3 L1001.2 702.6"/>
<ellipse class="o" cx="1047.5" cy="624.3" rx="2.4" ry="1.7" transform="rotate(-60 1047.5 624.3)"/>
<ellipse class="o" cx="1054.4" cy="634.1" rx="2.8" ry="1.9" transform="rotate(-60 1054.4 634.1)"/>
<ellipse class="o" cx="1008.1" cy="706" rx="3" ry="2" transform="rotate(-60 1008.1 706)"/>
<path class="k" d="M1051 628 L1053.5 629.5"/>
</g>
<g id="p31_midhw">
<path class="w" d="M888.1 344.3 C888 344.3 887.8 344.2 887.6 344.2 C887.4 344.2 887.2 344.2 887 344.3 C886.7 344.3 886.5 344.4 886.3 344.6 C886.1 344.7 885.8 344.9 885.6 345.1 C885.4 345.3 885.2 345.5 884.9 345.8 C884.7 346 884.5 346.3 884.3 346.6 C884.1 346.9 883.9 347.2 883.8 347.5 C883.6 347.8 883.5 348.1 883.3 348.5 C883.2 348.8 883.1 349.1 883 349.5 C882.9 349.8 882.9 350.1 882.9 350.4 C882.8 350.7 882.8 351 882.8 351.2 C882.9 351.5 882.9 351.8 883 352 C883.1 352.2 883.2 352.4 883.3 352.5 C883.4 352.7 883.6 352.8 883.7 352.9Z"/>
<path class="wf" d="M931.8 366.9 L888.1 344.3 L883.7 352.9 L927.4 375.5Z"/>
<path class="k" d="M931.8 366.9 L888.1 344.3"/>
<path class="o" d="M927.4 375.5 L883.7 352.9"/>
<ellipse class="wo" cx="929.6" cy="371.2" rx="10.4" ry="5.2" transform="rotate(-62.7 929.6 371.2)"/>
<ellipse class="wo" cx="931.6" cy="372.2" rx="10.4" ry="5.2" transform="rotate(-62.7 931.6 372.2)"/>
<path class="w" d="M933.6 365.5 L928.9 369.4 L926.8 376.2 L929.5 379 L934.2 375 L936.3 368.3Z"/>
<path class="w" d="M933.6 365.5 L928.9 369.4 L931.9 371 L936.6 367Z"/>
<path class="w" d="M928.9 369.4 L926.8 376.2 L929.9 377.7 L931.9 371Z"/>
<path class="w" d="M926.8 376.2 L929.5 379 L932.5 380.5 L929.9 377.7Z"/>
<path class="w" d="M929.5 379 L934.2 375 L937.2 376.6 L932.5 380.5Z"/>
<path class="w" d="M934.2 375 L936.3 368.3 L939.3 369.8 L937.2 376.6Z"/>
<path class="w" d="M936.3 368.3 L933.6 365.5 L936.6 367 L939.3 369.8Z"/>
<path class="w" d="M936.6 367 L931.9 371 L929.9 377.7 L932.5 380.5 L937.2 376.6 L939.3 369.8Z"/>
<path class="wo" d="M936.6 367 L931.9 371 L929.9 377.7 L932.5 380.5 L937.2 376.6 L939.3 369.8Z"/>
<ellipse class="w" cx="934.6" cy="373.8" rx="4.1" ry="2" transform="rotate(-62.7 934.6 373.8)"/>
<path class="w" d="M787.7 458.6 C787.6 458.6 787.4 458.5 787.3 458.5 C787.1 458.5 786.9 458.5 786.8 458.5 C786.6 458.6 786.4 458.6 786.2 458.7 C786.1 458.8 785.9 459 785.7 459.1 C785.5 459.2 785.3 459.4 785.2 459.6 C785 459.8 784.8 460 784.7 460.2 C784.5 460.4 784.4 460.6 784.3 460.9 C784.1 461.1 784 461.4 783.9 461.6 C783.8 461.8 783.7 462.1 783.7 462.3 C783.6 462.6 783.6 462.8 783.6 463.1 C783.6 463.3 783.6 463.5 783.6 463.7 C783.6 463.9 783.7 464.1 783.7 464.3 C783.8 464.4 783.9 464.6 784 464.7 C784.1 464.8 784.3 464.9 784.3 465Z"/>
<path class="wf" d="M831.3 481.8 L787.7 458.6 L784.3 465 L827.9 488.2Z"/>
<path class="k" d="M831.3 481.8 L787.7 458.6"/>
<path class="o" d="M827.9 488.2 L784.3 465"/>
<path class="k" d="M808.5 477.8 C808.6 477.9 808.8 478 809 478 C809.2 478 809.4 478 809.6 477.9 C809.8 477.8 810 477.7 810.2 477.6 C810.4 477.4 810.6 477.3 810.8 477.1 C811 476.9 811.2 476.6 811.4 476.4 C811.6 476.1 811.8 475.9 811.9 475.6 C812.1 475.3 812.2 475 812.3 474.7 C812.4 474.5 812.5 474.2 812.5 473.9 C812.6 473.6 812.6 473.3 812.6 473.1 C812.6 472.8 812.6 472.6 812.5 472.4 C812.5 472.2 812.4 472 812.3 471.8 C812.2 471.7 811.9 471.5 811.9 471.5"/>
<ellipse class="wo" cx="829.6" cy="485" rx="6.6" ry="3.6" transform="rotate(-62 829.6 485)"/>
<ellipse class="wo" cx="829.6" cy="485" rx="6.6" ry="3.6" transform="rotate(-62 829.6 485)"/>
<path class="w" d="M831.4 479.1 L827.1 482.4 L825.3 488.3 L827.8 490.9 L832.1 487.6 L833.9 481.7Z"/>
<path class="w" d="M831.4 479.1 L827.1 482.4 L830.2 484.1 L834.5 480.8Z"/>
<path class="w" d="M827.1 482.4 L825.3 488.3 L828.5 490 L830.2 484.1Z"/>
<path class="w" d="M825.3 488.3 L827.8 490.9 L831 492.6 L828.5 490Z"/>
<path class="w" d="M827.8 490.9 L832.1 487.6 L835.3 489.3 L831 492.6Z"/>
<path class="w" d="M832.1 487.6 L833.9 481.7 L837.1 483.4 L835.3 489.3Z"/>
<path class="w" d="M833.9 481.7 L831.4 479.1 L834.5 480.8 L837.1 483.4Z"/>
<path class="w" d="M834.5 480.8 L830.2 484.1 L828.5 490 L831 492.6 L835.3 489.3 L837.1 483.4Z"/>
<path class="wo" d="M834.5 480.8 L830.2 484.1 L828.5 490 L831 492.6 L835.3 489.3 L837.1 483.4Z"/>
<ellipse class="w" cx="832.8" cy="486.7" rx="3.5" ry="1.9" transform="rotate(-62 832.8 486.7)"/>
<path class="w" d="M766.8 548.4 C766.7 548.4 766.5 548.3 766.3 548.2 C766.1 548.2 765.9 548.3 765.7 548.3 C765.5 548.4 765.2 548.5 765 548.6 C764.8 548.7 764.5 548.9 764.3 549.1 C764.1 549.3 763.8 549.5 763.6 549.7 C763.4 550 763.2 550.2 763 550.5 C762.8 550.8 762.6 551.1 762.4 551.4 C762.2 551.7 762.1 552.1 761.9 552.4 C761.8 552.7 761.7 553.1 761.6 553.4 C761.5 553.7 761.4 554 761.4 554.3 C761.4 554.6 761.4 554.9 761.4 555.2 C761.4 555.4 761.4 555.7 761.5 555.9 C761.6 556.1 761.7 556.3 761.8 556.4 C761.9 556.6 762.1 556.7 762.2 556.8Z"/>
<path class="wf" d="M809.1 571.8 L766.8 548.4 L762.2 556.8 L804.5 580.2Z"/>
<path class="k" d="M809.1 571.8 L766.8 548.4"/>
<path class="o" d="M804.5 580.2 L762.2 556.8"/>
<ellipse class="wo" cx="806.8" cy="576" rx="10.4" ry="5.2" transform="rotate(-61 806.8 576)"/>
<ellipse class="wo" cx="808.7" cy="577.1" rx="10.4" ry="5.2" transform="rotate(-61 808.7 577.1)"/>
<path class="w" d="M811 570.4 L806.2 574.2 L803.9 580.9 L806.5 583.8 L811.3 580 L813.6 573.3Z"/>
<path class="w" d="M811 570.4 L806.2 574.2 L809.1 575.8 L814 572Z"/>
<path class="w" d="M806.2 574.2 L803.9 580.9 L806.9 582.5 L809.1 575.8Z"/>
<path class="w" d="M803.9 580.9 L806.5 583.8 L809.4 585.4 L806.9 582.5Z"/>
<path class="w" d="M806.5 583.8 L811.3 580 L814.3 581.6 L809.4 585.4Z"/>
<path class="w" d="M811.3 580 L813.6 573.3 L816.5 574.9 L814.3 581.6Z"/>
<path class="w" d="M813.6 573.3 L811 570.4 L814 572 L816.5 574.9Z"/>
<path class="w" d="M814 572 L809.1 575.8 L806.9 582.5 L809.4 585.4 L814.3 581.6 L816.5 574.9Z"/>
<path class="wo" d="M814 572 L809.1 575.8 L806.9 582.5 L809.4 585.4 L814.3 581.6 L816.5 574.9Z"/>
<ellipse class="w" cx="811.7" cy="578.7" rx="4.1" ry="2" transform="rotate(-61 811.7 578.7)"/>
<path class="wo" d="M1049.3 442.7 L1044.4 446.4 L1042 453 L1044.5 456 L1049.4 452.3 L1051.8 445.6Z"/>
<path class="wo" d="M1049.3 442.7 L1044.4 446.4 L1047.4 448.2 L1052.3 444.4Z"/>
<path class="wo" d="M1044.4 446.4 L1042 453 L1045 454.8 L1047.4 448.2Z"/>
<path class="wo" d="M1042 453 L1044.5 456 L1047.5 457.7 L1045 454.8Z"/>
<path class="wo" d="M1044.5 456 L1049.4 452.3 L1052.4 454 L1047.5 457.7Z"/>
<path class="wo" d="M1049.4 452.3 L1051.8 445.6 L1054.8 447.4 L1052.4 454Z"/>
<path class="wo" d="M1051.8 445.6 L1049.3 442.7 L1052.3 444.4 L1054.8 447.4Z"/>
<path class="wo" d="M1052.3 444.4 L1047.4 448.2 L1045 454.8 L1047.5 457.7 L1052.4 454 L1054.8 447.4Z"/>
<ellipse class="wo" cx="1049.9" cy="451.1" rx="10.2" ry="5.1" transform="rotate(-59.9 1049.9 451.1)"/>
<ellipse class="w" cx="1051.8" cy="452.2" rx="10.2" ry="5.1" transform="rotate(-59.9 1051.8 452.2)"/>
<ellipse class="w" cx="1052.2" cy="452.5" rx="6.4" ry="3.2" transform="rotate(-59.9 1052.2 452.5)"/>
<path class="wf" d="M1095.2 471.8 L1054.5 448.2 L1049.6 456.5 L1090.4 480.2Z"/>
<path class="k" d="M1095.2 471.8 L1054.5 448.2"/>
<path class="o" d="M1090.4 480.2 L1049.6 456.5"/>
<ellipse class="w" cx="1092.8" cy="476" rx="4.8" ry="2.4" transform="rotate(-59.9 1092.8 476)"/>
<ellipse class="w" cx="1093.3" cy="476.3" rx="3.5" ry="1.7" transform="rotate(-59.9 1093.3 476.3)"/>
<path class="wo" d="M947.9 561.1 L943.7 564.1 L941.8 569.8 L944.2 572.4 L948.4 569.3 L950.3 563.7Z"/>
<path class="wo" d="M947.9 561.1 L943.7 564.1 L946.6 565.8 L950.9 562.8Z"/>
<path class="wo" d="M943.7 564.1 L941.8 569.8 L944.7 571.4 L946.6 565.8Z"/>
<path class="wo" d="M941.8 569.8 L944.2 572.4 L947.1 574 L944.7 571.4Z"/>
<path class="wo" d="M944.2 572.4 L948.4 569.3 L951.4 571 L947.1 574Z"/>
<path class="wo" d="M948.4 569.3 L950.3 563.7 L953.3 565.4 L951.4 571Z"/>
<path class="wo" d="M950.3 563.7 L947.9 561.1 L950.9 562.8 L953.3 565.4Z"/>
<path class="wo" d="M950.9 562.8 L946.6 565.8 L944.7 571.4 L947.1 574 L951.4 571 L953.3 565.4Z"/>
<ellipse class="wo" cx="949" cy="568.4" rx="6.4" ry="3.5" transform="rotate(-60.3 949 568.4)"/>
<ellipse class="w" cx="949" cy="568.4" rx="6.4" ry="3.5" transform="rotate(-60.3 949 568.4)"/>
<ellipse class="w" cx="949.4" cy="568.6" rx="5.2" ry="2.9" transform="rotate(-60.3 949.4 568.6)"/>
<path class="wf" d="M991.8 588.7 L951 565.4 L947.5 571.7 L988.2 594.9Z"/>
<path class="k" d="M991.8 588.7 L951 565.4"/>
<path class="o" d="M988.2 594.9 L947.5 571.7"/>
<ellipse class="w" cx="990" cy="591.8" rx="3.6" ry="2" transform="rotate(-60.3 990 591.8)"/>
<ellipse class="w" cx="990.5" cy="592.1" rx="2.6" ry="1.4" transform="rotate(-60.3 990.5 592.1)"/>
<path class="wo" d="M906.9 638.1 L902.1 641.9 L899.8 648.6 L902.3 651.5 L907.2 647.7 L909.4 641Z"/>
<path class="wo" d="M906.9 638.1 L902.1 641.9 L905.1 643.6 L909.9 639.8Z"/>
<path class="wo" d="M902.1 641.9 L899.8 648.6 L902.8 650.3 L905.1 643.6Z"/>
<path class="wo" d="M899.8 648.6 L902.3 651.5 L905.4 653.2 L902.8 650.3Z"/>
<path class="wo" d="M902.3 651.5 L907.2 647.7 L910.2 649.4 L905.4 653.2Z"/>
<path class="wo" d="M907.2 647.7 L909.4 641 L912.5 642.7 L910.2 649.4Z"/>
<path class="wo" d="M909.4 641 L906.9 638.1 L909.9 639.8 L912.5 642.7Z"/>
<path class="wo" d="M909.9 639.8 L905.1 643.6 L902.8 650.3 L905.4 653.2 L910.2 649.4 L912.5 642.7Z"/>
<ellipse class="wo" cx="907.7" cy="646.5" rx="10.2" ry="5.1" transform="rotate(-60.9 907.7 646.5)"/>
<ellipse class="w" cx="909.6" cy="647.6" rx="10.2" ry="5.1" transform="rotate(-60.9 909.6 647.6)"/>
<ellipse class="w" cx="910" cy="647.8" rx="6.4" ry="3.2" transform="rotate(-60.9 910 647.8)"/>
<path class="wf" d="M953.3 666.4 L912.2 643.5 L907.5 651.9 L948.7 674.8Z"/>
<path class="k" d="M953.3 666.4 L912.2 643.5"/>
<path class="o" d="M948.7 674.8 L907.5 651.9"/>
<ellipse class="w" cx="951" cy="670.6" rx="4.8" ry="2.4" transform="rotate(-60.9 951 670.6)"/>
<ellipse class="w" cx="951.5" cy="670.9" rx="3.5" ry="1.7" transform="rotate(-60.9 951.5 670.9)"/>
<path class="t" d="M950.4 667.5 L913.4 647"/>
<path class="k" d="M970.2 584.7 C970.3 584.8 970.6 584.9 970.9 584.9 C971.1 584.9 971.3 584.8 971.6 584.7 C971.8 584.6 972.1 584.4 972.4 584.2 C972.6 584 972.9 583.8 973.1 583.5 C973.3 583.2 973.5 582.9 973.7 582.6 C973.9 582.2 974.1 581.9 974.2 581.6 C974.3 581.2 974.4 580.9 974.4 580.5 C974.5 580.2 974.5 579.9 974.4 579.6 C974.4 579.4 974.3 579.1 974.2 578.9 C974.1 578.7 973.8 578.5 973.8 578.5"/>
<path class="wo" d="M790.5 299 L795.1 296.4 L797.9 290.1 L796.2 286.3 L791.7 289 L788.8 295.3Z"/>
<path class="wo" d="M790.5 299 L795.1 296.4 L800.3 299.3 L795.7 301.9Z"/>
<path class="wo" d="M795.1 296.4 L797.9 290.1 L803.1 293 L800.3 299.3Z"/>
<path class="wo" d="M797.9 290.1 L796.2 286.3 L801.5 289.3 L803.1 293Z"/>
<path class="wo" d="M796.2 286.3 L791.7 289 L796.9 291.9 L801.5 289.3Z"/>
<path class="wo" d="M791.7 289 L788.8 295.3 L794.1 298.2 L796.9 291.9Z"/>
<path class="wo" d="M788.8 295.3 L790.5 299 L795.7 301.9 L794.1 298.2Z"/>
<path class="wo" d="M795.7 301.9 L800.3 299.3 L803.1 293 L801.5 289.3 L796.9 291.9 L794.1 298.2Z"/>
<ellipse class="wo" cx="798.6" cy="295.6" rx="10" ry="5" transform="rotate(119.4 798.6 295.6)"/>
<ellipse class="wo" cx="800" cy="296.4" rx="10" ry="5" transform="rotate(119.4 800 296.4)"/>
<ellipse class="w" cx="800" cy="296.4" rx="5.2" ry="2.6" transform="rotate(119.4 800 296.4)"/>
<ellipse class="wo" cx="800" cy="296.4" rx="3.6" ry="1.8" transform="rotate(119.4 800 296.4)"/>
<path class="wo" d="M633.3 486 L637.9 483.4 L640.7 477.1 L639 473.3 L634.5 476 L631.6 482.3Z"/>
<path class="wo" d="M633.3 486 L637.9 483.4 L643.1 486.3 L638.5 488.9Z"/>
<path class="wo" d="M637.9 483.4 L640.7 477.1 L645.9 480 L643.1 486.3Z"/>
<path class="wo" d="M640.7 477.1 L639 473.3 L644.3 476.3 L645.9 480Z"/>
<path class="wo" d="M639 473.3 L634.5 476 L639.7 478.9 L644.3 476.3Z"/>
<path class="wo" d="M634.5 476 L631.6 482.3 L636.9 485.2 L639.7 478.9Z"/>
<path class="wo" d="M631.6 482.3 L633.3 486 L638.5 488.9 L636.9 485.2Z"/>
<path class="wo" d="M638.5 488.9 L643.1 486.3 L645.9 480 L644.3 476.3 L639.7 478.9 L636.9 485.2Z"/>
<ellipse class="wo" cx="641.4" cy="482.6" rx="10" ry="5" transform="rotate(119.4 641.4 482.6)"/>
<ellipse class="wo" cx="642.8" cy="483.4" rx="10" ry="5" transform="rotate(119.4 642.8 483.4)"/>
<ellipse class="w" cx="642.8" cy="483.4" rx="5.2" ry="2.6" transform="rotate(119.4 642.8 483.4)"/>
<ellipse class="wo" cx="642.8" cy="483.4" rx="3.6" ry="1.8" transform="rotate(119.4 642.8 483.4)"/>
<ellipse class="wo" cx="1175.6" cy="524" rx="10" ry="5" transform="rotate(119.4 1175.6 524)"/>
<ellipse class="w" cx="1177.3" cy="525" rx="10" ry="5" transform="rotate(119.4 1177.3 525)"/>
<ellipse class="w" cx="1177.3" cy="525" rx="8.2" ry="4.1" transform="rotate(119.4 1177.3 525)"/>
<path class="w" d="M1174.6 530.9 L1178.9 528.5 L1181.6 522.5 L1180 519 L1175.7 521.5 L1173.1 527.4Z"/>
<path class="w" d="M1174.6 530.9 L1178.9 528.5 L1183.8 531.2 L1179.5 533.7Z"/>
<path class="w" d="M1178.9 528.5 L1181.6 522.5 L1186.5 525.3 L1183.8 531.2Z"/>
<path class="w" d="M1181.6 522.5 L1180 519 L1184.9 521.8 L1186.5 525.3Z"/>
<path class="w" d="M1180 519 L1175.7 521.5 L1180.6 524.2 L1184.9 521.8Z"/>
<path class="w" d="M1175.7 521.5 L1173.1 527.4 L1177.9 530.2 L1180.6 524.2Z"/>
<path class="w" d="M1173.1 527.4 L1174.6 530.9 L1179.5 533.7 L1177.9 530.2Z"/>
<path class="w" d="M1179.5 533.7 L1183.8 531.2 L1186.5 525.3 L1184.9 521.8 L1180.6 524.2 L1177.9 530.2Z"/>
<path class="wo" d="M1179.5 533.7 L1183.8 531.2 L1186.5 525.3 L1184.9 521.8 L1180.6 524.2 L1177.9 530.2Z"/>
<ellipse class="w" cx="1182.2" cy="527.7" rx="4.5" ry="2.2" transform="rotate(119.4 1182.2 527.7)"/>
<ellipse class="wo" cx="1182.2" cy="527.7" rx="3.2" ry="1.6" transform="rotate(119.4 1182.2 527.7)"/>
<ellipse class="wo" cx="1056.8" cy="733.2" rx="10" ry="5" transform="rotate(119.4 1056.8 733.2)"/>
<ellipse class="w" cx="1058.5" cy="734.2" rx="10" ry="5" transform="rotate(119.4 1058.5 734.2)"/>
<ellipse class="w" cx="1058.5" cy="734.2" rx="8.2" ry="4.1" transform="rotate(119.4 1058.5 734.2)"/>
<path class="w" d="M1055.8 740.1 L1060.1 737.7 L1062.8 731.7 L1061.2 728.2 L1056.9 730.7 L1054.3 736.6Z"/>
<path class="w" d="M1055.8 740.1 L1060.1 737.7 L1065 740.4 L1060.7 742.9Z"/>
<path class="w" d="M1060.1 737.7 L1062.8 731.7 L1067.7 734.5 L1065 740.4Z"/>
<path class="w" d="M1062.8 731.7 L1061.2 728.2 L1066.1 731 L1067.7 734.5Z"/>
<path class="w" d="M1061.2 728.2 L1056.9 730.7 L1061.8 733.4 L1066.1 731Z"/>
<path class="w" d="M1056.9 730.7 L1054.3 736.6 L1059.1 739.4 L1061.8 733.4Z"/>
<path class="w" d="M1054.3 736.6 L1055.8 740.1 L1060.7 742.9 L1059.1 739.4Z"/>
<path class="w" d="M1060.7 742.9 L1065 740.4 L1067.7 734.5 L1066.1 731 L1061.8 733.4 L1059.1 739.4Z"/>
<path class="wo" d="M1060.7 742.9 L1065 740.4 L1067.7 734.5 L1066.1 731 L1061.8 733.4 L1059.1 739.4Z"/>
<ellipse class="w" cx="1063.4" cy="736.9" rx="4.5" ry="2.2" transform="rotate(119.4 1063.4 736.9)"/>
<ellipse class="wo" cx="1063.4" cy="736.9" rx="3.2" ry="1.6" transform="rotate(119.4 1063.4 736.9)"/>
<ellipse class="wo" cx="834.9" cy="263.6" rx="13" ry="6.5" transform="rotate(119.4 834.9 263.6)"/>
<ellipse class="w" cx="836.6" cy="264.6" rx="13" ry="6.5" transform="rotate(119.4 836.6 264.6)"/>
<ellipse class="w" cx="836.6" cy="264.6" rx="11" ry="5.5" transform="rotate(119.4 836.6 264.6)"/>
<path class="wf" d="M832.3 272.3 L844.9 279.4 L853.6 264.1 L840.9 256.9Z"/>
<path class="o" d="M832.3 272.3 L844.9 279.4"/>
<path class="k" d="M840.9 256.9 L853.6 264.1"/>
<ellipse class="wo" cx="849.2" cy="271.7" rx="8.8" ry="4.4" transform="rotate(119.4 849.2 271.7)"/>
<ellipse class="b" cx="849.2" cy="271.7" rx="7.6" ry="3.8" transform="rotate(119.4 849.2 271.7)"/>
<ellipse class="w" cx="849.2" cy="271.7" rx="4.6" ry="2.3" transform="rotate(119.4 849.2 271.7)"/>
<ellipse class="w" cx="849.7" cy="271.7" rx="2.6" ry="1.3" transform="rotate(119.4 849.7 271.7)"/>
<path class="t" d="M838.6 261.1 L851.2 268.2"/>
<path class="w" d="M863.6 272.5 C863.5 272.4 863.2 272.3 862.9 272.3 C862.6 272.2 862.3 272.3 862 272.3 C861.7 272.4 861.4 272.6 861.1 272.7 C860.7 272.9 860.4 273.1 860.1 273.4 C859.7 273.7 859.4 274 859.1 274.3 C858.8 274.7 858.4 275.1 858.2 275.5 C857.9 275.9 857.6 276.3 857.3 276.7 C857.1 277.2 856.9 277.6 856.7 278.1 C856.5 278.5 856.3 279 856.2 279.5 C856.1 279.9 856 280.4 855.9 280.8 C855.8 281.2 855.8 281.6 855.8 282 C855.9 282.4 855.9 282.7 856 283 C856.1 283.3 856.2 283.6 856.4 283.8 C856.5 284 856.9 284.2 857 284.3Z"/>
<path class="wf" d="M857 284.3 L887.1 301.1 L893.7 289.3 L863.6 272.5Z"/>
<path class="o" d="M857 284.3 L887.1 301.1"/>
<path class="o" d="M863.6 272.5 L893.7 289.3"/>
<path class="t" d="M857.8 282.8 L887.9 299.6"/>
<ellipse class="wo" cx="890.4" cy="295.2" rx="6.8" ry="3.4" transform="rotate(119.4 890.4 295.2)"/>
<ellipse class="w" cx="890.4" cy="295.2" rx="3.6" ry="1.8" transform="rotate(119.4 890.4 295.2)"/>
<path class="wo" d="M903.5 291.6 C903.3 291.6 902.9 291.4 902.5 291.3 C902.2 291.3 901.8 291.3 901.4 291.4 C901 291.5 900.6 291.7 900.2 291.9 C899.8 292.1 899.4 292.4 898.9 292.8 C898.5 293.1 898.1 293.5 897.7 293.9 C897.3 294.4 896.9 294.9 896.5 295.4 C896.1 295.9 895.8 296.4 895.5 297 C895.2 297.5 894.9 298.1 894.6 298.7 C894.4 299.3 894.2 299.9 894 300.4 C893.9 301 893.7 301.6 893.7 302.1 C893.6 302.7 893.6 303.2 893.6 303.6 C893.6 304.1 893.7 304.5 893.8 304.9 C893.9 305.3 894.1 305.7 894.3 305.9 C894.5 306.2 894.9 306.5 895 306.6Z"/>
<path class="wf" d="M895 306.6 L906.8 313.2 L915.2 298.2 L903.5 291.6Z"/>
<path class="o" d="M895 306.6 L906.8 313.2"/>
<path class="o" d="M903.5 291.6 L915.2 298.2"/>
<ellipse class="wo" cx="911" cy="305.7" rx="13.4" ry="6.7" transform="rotate(119.4 911 305.7)"/>
<ellipse class="wo" cx="913.6" cy="307.2" rx="13.4" ry="6.7" transform="rotate(119.4 913.6 307.2)"/>
<ellipse class="b" cx="913.6" cy="307.2" rx="11.8" ry="5.9" transform="rotate(119.4 913.6 307.2)"/>
<ellipse class="w" cx="913.6" cy="307.2" rx="4.6" ry="2.3" transform="rotate(119.4 913.6 307.2)"/>
<path class="k" d="M911 305.7 L911 305.7"/>
<path class="k" d="M855.6 275.4 L858.3 276.9"/>
<path class="k" d="M892.1 296.6 L896 298.8"/>
<ellipse class="wo" cx="1118.9" cy="439.6" rx="13" ry="6.5" transform="rotate(119.4 1118.9 439.6)"/>
<ellipse class="w" cx="1120.6" cy="440.6" rx="13" ry="6.5" transform="rotate(119.4 1120.6 440.6)"/>
<ellipse class="w" cx="1120.6" cy="440.6" rx="11" ry="5.5" transform="rotate(119.4 1120.6 440.6)"/>
<path class="wf" d="M1116.3 448.3 L1128.9 455.4 L1137.6 440.1 L1124.9 432.9Z"/>
<path class="o" d="M1116.3 448.3 L1128.9 455.4"/>
<path class="k" d="M1124.9 432.9 L1137.6 440.1"/>
<ellipse class="wo" cx="1133.2" cy="447.7" rx="8.8" ry="4.4" transform="rotate(119.4 1133.2 447.7)"/>
<ellipse class="b" cx="1133.2" cy="447.7" rx="7.6" ry="3.8" transform="rotate(119.4 1133.2 447.7)"/>
<ellipse class="w" cx="1133.2" cy="447.7" rx="4.6" ry="2.3" transform="rotate(119.4 1133.2 447.7)"/>
<ellipse class="w" cx="1133.7" cy="447.7" rx="2.6" ry="1.3" transform="rotate(119.4 1133.7 447.7)"/>
<path class="t" d="M1122.6 437.1 L1135.2 444.2"/>
<path class="w" d="M1147.6 448.5 C1147.5 448.4 1147.2 448.3 1146.9 448.3 C1146.6 448.2 1146.3 448.3 1146 448.3 C1145.7 448.4 1145.4 448.6 1145.1 448.7 C1144.7 448.9 1144.4 449.1 1144.1 449.4 C1143.7 449.7 1143.4 450 1143.1 450.3 C1142.8 450.7 1142.4 451.1 1142.2 451.5 C1141.9 451.9 1141.6 452.3 1141.3 452.7 C1141.1 453.2 1140.9 453.6 1140.7 454.1 C1140.5 454.5 1140.3 455 1140.2 455.5 C1140.1 455.9 1140 456.4 1139.9 456.8 C1139.8 457.2 1139.8 457.6 1139.8 458 C1139.9 458.4 1139.9 458.7 1140 459 C1140.1 459.3 1140.2 459.6 1140.4 459.8 C1140.5 460 1140.9 460.2 1141 460.3Z"/>
<path class="wf" d="M1141 460.3 L1171.1 477.1 L1177.7 465.3 L1147.6 448.5Z"/>
<path class="o" d="M1141 460.3 L1171.1 477.1"/>
<path class="o" d="M1147.6 448.5 L1177.7 465.3"/>
<path class="t" d="M1141.8 458.8 L1171.9 475.6"/>
<ellipse class="wo" cx="1174.4" cy="471.2" rx="6.8" ry="3.4" transform="rotate(119.4 1174.4 471.2)"/>
<ellipse class="w" cx="1174.4" cy="471.2" rx="3.6" ry="1.8" transform="rotate(119.4 1174.4 471.2)"/>
<path class="wo" d="M1187.5 467.6 C1187.3 467.6 1186.9 467.4 1186.5 467.3 C1186.2 467.3 1185.8 467.3 1185.4 467.4 C1185 467.5 1184.6 467.7 1184.2 467.9 C1183.8 468.1 1183.4 468.4 1182.9 468.8 C1182.5 469.1 1182.1 469.5 1181.7 469.9 C1181.3 470.4 1180.9 470.9 1180.5 471.4 C1180.1 471.9 1179.8 472.4 1179.5 473 C1179.2 473.5 1178.9 474.1 1178.6 474.7 C1178.4 475.3 1178.2 475.9 1178 476.4 C1177.9 477 1177.7 477.6 1177.7 478.1 C1177.6 478.7 1177.6 479.2 1177.6 479.6 C1177.6 480.1 1177.7 480.5 1177.8 480.9 C1177.9 481.3 1178.1 481.7 1178.3 481.9 C1178.5 482.2 1178.9 482.5 1179 482.6Z"/>
<path class="wf" d="M1179 482.6 L1190.8 489.2 L1199.2 474.2 L1187.5 467.6Z"/>
<path class="o" d="M1179 482.6 L1190.8 489.2"/>
<path class="o" d="M1187.5 467.6 L1199.2 474.2"/>
<ellipse class="wo" cx="1195" cy="481.7" rx="13.4" ry="6.7" transform="rotate(119.4 1195 481.7)"/>
<ellipse class="wo" cx="1197.6" cy="483.2" rx="13.4" ry="6.7" transform="rotate(119.4 1197.6 483.2)"/>
<ellipse class="b" cx="1197.6" cy="483.2" rx="11.8" ry="5.9" transform="rotate(119.4 1197.6 483.2)"/>
<ellipse class="w" cx="1197.6" cy="483.2" rx="4.6" ry="2.3" transform="rotate(119.4 1197.6 483.2)"/>
<path class="k" d="M1195 481.7 L1195 481.7"/>
<path class="k" d="M1139.6 451.4 L1142.3 452.9"/>
<path class="k" d="M1176.1 472.6 L1180 474.8"/>
<path class="ring" d="M631.6 372.5 C631.5 370.7 630.4 364.3 630.8 361.5 C631.2 358.7 632.5 357.1 634 355.5 C635.5 353.9 637 352.8 639.5 352 C642 351.2 646.1 350.4 648.7 350.6 C651.3 350.8 652.9 352 655 353.4 C657.1 354.8 659.1 356.2 661.5 358.8 C663.9 361.4 667.5 364.6 669.6 368.7 C671.7 372.8 673.2 378.8 674.2 383.2 C675.2 387.6 675 392.1 675.6 395.2 C676.2 398.3 677.5 400.5 677.9 401.6"/>
<path class="ringd" d="M631.6 372.5 C631.5 370.7 630.4 364.3 630.8 361.5 C631.2 358.7 632.5 357.1 634 355.5 C635.5 353.9 637 352.8 639.5 352 C642 351.2 646.1 350.4 648.7 350.6 C651.3 350.8 652.9 352 655 353.4 C657.1 354.8 659.1 356.2 661.5 358.8 C663.9 361.4 667.5 364.6 669.6 368.7 C671.7 372.8 673.2 378.8 674.2 383.2 C675.2 387.6 675 392.1 675.6 395.2 C676.2 398.3 677.5 400.5 677.9 401.6"/>
<path class="h" d="M677.9 401.6 L676 406 L670 409"/>
<ellipse class="wo" cx="628.6" cy="379.2" rx="6.6" ry="3.6" transform="rotate(119.4 628.6 379.2)"/>
<ellipse class="wo" cx="630.6" cy="380.3" rx="6.2" ry="3.4" transform="rotate(119.4 630.6 380.3)"/>
<ellipse class="w" cx="632.6" cy="381.4" rx="4.6" ry="2.5" transform="rotate(119.4 632.6 381.4)"/>
<path class="wf" d="M631.5 385.3 L677.7 408 L681.5 401.2 L635.3 378.5Z"/>
<path class="h" d="M631.5 385.3 L672.7 405.2"/>
<path class="o" d="M635.3 378.5 L681.5 401.2"/>
<ellipse class="wo" cx="679.6" cy="404.6" rx="3.9" ry="2.1" transform="rotate(119.4 679.6 404.6)"/>
<path class="ring" d="M669.6 368.7 C670.4 371.1 673.2 378.8 674.2 383.2 C675.2 387.6 675 392.1 675.6 395.2 C676.2 398.3 677.5 400.5 677.9 401.6"/>
<path class="ringd" d="M669.6 368.7 C670.4 371.1 673.2 378.8 674.2 383.2 C675.2 387.6 675 392.1 675.6 395.2 C676.2 398.3 677.5 400.5 677.9 401.6"/>
<path class="ring" d="M631.6 372.5 L631.4 366"/>
<ellipse class="wo" cx="1099" cy="660.6" rx="3.9" ry="2.1" transform="rotate(119.4 1099 660.6)"/>
<path class="ring" d="M1103.6 659.5 C1103.6 657.7 1103 652.1 1103.8 648.9 C1104.6 645.7 1106 642.7 1108.2 640.5 C1110.4 638.3 1113.7 636 1117.2 635.5 C1120.7 635 1125.8 635.7 1129.3 637.3 C1132.8 638.9 1135.6 642 1138.3 645.3 C1141 648.6 1143.8 653.3 1145.5 657.3 C1147.2 661.3 1148 665.4 1148.8 669.4 C1149.5 673.4 1149.8 679.1 1150 681"/>
<path class="ringd" d="M1103.6 659.5 C1103.6 657.7 1103 652.1 1103.8 648.9 C1104.6 645.7 1106 642.7 1108.2 640.5 C1110.4 638.3 1113.7 636 1117.2 635.5 C1120.7 635 1125.8 635.7 1129.3 637.3 C1132.8 638.9 1135.6 642 1138.3 645.3 C1141 648.6 1143.8 653.3 1145.5 657.3 C1147.2 661.3 1148 665.4 1148.8 669.4 C1149.5 673.4 1149.8 679.1 1150 681"/>
<path class="wf" d="M1097.1 664 L1143.7 689 L1147.5 682.2 L1100.9 657.2Z"/>
<path class="h" d="M1099.1 665 L1143.7 689"/>
<path class="o" d="M1104.9 659.2 L1147.5 682.2"/>
<path class="h" d="M1102 664.5 L1101 668.5 L1103.5 668"/>
<path class="ring" d="M1103.6 659.5 C1103.6 657.7 1103 652.1 1103.8 648.9 C1104.6 645.7 1107.5 641.9 1108.2 640.5"/>
<path class="ringd" d="M1103.6 659.5 C1103.6 657.7 1103 652.1 1103.8 648.9 C1104.6 645.7 1107.5 641.9 1108.2 640.5"/>
<ellipse class="wo" cx="1144.6" cy="685.3" rx="7.6" ry="4.2" transform="rotate(119.4 1144.6 685.3)"/>
<ellipse class="wo" cx="1146.6" cy="686.4" rx="7.6" ry="4.2" transform="rotate(119.4 1146.6 686.4)"/>
<ellipse class="wo" cx="1149.4" cy="688" rx="7.4" ry="4.1" transform="rotate(119.4 1149.4 688)"/>
<path class="ring" d="M1145.5 657.3 C1146 659.3 1148 665.4 1148.8 669.4 C1149.5 673.4 1149.8 679.1 1150 681"/>
<path class="ringd" d="M1145.5 657.3 C1146 659.3 1148 665.4 1148.8 669.4 C1149.5 673.4 1149.8 679.1 1150 681"/>
<ellipse class="wh" cx="700.2" cy="413.2" rx="6.2" ry="6.5" transform="rotate(0 700.2 413.2)"/>
<path class="o" d="M696.8 413.4 L701.4 408.6"/>
<path class="o" d="M699.6 414.4 L704.6 410.6"/>
<path class="k" d="M696.6 413.8 L699.4 417.8"/>
<path class="k" d="M700.4 413.8 L702.8 417.4"/>
<path class="k" d="M701.8 412 L704.8 415.8"/>
<path class="k" d="M700.6 408.8 L704.8 410.2"/>
<ellipse class="wo" cx="1078.8" cy="640.6" rx="6.8" ry="4.2" transform="rotate(119.4 1078.8 640.6)"/>
<path class="wo" d="M1076.6 646.6 L1081.4 644 L1083.6 637.9 L1081 634.5 L1076.2 637.1 L1074 643.2Z"/>
<path class="wo" d="M1076.6 646.6 L1081.4 644 L1084.9 646 L1080.1 648.6Z"/>
<path class="wo" d="M1081.4 644 L1083.6 637.9 L1087.1 639.9 L1084.9 646Z"/>
<path class="wo" d="M1083.6 637.9 L1081 634.5 L1084.5 636.5 L1087.1 639.9Z"/>
<path class="wo" d="M1081 634.5 L1076.2 637.1 L1079.7 639.1 L1084.5 636.5Z"/>
<path class="wo" d="M1076.2 637.1 L1074 643.2 L1077.5 645.2 L1079.7 639.1Z"/>
<path class="wo" d="M1074 643.2 L1076.6 646.6 L1080.1 648.6 L1077.5 645.2Z"/>
<path class="wo" d="M1080.1 648.6 L1084.9 646 L1087.1 639.9 L1084.5 636.5 L1079.7 639.1 L1077.5 645.2Z"/>
<ellipse class="b" cx="1082.3" cy="642.5" rx="5.6" ry="3.5" transform="rotate(119.4 1082.3 642.5)"/>
<ellipse class="wf" cx="1080.8" cy="640.5" rx="0.6" ry="0.6" transform="rotate(0 1080.8 640.5)"/>
<ellipse class="wf" cx="1083.8" cy="641" rx="0.6" ry="0.6" transform="rotate(0 1083.8 641)"/>
<ellipse class="wf" cx="1080.8" cy="643.5" rx="0.6" ry="0.6" transform="rotate(0 1080.8 643.5)"/>
<ellipse class="wf" cx="1083.8" cy="644" rx="0.6" ry="0.6" transform="rotate(0 1083.8 644)"/>
<path class="k" d="M812 303.5 L818 306.8"/>
<path class="k" d="M822.5 309.3 L824.5 310.4"/>
<path class="k" d="M876 343 L883 347"/>
<path class="k" d="M721 425.3 L723 426.3"/>
<path class="k" d="M780 459 L783.5 461"/>
<path class="k" d="M655 490 L661 493.3"/>
<path class="k" d="M668 497 L679 503"/>
<path class="k" d="M736 535.5 L740 537.6"/>
<path class="k" d="M746 541 L758 547.5"/>
<path class="k" d="M1097.5 479 L1107 484.3"/>
<path class="k" d="M1162.5 517.5 L1166.5 519.7"/>
<path class="k" d="M993 594 L997.5 596.5"/>
<path class="k" d="M954.5 672.5 L962 676.7"/>
<path class="k" d="M1066 635.5 L1071 638.3"/>
<path class="k" d="M1088.5 648.5 L1096 652.7"/>
<path class="k" d="M1020 713 L1024.5 715.5"/>
<path class="k" d="M1029.5 718.3 L1040.5 724.4"/>
<path class="cd" d="M683 406 L691 410.4"/>
<path class="cd" d="M709 419 L719 424.2"/>
</g>
<g id="p40_topright">
<path class="wo" d="M1539.6 71.4 L1540.3 67.1 L1536.8 61.5 L1532.6 60.2 L1532 64.5 L1535.4 70.1Z"/>
<path class="wo" d="M1539.6 71.4 L1540.3 67.1 L1534.8 70.5 L1534.1 74.8Z"/>
<path class="wo" d="M1540.3 67.1 L1536.8 61.5 L1531.3 64.9 L1534.8 70.5Z"/>
<path class="wo" d="M1536.8 61.5 L1532.6 60.2 L1527.1 63.6 L1531.3 64.9Z"/>
<path class="wo" d="M1532.6 60.2 L1532 64.5 L1526.4 67.9 L1527.1 63.6Z"/>
<path class="wo" d="M1532 64.5 L1535.4 70.1 L1529.9 73.5 L1526.4 67.9Z"/>
<path class="wo" d="M1535.4 70.1 L1539.6 71.4 L1534.1 74.8 L1529.9 73.5Z"/>
<path class="wo" d="M1534.1 74.8 L1534.8 70.5 L1531.3 64.9 L1527.1 63.6 L1526.4 67.9 L1529.9 73.5Z"/>
<ellipse class="w" cx="1530.2" cy="69.5" rx="5.6" ry="2.8" transform="rotate(58.1 1530.2 69.5)"/>
<path class="wf" d="M1479.2 106 L1532.3 72.9 L1528 66 L1474.8 99Z"/>
<path class="o" d="M1479.2 106 L1532.3 72.9"/>
<path class="k" d="M1474.8 99 L1528 66"/>
<ellipse class="wo" cx="1477" cy="102.5" rx="4.1" ry="2" transform="rotate(58.1 1477 102.5)"/>
<path class="t" d="M1477.7 99.9 L1527.1 69.2"/>
<path class="k" d="M1498.4 94.1 C1498.4 94 1498.7 93.8 1498.8 93.6 C1498.9 93.4 1499 93.1 1499 92.8 C1499 92.5 1499 92.1 1498.9 91.8 C1498.8 91.4 1498.7 91 1498.5 90.6 C1498.4 90.3 1498.2 89.9 1497.9 89.5 C1497.7 89.2 1497.5 88.8 1497.2 88.5 C1496.9 88.2 1496.6 87.9 1496.3 87.7 C1496.1 87.5 1495.7 87.3 1495.5 87.1 C1495.2 87 1494.9 87 1494.7 87 C1494.4 86.9 1494.1 87.1 1494 87.1"/>
<path class="k" d="M1494 87.1 C1494 87.2 1493.7 87.4 1493.6 87.6 C1493.5 87.8 1493.4 88.1 1493.4 88.4 C1493.4 88.7 1493.4 89.1 1493.5 89.4 C1493.6 89.8 1493.7 90.2 1493.9 90.6 C1494 90.9 1494.2 91.3 1494.5 91.7 C1494.7 92 1494.9 92.4 1495.2 92.7 C1495.5 93 1495.8 93.3 1496.1 93.5 C1496.3 93.7 1496.7 93.9 1496.9 94.1 C1497.2 94.2 1497.5 94.2 1497.7 94.2 C1498 94.3 1498.3 94.1 1498.4 94.1"/>
<path class="wo" d="M1541.8 109.7 L1542.5 105.4 L1539 99.8 L1534.8 98.6 L1534.1 102.9 L1537.6 108.5Z"/>
<path class="wo" d="M1541.8 109.7 L1542.5 105.4 L1537 108.9 L1536.3 113.2Z"/>
<path class="wo" d="M1542.5 105.4 L1539 99.8 L1533.5 103.3 L1537 108.9Z"/>
<path class="wo" d="M1539 99.8 L1534.8 98.6 L1529.3 102 L1533.5 103.3Z"/>
<path class="wo" d="M1534.8 98.6 L1534.1 102.9 L1528.6 106.3 L1529.3 102Z"/>
<path class="wo" d="M1534.1 102.9 L1537.6 108.5 L1532.1 111.9 L1528.6 106.3Z"/>
<path class="wo" d="M1537.6 108.5 L1541.8 109.7 L1536.3 113.2 L1532.1 111.9Z"/>
<path class="wo" d="M1536.3 113.2 L1537 108.9 L1533.5 103.3 L1529.3 102 L1528.6 106.3 L1532.1 111.9Z"/>
<ellipse class="w" cx="1532.4" cy="107.9" rx="5.6" ry="2.8" transform="rotate(57.9 1532.4 107.9)"/>
<path class="wf" d="M1480.8 145.1 L1534.6 111.3 L1530.2 104.4 L1476.4 138.1Z"/>
<path class="o" d="M1480.8 145.1 L1534.6 111.3"/>
<path class="k" d="M1476.4 138.1 L1530.2 104.4"/>
<ellipse class="wo" cx="1478.6" cy="141.6" rx="4.1" ry="2" transform="rotate(57.9 1478.6 141.6)"/>
<path class="t" d="M1479.3 139 L1529.3 107.6"/>
<path class="k" d="M1500.6 132.7 C1500.7 132.6 1500.9 132.4 1501 132.2 C1501.1 131.9 1501.2 131.7 1501.2 131.4 C1501.2 131.1 1501.2 130.7 1501.1 130.4 C1501 130 1500.9 129.6 1500.7 129.2 C1500.6 128.9 1500.4 128.5 1500.1 128.1 C1499.9 127.8 1499.6 127.4 1499.4 127.1 C1499.1 126.8 1498.8 126.5 1498.5 126.3 C1498.2 126.1 1497.9 125.9 1497.7 125.7 C1497.4 125.6 1497.1 125.6 1496.9 125.6 C1496.6 125.6 1496.3 125.7 1496.2 125.7"/>
<path class="k" d="M1496.2 125.7 C1496.1 125.8 1495.9 126 1495.8 126.2 C1495.7 126.5 1495.6 126.7 1495.6 127 C1495.6 127.3 1495.6 127.7 1495.7 128 C1495.8 128.4 1495.9 128.8 1496.1 129.2 C1496.2 129.5 1496.4 129.9 1496.7 130.3 C1496.9 130.6 1497.2 131 1497.4 131.3 C1497.7 131.6 1498 131.9 1498.3 132.1 C1498.6 132.3 1498.9 132.5 1499.1 132.7 C1499.4 132.8 1499.7 132.8 1499.9 132.8 C1500.2 132.8 1500.5 132.7 1500.6 132.7"/>
<ellipse class="wo" cx="1460.2" cy="113.7" rx="8" ry="4.2" transform="rotate(58.2 1460.2 113.7)"/>
<ellipse class="wo" cx="1459.2" cy="114.3" rx="8" ry="4.2" transform="rotate(58.2 1459.2 114.3)"/>
<ellipse class="wo" cx="1459.2" cy="114.3" rx="3.6" ry="1.9" transform="rotate(58.2 1459.2 114.3)"/>
<path class="k" d="M1457.7 114.3 L1460.7 114.3"/>
<ellipse class="wo" cx="1462.1" cy="152.5" rx="8" ry="4.2" transform="rotate(58.2 1462.1 152.5)"/>
<ellipse class="wo" cx="1461.1" cy="153.1" rx="8" ry="4.2" transform="rotate(58.2 1461.1 153.1)"/>
<ellipse class="wo" cx="1461.1" cy="153.1" rx="3.6" ry="1.9" transform="rotate(58.2 1461.1 153.1)"/>
<path class="k" d="M1459.6 153.1 L1462.6 153.1"/>
<ellipse class="b" cx="1213.2" cy="270.9" rx="8.4" ry="5.2" transform="rotate(-120.2 1213.2 270.9)"/>
<path class="b" d="M1212.3 262.1 C1212.1 263.2 1210.9 266.5 1211.5 268.6 C1212.2 270.8 1214.6 274 1216.3 275.1 C1218.1 276.2 1220.8 276.2 1221.8 275.2 C1222.9 274.1 1223.2 270.8 1222.6 268.7 C1221.9 266.5 1218.6 263.3 1217.8 262.2Z"/>
<ellipse class="b" cx="1214.9" cy="269.9" rx="8.6" ry="6.9" transform="rotate(-120.2 1214.9 269.9)"/>
<path class="wf" d="M1212.7 266.1 l3.4 -3 l3.2 4.2 l-3 2.4Z"/>
<path class="wf" d="M1216.9 271.5 l3.4 -2 l0.4 4.2 l-3.2 2.2Z"/>
<path class="wf" d="M1210.3 268.9 h1 v1 h-1Z"/>
<path class="wf" d="M1209.7 272.5 h1 v1 h-1Z"/>
<path class="wf" d="M1212.3 272.5 h1 v1 h-1Z"/>
<path class="wf" d="M1214.9 274.5 h1 v1 h-1Z"/>
<path class="wf" d="M1219.7 267.5 h1 v1 h-1Z"/>
<path class="wf" d="M1220.7 271.9 h1 v1 h-1Z"/>
<path class="wf" d="M1214.3 263.5 h1 v1 h-1Z"/>
<path class="wf" d="M1217.3 265.3 h1 v1 h-1Z"/>
<ellipse class="b" cx="1215.4" cy="310" rx="8.4" ry="5.2" transform="rotate(-120.2 1215.4 310)"/>
<path class="b" d="M1214.5 301.2 C1214.3 302.3 1213.1 305.6 1213.7 307.7 C1214.4 309.9 1216.8 313.1 1218.5 314.2 C1220.3 315.3 1223 315.3 1224 314.3 C1225.1 313.2 1225.4 309.9 1224.8 307.8 C1224.1 305.6 1220.8 302.4 1220 301.3Z"/>
<ellipse class="b" cx="1217.1" cy="309" rx="8.6" ry="6.9" transform="rotate(-120.2 1217.1 309)"/>
<path class="wf" d="M1214.9 305.2 l3.4 -3 l3.2 4.2 l-3 2.4Z"/>
<path class="wf" d="M1219.1 310.6 l3.4 -2 l0.4 4.2 l-3.2 2.2Z"/>
<path class="wf" d="M1212.5 308 h1 v1 h-1Z"/>
<path class="wf" d="M1211.9 311.6 h1 v1 h-1Z"/>
<path class="wf" d="M1214.5 311.6 h1 v1 h-1Z"/>
<path class="wf" d="M1217.1 313.6 h1 v1 h-1Z"/>
<path class="wf" d="M1221.9 306.6 h1 v1 h-1Z"/>
<path class="wf" d="M1222.9 311 h1 v1 h-1Z"/>
<path class="wf" d="M1216.5 302.6 h1 v1 h-1Z"/>
<path class="wf" d="M1219.5 304.4 h1 v1 h-1Z"/>
<path class="wo" d="M1308.7 198.9 L1326.6 188.2 L1352.7 201.3 L1352.7 201.3 C1353.6 200.8 1356.4 199 1358 198.4 C1359.6 197.8 1360.9 197.5 1362.3 197.7 C1363.7 197.9 1365.3 198.7 1366.5 199.8 C1367.7 200.9 1369 202.1 1369.3 204.5 C1369.6 206.9 1369.4 210.8 1368.6 214 C1367.8 217.2 1366.4 220.4 1364.5 223.5 C1362.6 226.6 1359.5 230.1 1357 232.5 C1354.5 234.9 1353.1 236.1 1349.6 238 C1346.1 239.9 1338.3 243.1 1336.1 244.1 L1309.3 229.6Z"/>
<path class="h" d="M1327.3 187.5 C1327.8 187 1329.1 185.3 1330.5 184.6 C1331.9 183.9 1334.1 183.4 1335.8 183.4 C1337.5 183.4 1339.1 183.9 1340.5 184.6 C1341.9 185.3 1343.8 187 1344.4 187.5"/>
<path class="o" d="M1344.4 187.5 L1358.5 197.6"/>
<path class="k" d="M1329 188.6 L1352 202"/>
<path class="o" d="M1327.3 187.5 L1327.6 189.8"/>
<path class="o" d="M1308.7 198.9 L1334.9 214.6 L1336.1 244.1"/>
<path class="o" d="M1334.9 214.6 L1352.7 201.3"/>
<path class="h" d="M1309.9 198.3 L1320.7 192.9"/>
<path class="o" d="M1334.9 214.6 L1336.1 244.1"/>
<path class="t" d="M1310 200.9 L1333.6 215 L1334.7 242.2 L1310.6 229.1Z"/>
<path class="k" d="M1311.9 204.5 L1320.3 209.4 L1320.6 218.8 L1312.1 213.9Z"/>
<path class="t" d="M1313.8 207.7 L1319.6 211.1 L1319.8 217.4 L1314 214.1Z"/>
<path class="t" d="M1314 214.1 L1319.6 211.1"/>
<path class="t" d="M1313.9 210.9 L1316.7 209.4"/>
<path class="k" d="M1312.2 218.2 L1320.7 223 L1321 232.4 L1312.4 227.7Z"/>
<path class="t" d="M1314.1 221.4 L1320 224.7 L1320.2 231 L1314.3 227.8Z"/>
<path class="t" d="M1314.3 227.8 L1320 224.7"/>
<path class="t" d="M1314.2 224.6 L1317.1 223"/>
<path class="k" d="M1323.5 211.3 L1331.9 216.3 L1332.2 225.5 L1323.8 220.6Z"/>
<path class="t" d="M1325.4 214.5 L1331.2 217.9 L1331.4 224.1 L1325.6 220.8Z"/>
<path class="t" d="M1325.6 220.8 L1331.2 217.9"/>
<path class="t" d="M1325.5 217.6 L1328.3 216.2"/>
<path class="k" d="M1323.9 224.8 L1332.4 229.6 L1332.7 238.8 L1324.2 234.1Z"/>
<path class="t" d="M1325.8 228 L1331.7 231.2 L1331.9 237.5 L1326 234.2Z"/>
<path class="t" d="M1326 234.2 L1331.7 231.2"/>
<path class="t" d="M1325.9 231.1 L1328.8 229.6"/>
<path class="o" d="M1309 214.2 L1335.5 229.3"/>
<path class="k" d="M1321.8 206.8 L1322.7 236.8"/>
<path class="ring" d="M1353.5 202 C1352.3 203.4 1351.2 206 1350 208.5 C1348.8 211 1347.2 214.4 1346.2 217 C1345.2 219.6 1344.6 221.9 1344.3 224 C1344 226.1 1344.1 228.1 1344.6 229.5 C1345.1 230.9 1346.3 231.9 1347.5 232.3 C1348.7 232.7 1350.3 232.6 1352 231.8 C1353.7 231 1355.8 229.2 1357.5 227.5 C1359.2 225.8 1360.7 223.8 1362 221.5 C1363.3 219.2 1364.6 216 1365.3 213.5 C1366 211 1366.5 208.4 1366.4 206.5 C1366.4 204.6 1365.8 202.9 1365 201.8 C1364.2 200.7 1362.8 200.1 1361.5 199.8 C1360.2 199.5 1358.3 199.8 1357 200.2 C1355.7 200.6 1354.7 200.6 1353.5 202Z"/>
<path class="ringd" d="M1353.5 202 C1352.3 203.4 1351.2 206 1350 208.5 C1348.8 211 1347.2 214.4 1346.2 217 C1345.2 219.6 1344.6 221.9 1344.3 224 C1344 226.1 1344.1 228.1 1344.6 229.5 C1345.1 230.9 1346.3 231.9 1347.5 232.3 C1348.7 232.7 1350.3 232.6 1352 231.8 C1353.7 231 1355.8 229.2 1357.5 227.5 C1359.2 225.8 1360.7 223.8 1362 221.5 C1363.3 219.2 1364.6 216 1365.3 213.5 C1366 211 1366.5 208.4 1366.4 206.5 C1366.4 204.6 1365.8 202.9 1365 201.8 C1364.2 200.7 1362.8 200.1 1361.5 199.8 C1360.2 199.5 1358.3 199.8 1357 200.2 C1355.7 200.6 1354.7 200.6 1353.5 202Z"/>
<path class="h" d="M1352.6 206.3 C1352 207.6 1349.8 211.6 1348.8 214 C1347.8 216.4 1347 219.8 1346.6 221"/>
<path class="h" d="M1343.6 222.5 C1343.9 223.2 1344.4 226 1345.6 227 C1346.8 228 1348.9 228.8 1350.5 228.6 C1352.1 228.4 1354.2 226.4 1355 226"/>
<path class="k" d="M1336.6 228.6 L1343.8 223.6"/>
<path class="k" d="M1464.5 111.5 L1466.5 110.3"/>
<path class="k" d="M1468.5 109.2 L1470.5 108"/>
<path class="k" d="M1472.3 107 L1473.5 106.3"/>
<path class="k" d="M1466.6 149.6 L1474.8 145"/>
<path class="k" d="M1295.3 218.3 L1304.8 213.3"/>
<path class="k" d="M1320.2 203.1 L1329.8 197.4"/>
<path class="k" d="M1344.8 187.2 L1354.8 181.4"/>
<path class="k" d="M1360.2 177.5 L1363.8 175.7"/>
<path class="k" d="M1370 171.2 L1381.5 164.6"/>
<path class="k" d="M1439 131 L1443 128.6"/>
<path class="k" d="M1430 136.5 L1433 134.8"/>
<path class="k" d="M1301.2 255 L1310.8 249.5"/>
<path class="k" d="M1316.2 245.3 L1319.8 243.2"/>
<path class="k" d="M1371 210 L1375 208.5"/>
<path class="k" d="M1381 204.3 L1392 198"/>
<path class="k" d="M1443 168.5 L1448.5 165.2"/>
<path class="k" d="M1222.7 265.5 L1230.7 260.8"/>
<path class="k" d="M1223.8 304.5 L1232.7 299.3"/>
<path class="k" d="M1238.2 295.4 L1242.1 293.5"/>
<path class="k" d="M1248.2 289 L1257.9 283.2"/>
<path class="k" d="M1263.1 279.1 L1267 277.1"/>
<path class="k" d="M1272.5 274 L1284 267.3"/>
<path class="k" d="M1289.5 263.6 L1293.5 261.5"/>
<path class="k" d="M1286.7 224.3 L1289 223"/>
</g>
</svg>
</body></html>
